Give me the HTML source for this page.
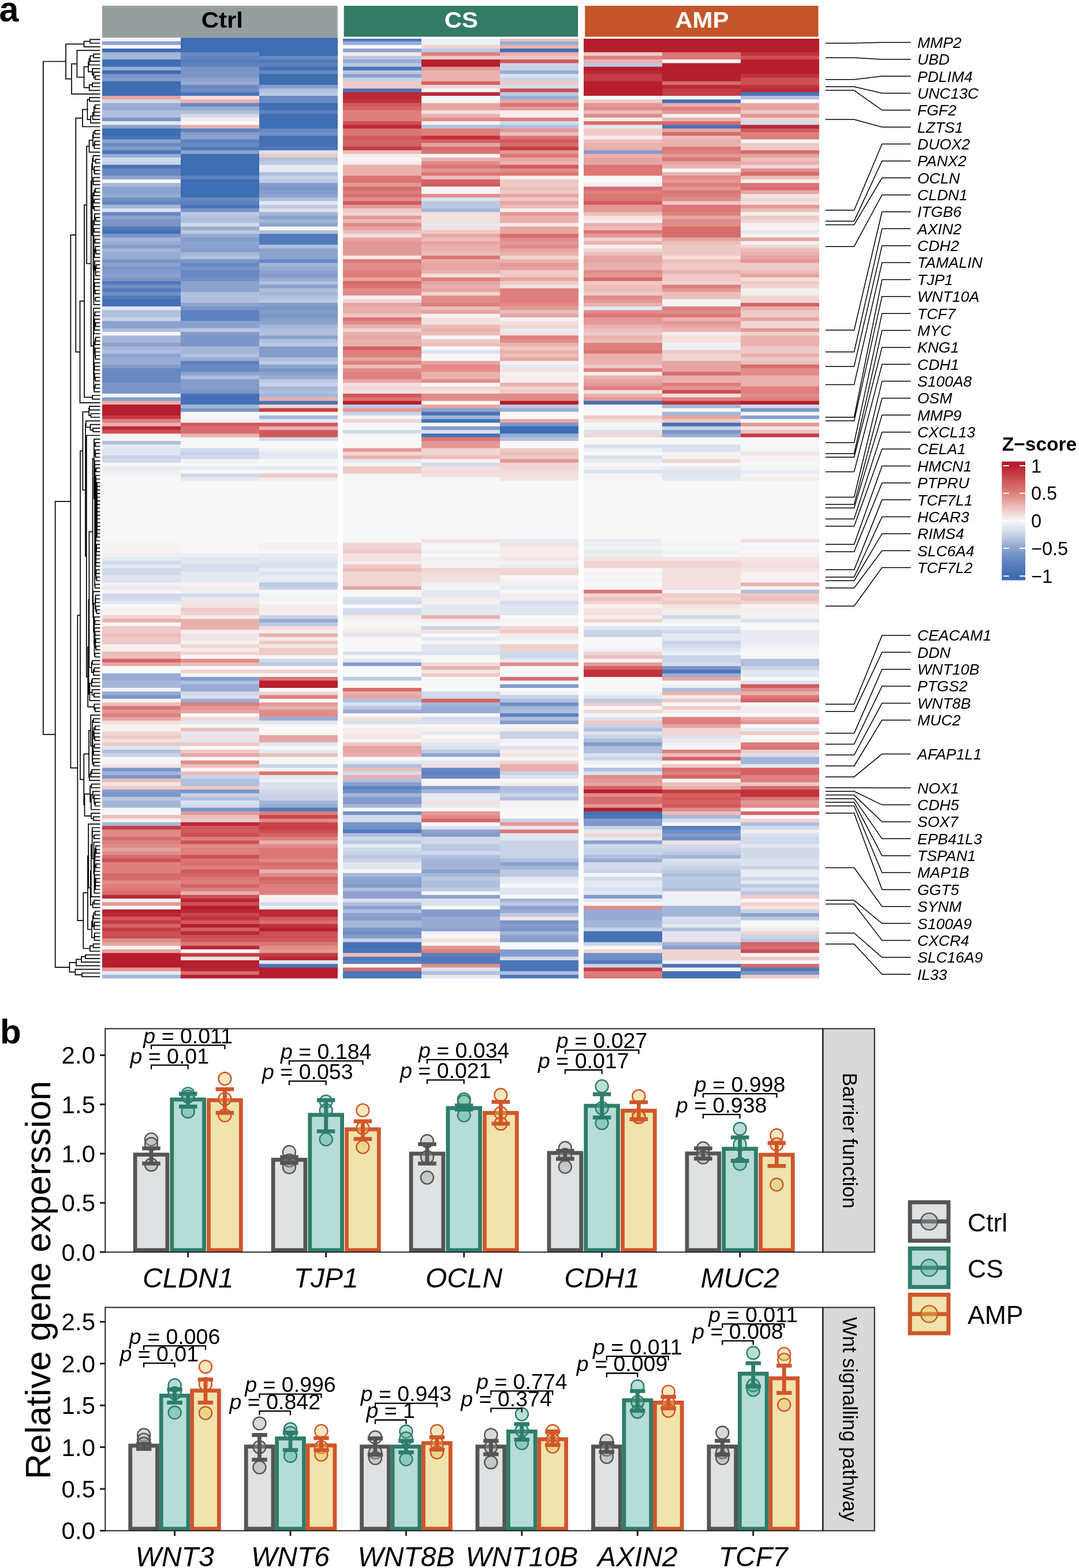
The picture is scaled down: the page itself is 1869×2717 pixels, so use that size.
<!DOCTYPE html>
<html><head><meta charset="utf-8"><title>Figure</title>
<style>html,body{margin:0;padding:0;background:#fff;}svg{display:block;}</style>
</head><body>
<svg width="1869" height="2717" viewBox="0 0 1869 2717">
<rect width="100%" height="100%" fill="#fff"/>
<text x="-1.5" y="37" font-size="61" font-weight="bold" font-family='"Liberation Sans", Arial, Helvetica, sans-serif'>a</text>
<rect x="177" y="10" width="407.8" height="55.5" fill="#969d9e"/>
<text x="0" y="0" font-size="38.5" font-weight="bold" fill="#000" text-anchor="middle" font-family='"Liberation Sans", Arial, Helvetica, sans-serif' transform="translate(384.9 47.5) scale(1.09 1)">Ctrl</text>
<rect x="595.7" y="10" width="405.5" height="53.8" fill="#337a67"/>
<text x="0" y="0" font-size="38.5" font-weight="bold" fill="#fff" text-anchor="middle" font-family='"Liberation Sans", Arial, Helvetica, sans-serif' transform="translate(798.95 47.5) scale(1.09 1)">CS</text>
<rect x="1013.2" y="10" width="404.3" height="53.8" fill="#c4552a"/>
<text x="0" y="0" font-size="38.5" font-weight="bold" fill="#fff" text-anchor="middle" font-family='"Liberation Sans", Arial, Helvetica, sans-serif' transform="translate(1215.85 47.5) scale(1.09 1)">AMP</text>
<rect x="177" y="65.30" width="136" height="6.89" fill="#f7f7f7"/>
<rect x="177" y="71.59" width="136" height="6.89" fill="#8ca2ce"/>
<rect x="177" y="77.89" width="136" height="6.89" fill="#f7f7f7"/>
<rect x="177" y="84.18" width="136" height="6.89" fill="#3d6db2"/>
<rect x="177" y="90.48" width="136" height="13.19" fill="#a4b6d8"/>
<rect x="177" y="103.06" width="136" height="13.19" fill="#3d6db2"/>
<rect x="177" y="115.65" width="136" height="6.89" fill="#98acd3"/>
<rect x="177" y="121.95" width="136" height="6.89" fill="#3d6db2"/>
<rect x="177" y="128.24" width="136" height="6.89" fill="#7a95c8"/>
<rect x="177" y="134.53" width="136" height="6.89" fill="#839ccb"/>
<rect x="177" y="140.83" width="136" height="25.78" fill="#3d6db2"/>
<rect x="177" y="166.00" width="136" height="6.89" fill="#e6a5a2"/>
<rect x="177" y="172.30" width="136" height="6.89" fill="#d1daeb"/>
<rect x="177" y="178.59" width="136" height="13.19" fill="#98acd3"/>
<rect x="177" y="191.18" width="136" height="13.19" fill="#b0bfde"/>
<rect x="177" y="203.77" width="136" height="6.89" fill="#7a95c8"/>
<rect x="177" y="210.06" width="136" height="6.89" fill="#e4e9f1"/>
<rect x="177" y="216.36" width="136" height="6.89" fill="#8ca2ce"/>
<rect x="177" y="222.65" width="136" height="13.19" fill="#3d6db2"/>
<rect x="177" y="235.24" width="136" height="6.89" fill="#4471b5"/>
<rect x="177" y="241.53" width="136" height="6.89" fill="#8ca2ce"/>
<rect x="177" y="247.83" width="136" height="6.89" fill="#6788c3"/>
<rect x="177" y="254.12" width="136" height="6.89" fill="#839ccb"/>
<rect x="177" y="260.41" width="136" height="6.89" fill="#4a75b8"/>
<rect x="177" y="266.71" width="136" height="6.89" fill="#98acd3"/>
<rect x="177" y="273.00" width="136" height="6.89" fill="#d1daeb"/>
<rect x="177" y="279.30" width="136" height="6.89" fill="#c8d3e8"/>
<rect x="177" y="285.59" width="136" height="6.89" fill="#4a75b8"/>
<rect x="177" y="291.88" width="136" height="13.19" fill="#6788c3"/>
<rect x="177" y="304.47" width="136" height="6.89" fill="#8ca2ce"/>
<rect x="177" y="310.77" width="136" height="6.89" fill="#f7f7f7"/>
<rect x="177" y="317.06" width="136" height="6.89" fill="#a4b6d8"/>
<rect x="177" y="323.35" width="136" height="13.19" fill="#8ca2ce"/>
<rect x="177" y="335.94" width="136" height="6.89" fill="#98acd3"/>
<rect x="177" y="342.24" width="136" height="6.89" fill="#708fc6"/>
<rect x="177" y="348.53" width="136" height="6.89" fill="#6788c3"/>
<rect x="177" y="354.82" width="136" height="6.89" fill="#a4b6d8"/>
<rect x="177" y="361.12" width="136" height="6.89" fill="#dbe1ee"/>
<rect x="177" y="367.41" width="136" height="6.89" fill="#6788c3"/>
<rect x="177" y="373.71" width="136" height="6.89" fill="#8ca2ce"/>
<rect x="177" y="380.00" width="136" height="13.19" fill="#7a95c8"/>
<rect x="177" y="392.59" width="136" height="6.89" fill="#517aba"/>
<rect x="177" y="398.88" width="136" height="6.89" fill="#4471b5"/>
<rect x="177" y="405.18" width="136" height="6.89" fill="#7a95c8"/>
<rect x="177" y="411.47" width="136" height="6.89" fill="#a4b6d8"/>
<rect x="177" y="417.76" width="136" height="6.89" fill="#98acd3"/>
<rect x="177" y="424.06" width="136" height="6.89" fill="#839ccb"/>
<rect x="177" y="430.35" width="136" height="6.89" fill="#a4b6d8"/>
<rect x="177" y="436.65" width="136" height="13.19" fill="#98acd3"/>
<rect x="177" y="449.23" width="136" height="6.89" fill="#7a95c8"/>
<rect x="177" y="455.53" width="136" height="6.89" fill="#8ca2ce"/>
<rect x="177" y="461.82" width="136" height="6.89" fill="#7a95c8"/>
<rect x="177" y="468.12" width="136" height="6.89" fill="#839ccb"/>
<rect x="177" y="474.41" width="136" height="6.89" fill="#8ca2ce"/>
<rect x="177" y="480.70" width="136" height="6.89" fill="#7a95c8"/>
<rect x="177" y="487.00" width="136" height="6.89" fill="#517aba"/>
<rect x="177" y="493.29" width="136" height="6.89" fill="#708fc6"/>
<rect x="177" y="499.59" width="136" height="6.89" fill="#517aba"/>
<rect x="177" y="505.88" width="136" height="6.89" fill="#708fc6"/>
<rect x="177" y="512.17" width="136" height="6.89" fill="#517aba"/>
<rect x="177" y="518.47" width="136" height="13.19" fill="#4471b5"/>
<rect x="177" y="531.06" width="136" height="6.89" fill="#e4e9f1"/>
<rect x="177" y="537.35" width="136" height="13.19" fill="#b0bfde"/>
<rect x="177" y="549.94" width="136" height="6.89" fill="#c8d3e8"/>
<rect x="177" y="556.23" width="136" height="13.19" fill="#8ca2ce"/>
<rect x="177" y="568.82" width="136" height="6.89" fill="#b0bfde"/>
<rect x="177" y="575.11" width="136" height="6.89" fill="#f7f7f7"/>
<rect x="177" y="581.41" width="136" height="13.19" fill="#a4b6d8"/>
<rect x="177" y="594.00" width="136" height="6.89" fill="#8ca2ce"/>
<rect x="177" y="600.29" width="136" height="6.89" fill="#a4b6d8"/>
<rect x="177" y="606.58" width="136" height="6.89" fill="#b0bfde"/>
<rect x="177" y="612.88" width="136" height="6.89" fill="#8ca2ce"/>
<rect x="177" y="619.17" width="136" height="13.19" fill="#98acd3"/>
<rect x="177" y="631.76" width="136" height="6.89" fill="#839ccb"/>
<rect x="177" y="638.05" width="136" height="25.78" fill="#6788c3"/>
<rect x="177" y="663.23" width="136" height="19.48" fill="#7a95c8"/>
<rect x="177" y="682.11" width="136" height="6.89" fill="#f7f7f7"/>
<rect x="177" y="688.41" width="136" height="6.89" fill="#839ccb"/>
<rect x="177" y="694.70" width="136" height="6.89" fill="#e9b1ae"/>
<rect x="177" y="700.99" width="136" height="19.48" fill="#b61e2d"/>
<rect x="177" y="719.88" width="136" height="6.89" fill="#c43c44"/>
<rect x="177" y="726.17" width="136" height="6.89" fill="#de7f7e"/>
<rect x="177" y="732.46" width="136" height="6.89" fill="#e9b1ae"/>
<rect x="177" y="738.76" width="136" height="6.89" fill="#bb2835"/>
<rect x="177" y="745.05" width="136" height="6.89" fill="#cd5053"/>
<rect x="177" y="751.35" width="136" height="6.89" fill="#f6f2f2"/>
<rect x="177" y="757.64" width="136" height="6.89" fill="#f7f7f7"/>
<rect x="177" y="763.93" width="136" height="6.89" fill="#b0bfde"/>
<rect x="177" y="770.23" width="136" height="6.89" fill="#e4e9f1"/>
<rect x="177" y="776.52" width="136" height="13.19" fill="#e0e6f0"/>
<rect x="177" y="789.11" width="136" height="6.89" fill="#c8d3e8"/>
<rect x="177" y="795.40" width="136" height="6.89" fill="#d1daeb"/>
<rect x="177" y="801.70" width="136" height="6.89" fill="#f7f7f7"/>
<rect x="177" y="807.99" width="136" height="6.89" fill="#e4e9f1"/>
<rect x="177" y="814.29" width="136" height="6.89" fill="#eef0f4"/>
<rect x="177" y="820.58" width="136" height="6.89" fill="#f6f2f2"/>
<rect x="177" y="826.87" width="136" height="113.89" fill="#f7f7f7"/>
<rect x="177" y="940.17" width="136" height="6.89" fill="#f1f3f5"/>
<rect x="177" y="946.46" width="136" height="13.19" fill="#f6f2f2"/>
<rect x="177" y="959.05" width="136" height="6.89" fill="#eef0f4"/>
<rect x="177" y="965.34" width="136" height="6.89" fill="#e4e9f1"/>
<rect x="177" y="971.64" width="136" height="6.89" fill="#d1daeb"/>
<rect x="177" y="977.93" width="136" height="6.89" fill="#e4e9f1"/>
<rect x="177" y="984.22" width="136" height="13.19" fill="#d1daeb"/>
<rect x="177" y="996.81" width="136" height="6.89" fill="#e0e6f0"/>
<rect x="177" y="1003.11" width="136" height="6.89" fill="#dbe1ee"/>
<rect x="177" y="1009.40" width="136" height="6.89" fill="#f6f0f0"/>
<rect x="177" y="1015.69" width="136" height="6.89" fill="#e4e9f1"/>
<rect x="177" y="1021.99" width="136" height="6.89" fill="#f7f7f7"/>
<rect x="177" y="1028.28" width="136" height="13.19" fill="#d1daeb"/>
<rect x="177" y="1040.87" width="136" height="6.89" fill="#e4e9f1"/>
<rect x="177" y="1047.16" width="136" height="6.89" fill="#f7f7f7"/>
<rect x="177" y="1053.46" width="136" height="13.19" fill="#f6f2f2"/>
<rect x="177" y="1066.05" width="136" height="6.89" fill="#f0d5d2"/>
<rect x="177" y="1072.34" width="136" height="6.89" fill="#e9b1ae"/>
<rect x="177" y="1078.63" width="136" height="6.89" fill="#f7f7f7"/>
<rect x="177" y="1084.93" width="136" height="13.19" fill="#eec9c6"/>
<rect x="177" y="1097.52" width="136" height="6.89" fill="#ecbeba"/>
<rect x="177" y="1103.81" width="136" height="13.19" fill="#eec9c6"/>
<rect x="177" y="1116.40" width="136" height="13.19" fill="#f6f0f0"/>
<rect x="177" y="1128.99" width="136" height="13.19" fill="#ecbeba"/>
<rect x="177" y="1141.57" width="136" height="6.89" fill="#d46364"/>
<rect x="177" y="1147.87" width="136" height="6.89" fill="#e6a5a2"/>
<rect x="177" y="1154.16" width="136" height="13.19" fill="#f7f7f7"/>
<rect x="177" y="1166.75" width="136" height="13.19" fill="#98acd3"/>
<rect x="177" y="1179.34" width="136" height="13.19" fill="#a4b6d8"/>
<rect x="177" y="1191.93" width="136" height="6.89" fill="#f7f7f7"/>
<rect x="177" y="1198.22" width="136" height="6.89" fill="#98acd3"/>
<rect x="177" y="1204.51" width="136" height="6.89" fill="#7a95c8"/>
<rect x="177" y="1210.81" width="136" height="6.89" fill="#f7f7f7"/>
<rect x="177" y="1217.10" width="136" height="6.89" fill="#ecbeba"/>
<rect x="177" y="1223.40" width="136" height="6.89" fill="#db7675"/>
<rect x="177" y="1229.69" width="136" height="6.89" fill="#e49896"/>
<rect x="177" y="1235.98" width="136" height="6.89" fill="#de7f7e"/>
<rect x="177" y="1242.28" width="136" height="6.89" fill="#e6a5a2"/>
<rect x="177" y="1248.57" width="136" height="6.89" fill="#f3e0df"/>
<rect x="177" y="1254.87" width="136" height="6.89" fill="#f6f2f2"/>
<rect x="177" y="1261.16" width="136" height="6.89" fill="#f6f0f0"/>
<rect x="177" y="1267.45" width="136" height="6.89" fill="#f0d5d2"/>
<rect x="177" y="1273.75" width="136" height="6.89" fill="#eec9c6"/>
<rect x="177" y="1280.04" width="136" height="6.89" fill="#f3e0df"/>
<rect x="177" y="1286.34" width="136" height="6.89" fill="#eec9c6"/>
<rect x="177" y="1292.63" width="136" height="6.89" fill="#e4e9f1"/>
<rect x="177" y="1298.92" width="136" height="6.89" fill="#b0bfde"/>
<rect x="177" y="1305.22" width="136" height="6.89" fill="#c8d3e8"/>
<rect x="177" y="1311.51" width="136" height="13.19" fill="#f7f7f7"/>
<rect x="177" y="1324.10" width="136" height="6.89" fill="#f3e5e3"/>
<rect x="177" y="1330.39" width="136" height="6.89" fill="#7a95c8"/>
<rect x="177" y="1336.69" width="136" height="6.89" fill="#a4b6d8"/>
<rect x="177" y="1342.98" width="136" height="6.89" fill="#7a95c8"/>
<rect x="177" y="1349.28" width="136" height="6.89" fill="#ecbeba"/>
<rect x="177" y="1355.57" width="136" height="6.89" fill="#f3e5e3"/>
<rect x="177" y="1361.86" width="136" height="6.89" fill="#eec9c6"/>
<rect x="177" y="1368.16" width="136" height="6.89" fill="#839ccb"/>
<rect x="177" y="1374.45" width="136" height="6.89" fill="#7a95c8"/>
<rect x="177" y="1380.75" width="136" height="6.89" fill="#bcc9e3"/>
<rect x="177" y="1387.04" width="136" height="13.19" fill="#a4b6d8"/>
<rect x="177" y="1399.63" width="136" height="13.19" fill="#f7f7f7"/>
<rect x="177" y="1412.22" width="136" height="6.89" fill="#ecbeba"/>
<rect x="177" y="1418.51" width="136" height="6.89" fill="#f6f0f0"/>
<rect x="177" y="1424.80" width="136" height="6.89" fill="#a4b6d8"/>
<rect x="177" y="1431.10" width="136" height="6.89" fill="#c43c44"/>
<rect x="177" y="1437.39" width="136" height="13.19" fill="#e18c8a"/>
<rect x="177" y="1449.98" width="136" height="6.89" fill="#d76c6d"/>
<rect x="177" y="1456.27" width="136" height="6.89" fill="#de7f7e"/>
<rect x="177" y="1462.57" width="136" height="6.89" fill="#e18c8a"/>
<rect x="177" y="1468.86" width="136" height="6.89" fill="#e6a5a2"/>
<rect x="177" y="1475.16" width="136" height="6.89" fill="#e18c8a"/>
<rect x="177" y="1481.45" width="136" height="6.89" fill="#d76c6d"/>
<rect x="177" y="1487.74" width="136" height="6.89" fill="#cd5053"/>
<rect x="177" y="1494.04" width="136" height="19.48" fill="#de7f7e"/>
<rect x="177" y="1512.92" width="136" height="13.19" fill="#d76c6d"/>
<rect x="177" y="1525.51" width="136" height="6.89" fill="#e18c8a"/>
<rect x="177" y="1531.80" width="136" height="6.89" fill="#de7f7e"/>
<rect x="177" y="1538.10" width="136" height="6.89" fill="#db7675"/>
<rect x="177" y="1544.39" width="136" height="6.89" fill="#d76c6d"/>
<rect x="177" y="1550.68" width="136" height="6.89" fill="#bb2835"/>
<rect x="177" y="1556.98" width="136" height="6.89" fill="#f6f2f2"/>
<rect x="177" y="1563.27" width="136" height="6.89" fill="#e49896"/>
<rect x="177" y="1569.57" width="136" height="6.89" fill="#f7f7f7"/>
<rect x="177" y="1575.86" width="136" height="6.89" fill="#b61e2d"/>
<rect x="177" y="1582.15" width="136" height="6.89" fill="#bb2835"/>
<rect x="177" y="1588.45" width="136" height="6.89" fill="#d0595c"/>
<rect x="177" y="1594.74" width="136" height="6.89" fill="#c43c44"/>
<rect x="177" y="1601.04" width="136" height="6.89" fill="#d46364"/>
<rect x="177" y="1607.33" width="136" height="6.89" fill="#c43c44"/>
<rect x="177" y="1613.62" width="136" height="13.19" fill="#cd5053"/>
<rect x="177" y="1626.21" width="136" height="6.89" fill="#e18c8a"/>
<rect x="177" y="1632.51" width="136" height="6.89" fill="#e6a5a2"/>
<rect x="177" y="1638.80" width="136" height="6.89" fill="#f6f2f2"/>
<rect x="177" y="1645.09" width="136" height="6.89" fill="#e6a5a2"/>
<rect x="177" y="1651.39" width="136" height="25.78" fill="#b61e2d"/>
<rect x="177" y="1676.56" width="136" height="6.89" fill="#e49896"/>
<rect x="177" y="1682.86" width="136" height="6.89" fill="#e4e9f1"/>
<rect x="177" y="1689.15" width="136" height="6.29" fill="#a4b6d8"/>
<rect x="313" y="65.30" width="136" height="25.78" fill="#3d6db2"/>
<rect x="313" y="90.48" width="136" height="6.89" fill="#6788c3"/>
<rect x="313" y="96.77" width="136" height="6.89" fill="#5e82c0"/>
<rect x="313" y="103.06" width="136" height="6.89" fill="#577ebd"/>
<rect x="313" y="109.36" width="136" height="6.89" fill="#5e82c0"/>
<rect x="313" y="115.65" width="136" height="19.48" fill="#7a95c8"/>
<rect x="313" y="134.53" width="136" height="6.89" fill="#8ca2ce"/>
<rect x="313" y="140.83" width="136" height="6.89" fill="#98acd3"/>
<rect x="313" y="147.12" width="136" height="6.89" fill="#6788c3"/>
<rect x="313" y="153.42" width="136" height="6.89" fill="#708fc6"/>
<rect x="313" y="159.71" width="136" height="6.89" fill="#4a75b8"/>
<rect x="313" y="166.00" width="136" height="6.89" fill="#f3e0df"/>
<rect x="313" y="172.30" width="136" height="6.89" fill="#e9b1ae"/>
<rect x="313" y="178.59" width="136" height="6.89" fill="#6788c3"/>
<rect x="313" y="184.89" width="136" height="6.89" fill="#98acd3"/>
<rect x="313" y="191.18" width="136" height="6.89" fill="#b0bfde"/>
<rect x="313" y="197.47" width="136" height="6.89" fill="#d1daeb"/>
<rect x="313" y="203.77" width="136" height="6.89" fill="#f5eceb"/>
<rect x="313" y="210.06" width="136" height="6.89" fill="#f7f7f7"/>
<rect x="313" y="216.36" width="136" height="6.89" fill="#e9b1ae"/>
<rect x="313" y="222.65" width="136" height="6.89" fill="#5e82c0"/>
<rect x="313" y="228.94" width="136" height="6.89" fill="#839ccb"/>
<rect x="313" y="235.24" width="136" height="6.89" fill="#8ca2ce"/>
<rect x="313" y="241.53" width="136" height="6.89" fill="#5e82c0"/>
<rect x="313" y="247.83" width="136" height="6.89" fill="#6788c3"/>
<rect x="313" y="254.12" width="136" height="6.89" fill="#517aba"/>
<rect x="313" y="260.41" width="136" height="6.89" fill="#8ca2ce"/>
<rect x="313" y="266.71" width="136" height="38.36" fill="#3d6db2"/>
<rect x="313" y="304.47" width="136" height="6.89" fill="#5e82c0"/>
<rect x="313" y="310.77" width="136" height="32.07" fill="#3d6db2"/>
<rect x="313" y="342.24" width="136" height="6.89" fill="#6788c3"/>
<rect x="313" y="348.53" width="136" height="6.89" fill="#5e82c0"/>
<rect x="313" y="354.82" width="136" height="6.89" fill="#4a75b8"/>
<rect x="313" y="361.12" width="136" height="6.89" fill="#7a95c8"/>
<rect x="313" y="367.41" width="136" height="6.89" fill="#bcc9e3"/>
<rect x="313" y="373.71" width="136" height="13.19" fill="#b0bfde"/>
<rect x="313" y="386.29" width="136" height="6.89" fill="#d1daeb"/>
<rect x="313" y="392.59" width="136" height="6.89" fill="#98acd3"/>
<rect x="313" y="398.88" width="136" height="6.89" fill="#bcc9e3"/>
<rect x="313" y="405.18" width="136" height="6.89" fill="#98acd3"/>
<rect x="313" y="411.47" width="136" height="6.89" fill="#839ccb"/>
<rect x="313" y="417.76" width="136" height="13.19" fill="#8ca2ce"/>
<rect x="313" y="430.35" width="136" height="6.89" fill="#839ccb"/>
<rect x="313" y="436.65" width="136" height="6.89" fill="#a4b6d8"/>
<rect x="313" y="442.94" width="136" height="6.89" fill="#b0bfde"/>
<rect x="313" y="449.23" width="136" height="6.89" fill="#7a95c8"/>
<rect x="313" y="455.53" width="136" height="6.89" fill="#6788c3"/>
<rect x="313" y="461.82" width="136" height="6.89" fill="#7a95c8"/>
<rect x="313" y="468.12" width="136" height="13.19" fill="#6788c3"/>
<rect x="313" y="480.70" width="136" height="6.89" fill="#708fc6"/>
<rect x="313" y="487.00" width="136" height="19.48" fill="#8ca2ce"/>
<rect x="313" y="505.88" width="136" height="19.48" fill="#b0bfde"/>
<rect x="313" y="524.76" width="136" height="6.89" fill="#8ca2ce"/>
<rect x="313" y="531.06" width="136" height="6.89" fill="#7a95c8"/>
<rect x="313" y="537.35" width="136" height="19.48" fill="#5e82c0"/>
<rect x="313" y="556.23" width="136" height="13.19" fill="#8ca2ce"/>
<rect x="313" y="568.82" width="136" height="6.89" fill="#bcc9e3"/>
<rect x="313" y="575.11" width="136" height="6.89" fill="#839ccb"/>
<rect x="313" y="581.41" width="136" height="19.48" fill="#7a95c8"/>
<rect x="313" y="600.29" width="136" height="13.19" fill="#a4b6d8"/>
<rect x="313" y="612.88" width="136" height="6.89" fill="#b0bfde"/>
<rect x="313" y="619.17" width="136" height="6.89" fill="#98acd3"/>
<rect x="313" y="625.47" width="136" height="6.89" fill="#5e82c0"/>
<rect x="313" y="631.76" width="136" height="13.19" fill="#6788c3"/>
<rect x="313" y="644.35" width="136" height="6.89" fill="#8ca2ce"/>
<rect x="313" y="650.64" width="136" height="6.89" fill="#b0bfde"/>
<rect x="313" y="656.94" width="136" height="19.48" fill="#839ccb"/>
<rect x="313" y="675.82" width="136" height="6.89" fill="#7a95c8"/>
<rect x="313" y="682.11" width="136" height="19.48" fill="#4471b5"/>
<rect x="313" y="700.99" width="136" height="6.89" fill="#a4b6d8"/>
<rect x="313" y="707.29" width="136" height="6.89" fill="#7a95c8"/>
<rect x="313" y="713.58" width="136" height="13.19" fill="#f7f7f7"/>
<rect x="313" y="726.17" width="136" height="6.89" fill="#eef0f4"/>
<rect x="313" y="732.46" width="136" height="6.89" fill="#d0595c"/>
<rect x="313" y="738.76" width="136" height="13.19" fill="#d76c6d"/>
<rect x="313" y="751.35" width="136" height="6.89" fill="#e9b1ae"/>
<rect x="313" y="757.64" width="136" height="19.48" fill="#f7f7f7"/>
<rect x="313" y="776.52" width="136" height="6.89" fill="#d1daeb"/>
<rect x="313" y="782.82" width="136" height="6.89" fill="#c8d3e8"/>
<rect x="313" y="789.11" width="136" height="6.89" fill="#d1daeb"/>
<rect x="313" y="795.40" width="136" height="6.89" fill="#f1f3f5"/>
<rect x="313" y="801.70" width="136" height="6.89" fill="#f7f7f7"/>
<rect x="313" y="807.99" width="136" height="6.89" fill="#e8ebf2"/>
<rect x="313" y="814.29" width="136" height="6.89" fill="#f7f7f7"/>
<rect x="313" y="820.58" width="136" height="6.89" fill="#d1daeb"/>
<rect x="313" y="826.87" width="136" height="6.89" fill="#e4e9f1"/>
<rect x="313" y="833.17" width="136" height="126.48" fill="#f7f7f7"/>
<rect x="313" y="959.05" width="136" height="6.89" fill="#eef0f4"/>
<rect x="313" y="965.34" width="136" height="13.19" fill="#e0e6f0"/>
<rect x="313" y="977.93" width="136" height="13.19" fill="#d5ddec"/>
<rect x="313" y="990.52" width="136" height="13.19" fill="#e4e9f1"/>
<rect x="313" y="1003.11" width="136" height="6.89" fill="#e8ebf2"/>
<rect x="313" y="1009.40" width="136" height="6.89" fill="#f6f2f2"/>
<rect x="313" y="1015.69" width="136" height="6.89" fill="#f5eceb"/>
<rect x="313" y="1021.99" width="136" height="6.89" fill="#eef0f4"/>
<rect x="313" y="1028.28" width="136" height="6.89" fill="#d1daeb"/>
<rect x="313" y="1034.58" width="136" height="6.89" fill="#e8ebf2"/>
<rect x="313" y="1040.87" width="136" height="6.89" fill="#f3e5e3"/>
<rect x="313" y="1047.16" width="136" height="6.89" fill="#f3e0df"/>
<rect x="313" y="1053.46" width="136" height="6.89" fill="#eec9c6"/>
<rect x="313" y="1059.75" width="136" height="6.89" fill="#f0d5d2"/>
<rect x="313" y="1066.05" width="136" height="6.89" fill="#f5eceb"/>
<rect x="313" y="1072.34" width="136" height="19.48" fill="#e9b1ae"/>
<rect x="313" y="1091.22" width="136" height="6.89" fill="#f6f0f0"/>
<rect x="313" y="1097.52" width="136" height="13.19" fill="#f3e5e3"/>
<rect x="313" y="1110.10" width="136" height="6.89" fill="#f6f0f0"/>
<rect x="313" y="1116.40" width="136" height="6.89" fill="#f0d5d2"/>
<rect x="313" y="1122.69" width="136" height="6.89" fill="#f5eceb"/>
<rect x="313" y="1128.99" width="136" height="6.89" fill="#f0d5d2"/>
<rect x="313" y="1135.28" width="136" height="6.89" fill="#f7f7f7"/>
<rect x="313" y="1141.57" width="136" height="6.89" fill="#e18c8a"/>
<rect x="313" y="1147.87" width="136" height="6.89" fill="#ecbeba"/>
<rect x="313" y="1154.16" width="136" height="6.89" fill="#f7f7f7"/>
<rect x="313" y="1160.46" width="136" height="6.89" fill="#f0d5d2"/>
<rect x="313" y="1166.75" width="136" height="6.89" fill="#f7f7f7"/>
<rect x="313" y="1173.04" width="136" height="6.89" fill="#839ccb"/>
<rect x="313" y="1179.34" width="136" height="6.89" fill="#b0bfde"/>
<rect x="313" y="1185.63" width="136" height="13.19" fill="#98acd3"/>
<rect x="313" y="1198.22" width="136" height="6.89" fill="#d1daeb"/>
<rect x="313" y="1204.51" width="136" height="6.89" fill="#dbe1ee"/>
<rect x="313" y="1210.81" width="136" height="6.89" fill="#98acd3"/>
<rect x="313" y="1217.10" width="136" height="6.89" fill="#de7f7e"/>
<rect x="313" y="1223.40" width="136" height="6.89" fill="#e49896"/>
<rect x="313" y="1229.69" width="136" height="6.89" fill="#e6a5a2"/>
<rect x="313" y="1235.98" width="136" height="6.89" fill="#f7f7f7"/>
<rect x="313" y="1242.28" width="136" height="6.89" fill="#f0d5d2"/>
<rect x="313" y="1248.57" width="136" height="6.89" fill="#e4e9f1"/>
<rect x="313" y="1254.87" width="136" height="6.89" fill="#f7f7f7"/>
<rect x="313" y="1261.16" width="136" height="6.89" fill="#ecbeba"/>
<rect x="313" y="1267.45" width="136" height="6.89" fill="#e4e9f1"/>
<rect x="313" y="1273.75" width="136" height="6.89" fill="#f3e0df"/>
<rect x="313" y="1280.04" width="136" height="6.89" fill="#e0e6f0"/>
<rect x="313" y="1286.34" width="136" height="6.89" fill="#eec9c6"/>
<rect x="313" y="1292.63" width="136" height="6.89" fill="#f7f7f7"/>
<rect x="313" y="1298.92" width="136" height="6.89" fill="#eec9c6"/>
<rect x="313" y="1305.22" width="136" height="6.89" fill="#e6a5a2"/>
<rect x="313" y="1311.51" width="136" height="6.89" fill="#f7f7f7"/>
<rect x="313" y="1317.81" width="136" height="6.89" fill="#e18c8a"/>
<rect x="313" y="1324.10" width="136" height="6.89" fill="#ecbeba"/>
<rect x="313" y="1330.39" width="136" height="6.89" fill="#f7f7f7"/>
<rect x="313" y="1336.69" width="136" height="6.89" fill="#ecbeba"/>
<rect x="313" y="1342.98" width="136" height="6.89" fill="#c8d3e8"/>
<rect x="313" y="1349.28" width="136" height="13.19" fill="#b0bfde"/>
<rect x="313" y="1361.86" width="136" height="6.89" fill="#eec9c6"/>
<rect x="313" y="1368.16" width="136" height="6.89" fill="#7a95c8"/>
<rect x="313" y="1374.45" width="136" height="6.89" fill="#c8d3e8"/>
<rect x="313" y="1380.75" width="136" height="6.89" fill="#b0bfde"/>
<rect x="313" y="1387.04" width="136" height="6.89" fill="#dbe1ee"/>
<rect x="313" y="1393.33" width="136" height="6.89" fill="#d1daeb"/>
<rect x="313" y="1399.63" width="136" height="6.89" fill="#7a95c8"/>
<rect x="313" y="1405.92" width="136" height="6.89" fill="#e49896"/>
<rect x="313" y="1412.22" width="136" height="6.89" fill="#ecbeba"/>
<rect x="313" y="1418.51" width="136" height="6.89" fill="#eec9c6"/>
<rect x="313" y="1424.80" width="136" height="6.89" fill="#bb2835"/>
<rect x="313" y="1431.10" width="136" height="13.19" fill="#d0595c"/>
<rect x="313" y="1443.69" width="136" height="6.89" fill="#cd5053"/>
<rect x="313" y="1449.98" width="136" height="6.89" fill="#de7f7e"/>
<rect x="313" y="1456.27" width="136" height="6.89" fill="#cd5053"/>
<rect x="313" y="1462.57" width="136" height="6.89" fill="#e18c8a"/>
<rect x="313" y="1468.86" width="136" height="13.19" fill="#de7f7e"/>
<rect x="313" y="1481.45" width="136" height="6.89" fill="#cd5053"/>
<rect x="313" y="1487.74" width="136" height="6.89" fill="#db7675"/>
<rect x="313" y="1494.04" width="136" height="6.89" fill="#d76c6d"/>
<rect x="313" y="1500.33" width="136" height="6.89" fill="#de7f7e"/>
<rect x="313" y="1506.63" width="136" height="6.89" fill="#d0595c"/>
<rect x="313" y="1512.92" width="136" height="6.89" fill="#d46364"/>
<rect x="313" y="1519.21" width="136" height="6.89" fill="#db7675"/>
<rect x="313" y="1525.51" width="136" height="6.89" fill="#de7f7e"/>
<rect x="313" y="1531.80" width="136" height="6.89" fill="#d46364"/>
<rect x="313" y="1538.10" width="136" height="6.89" fill="#de7f7e"/>
<rect x="313" y="1544.39" width="136" height="6.89" fill="#e9b1ae"/>
<rect x="313" y="1550.68" width="136" height="6.89" fill="#cd5053"/>
<rect x="313" y="1556.98" width="136" height="6.89" fill="#bb2835"/>
<rect x="313" y="1563.27" width="136" height="6.89" fill="#cd5053"/>
<rect x="313" y="1569.57" width="136" height="6.89" fill="#b61e2d"/>
<rect x="313" y="1575.86" width="136" height="6.89" fill="#bb2835"/>
<rect x="313" y="1582.15" width="136" height="6.89" fill="#c8464b"/>
<rect x="313" y="1588.45" width="136" height="6.89" fill="#bf323c"/>
<rect x="313" y="1594.74" width="136" height="6.89" fill="#d0595c"/>
<rect x="313" y="1601.04" width="136" height="6.89" fill="#b61e2d"/>
<rect x="313" y="1607.33" width="136" height="6.89" fill="#d46364"/>
<rect x="313" y="1613.62" width="136" height="6.89" fill="#bb2835"/>
<rect x="313" y="1619.92" width="136" height="6.89" fill="#cd5053"/>
<rect x="313" y="1626.21" width="136" height="6.89" fill="#d0595c"/>
<rect x="313" y="1632.51" width="136" height="6.89" fill="#db7675"/>
<rect x="313" y="1638.80" width="136" height="6.89" fill="#bb2835"/>
<rect x="313" y="1645.09" width="136" height="6.89" fill="#f7f7f7"/>
<rect x="313" y="1651.39" width="136" height="6.89" fill="#c43c44"/>
<rect x="313" y="1657.68" width="136" height="6.89" fill="#f3e0df"/>
<rect x="313" y="1663.98" width="136" height="13.19" fill="#b61e2d"/>
<rect x="313" y="1676.56" width="136" height="6.89" fill="#bb2835"/>
<rect x="313" y="1682.86" width="136" height="6.89" fill="#d76c6d"/>
<rect x="313" y="1689.15" width="136" height="6.29" fill="#b61e2d"/>
<rect x="449" y="65.30" width="136" height="32.07" fill="#3d6db2"/>
<rect x="449" y="96.77" width="136" height="6.89" fill="#6788c3"/>
<rect x="449" y="103.06" width="136" height="6.89" fill="#517aba"/>
<rect x="449" y="109.36" width="136" height="6.89" fill="#5e82c0"/>
<rect x="449" y="115.65" width="136" height="6.89" fill="#4471b5"/>
<rect x="449" y="121.95" width="136" height="6.89" fill="#6788c3"/>
<rect x="449" y="128.24" width="136" height="19.48" fill="#3d6db2"/>
<rect x="449" y="147.12" width="136" height="6.89" fill="#839ccb"/>
<rect x="449" y="153.42" width="136" height="6.89" fill="#b0bfde"/>
<rect x="449" y="159.71" width="136" height="6.89" fill="#bcc9e3"/>
<rect x="449" y="166.00" width="136" height="13.19" fill="#6788c3"/>
<rect x="449" y="178.59" width="136" height="6.89" fill="#3d6db2"/>
<rect x="449" y="184.89" width="136" height="6.89" fill="#4471b5"/>
<rect x="449" y="191.18" width="136" height="6.89" fill="#5e82c0"/>
<rect x="449" y="197.47" width="136" height="25.78" fill="#3d6db2"/>
<rect x="449" y="222.65" width="136" height="6.89" fill="#6788c3"/>
<rect x="449" y="228.94" width="136" height="6.89" fill="#708fc6"/>
<rect x="449" y="235.24" width="136" height="19.48" fill="#4471b5"/>
<rect x="449" y="254.12" width="136" height="6.89" fill="#4a75b8"/>
<rect x="449" y="260.41" width="136" height="6.89" fill="#dbe1ee"/>
<rect x="449" y="266.71" width="136" height="6.89" fill="#eec9c6"/>
<rect x="449" y="273.00" width="136" height="6.89" fill="#b0bfde"/>
<rect x="449" y="279.30" width="136" height="6.89" fill="#bcc9e3"/>
<rect x="449" y="285.59" width="136" height="13.19" fill="#e4e9f1"/>
<rect x="449" y="298.18" width="136" height="6.89" fill="#b0bfde"/>
<rect x="449" y="304.47" width="136" height="6.89" fill="#c8d3e8"/>
<rect x="449" y="310.77" width="136" height="6.89" fill="#bcc9e3"/>
<rect x="449" y="317.06" width="136" height="6.89" fill="#839ccb"/>
<rect x="449" y="323.35" width="136" height="6.89" fill="#7a95c8"/>
<rect x="449" y="329.65" width="136" height="6.89" fill="#839ccb"/>
<rect x="449" y="335.94" width="136" height="6.89" fill="#8ca2ce"/>
<rect x="449" y="342.24" width="136" height="6.89" fill="#b0bfde"/>
<rect x="449" y="348.53" width="136" height="6.89" fill="#e4e9f1"/>
<rect x="449" y="354.82" width="136" height="6.89" fill="#bcc9e3"/>
<rect x="449" y="361.12" width="136" height="6.89" fill="#dbe1ee"/>
<rect x="449" y="367.41" width="136" height="6.89" fill="#a4b6d8"/>
<rect x="449" y="373.71" width="136" height="6.89" fill="#8ca2ce"/>
<rect x="449" y="380.00" width="136" height="6.89" fill="#a4b6d8"/>
<rect x="449" y="386.29" width="136" height="6.89" fill="#8ca2ce"/>
<rect x="449" y="392.59" width="136" height="6.89" fill="#f7f7f7"/>
<rect x="449" y="398.88" width="136" height="6.89" fill="#b0bfde"/>
<rect x="449" y="405.18" width="136" height="19.48" fill="#517aba"/>
<rect x="449" y="424.06" width="136" height="6.89" fill="#b0bfde"/>
<rect x="449" y="430.35" width="136" height="19.48" fill="#8ca2ce"/>
<rect x="449" y="449.23" width="136" height="6.89" fill="#6788c3"/>
<rect x="449" y="455.53" width="136" height="6.89" fill="#a4b6d8"/>
<rect x="449" y="461.82" width="136" height="6.89" fill="#98acd3"/>
<rect x="449" y="468.12" width="136" height="6.89" fill="#8ca2ce"/>
<rect x="449" y="474.41" width="136" height="6.89" fill="#839ccb"/>
<rect x="449" y="480.70" width="136" height="6.89" fill="#98acd3"/>
<rect x="449" y="487.00" width="136" height="6.89" fill="#b0bfde"/>
<rect x="449" y="493.29" width="136" height="6.89" fill="#8ca2ce"/>
<rect x="449" y="499.59" width="136" height="6.89" fill="#b0bfde"/>
<rect x="449" y="505.88" width="136" height="6.89" fill="#a4b6d8"/>
<rect x="449" y="512.17" width="136" height="6.89" fill="#b0bfde"/>
<rect x="449" y="518.47" width="136" height="6.89" fill="#bcc9e3"/>
<rect x="449" y="524.76" width="136" height="6.89" fill="#839ccb"/>
<rect x="449" y="531.06" width="136" height="6.89" fill="#7a95c8"/>
<rect x="449" y="537.35" width="136" height="6.89" fill="#839ccb"/>
<rect x="449" y="543.64" width="136" height="6.89" fill="#7a95c8"/>
<rect x="449" y="549.94" width="136" height="6.89" fill="#839ccb"/>
<rect x="449" y="556.23" width="136" height="6.89" fill="#8ca2ce"/>
<rect x="449" y="562.53" width="136" height="6.89" fill="#a4b6d8"/>
<rect x="449" y="568.82" width="136" height="13.19" fill="#b0bfde"/>
<rect x="449" y="581.41" width="136" height="6.89" fill="#8ca2ce"/>
<rect x="449" y="587.70" width="136" height="6.89" fill="#b0bfde"/>
<rect x="449" y="594.00" width="136" height="6.89" fill="#bcc9e3"/>
<rect x="449" y="600.29" width="136" height="19.48" fill="#839ccb"/>
<rect x="449" y="619.17" width="136" height="6.89" fill="#b0bfde"/>
<rect x="449" y="625.47" width="136" height="6.89" fill="#bcc9e3"/>
<rect x="449" y="631.76" width="136" height="6.89" fill="#8ca2ce"/>
<rect x="449" y="638.05" width="136" height="6.89" fill="#7a95c8"/>
<rect x="449" y="644.35" width="136" height="6.89" fill="#8ca2ce"/>
<rect x="449" y="650.64" width="136" height="6.89" fill="#98acd3"/>
<rect x="449" y="656.94" width="136" height="6.89" fill="#bcc9e3"/>
<rect x="449" y="663.23" width="136" height="6.89" fill="#c8d3e8"/>
<rect x="449" y="669.52" width="136" height="6.89" fill="#a4b6d8"/>
<rect x="449" y="675.82" width="136" height="6.89" fill="#b0bfde"/>
<rect x="449" y="682.11" width="136" height="6.89" fill="#a4b6d8"/>
<rect x="449" y="688.41" width="136" height="6.89" fill="#e9b1ae"/>
<rect x="449" y="694.70" width="136" height="6.89" fill="#4a75b8"/>
<rect x="449" y="700.99" width="136" height="6.89" fill="#f0d5d2"/>
<rect x="449" y="707.29" width="136" height="6.89" fill="#c43c44"/>
<rect x="449" y="713.58" width="136" height="6.89" fill="#f7f7f7"/>
<rect x="449" y="719.88" width="136" height="6.89" fill="#a4b6d8"/>
<rect x="449" y="726.17" width="136" height="6.89" fill="#e4e9f1"/>
<rect x="449" y="732.46" width="136" height="6.89" fill="#d0595c"/>
<rect x="449" y="738.76" width="136" height="6.89" fill="#e9b1ae"/>
<rect x="449" y="745.05" width="136" height="13.19" fill="#d0595c"/>
<rect x="449" y="757.64" width="136" height="6.89" fill="#d1daeb"/>
<rect x="449" y="763.93" width="136" height="13.19" fill="#f7f7f7"/>
<rect x="449" y="776.52" width="136" height="6.89" fill="#eef0f4"/>
<rect x="449" y="782.82" width="136" height="13.19" fill="#e4e9f1"/>
<rect x="449" y="795.40" width="136" height="13.19" fill="#f7f7f7"/>
<rect x="449" y="807.99" width="136" height="6.89" fill="#e4e9f1"/>
<rect x="449" y="814.29" width="136" height="6.89" fill="#f7f7f7"/>
<rect x="449" y="820.58" width="136" height="6.89" fill="#eec9c6"/>
<rect x="449" y="826.87" width="136" height="6.89" fill="#f5eceb"/>
<rect x="449" y="833.17" width="136" height="107.60" fill="#f7f7f7"/>
<rect x="449" y="940.17" width="136" height="13.19" fill="#f6f0f0"/>
<rect x="449" y="952.75" width="136" height="6.89" fill="#f7f7f7"/>
<rect x="449" y="959.05" width="136" height="6.89" fill="#e8ebf2"/>
<rect x="449" y="965.34" width="136" height="6.89" fill="#e4e9f1"/>
<rect x="449" y="971.64" width="136" height="13.19" fill="#dbe1ee"/>
<rect x="449" y="984.22" width="136" height="6.89" fill="#e8ebf2"/>
<rect x="449" y="990.52" width="136" height="6.89" fill="#dbe1ee"/>
<rect x="449" y="996.81" width="136" height="6.89" fill="#e8ebf2"/>
<rect x="449" y="1003.11" width="136" height="6.89" fill="#e4e9f1"/>
<rect x="449" y="1009.40" width="136" height="6.89" fill="#bcc9e3"/>
<rect x="449" y="1015.69" width="136" height="6.89" fill="#c8d3e8"/>
<rect x="449" y="1021.99" width="136" height="6.89" fill="#f7f7f7"/>
<rect x="449" y="1028.28" width="136" height="13.19" fill="#f1f3f5"/>
<rect x="449" y="1040.87" width="136" height="6.89" fill="#f7f7f7"/>
<rect x="449" y="1047.16" width="136" height="19.48" fill="#f5eceb"/>
<rect x="449" y="1066.05" width="136" height="6.89" fill="#c8d3e8"/>
<rect x="449" y="1072.34" width="136" height="6.89" fill="#98acd3"/>
<rect x="449" y="1078.63" width="136" height="6.89" fill="#bcc9e3"/>
<rect x="449" y="1084.93" width="136" height="6.89" fill="#f3e0df"/>
<rect x="449" y="1091.22" width="136" height="6.89" fill="#f5eceb"/>
<rect x="449" y="1097.52" width="136" height="6.89" fill="#e9b1ae"/>
<rect x="449" y="1103.81" width="136" height="6.89" fill="#f5eceb"/>
<rect x="449" y="1110.10" width="136" height="6.89" fill="#eec9c6"/>
<rect x="449" y="1116.40" width="136" height="6.89" fill="#f3e5e3"/>
<rect x="449" y="1122.69" width="136" height="13.19" fill="#eec9c6"/>
<rect x="449" y="1135.28" width="136" height="6.89" fill="#f7f7f7"/>
<rect x="449" y="1141.57" width="136" height="6.89" fill="#d1daeb"/>
<rect x="449" y="1147.87" width="136" height="6.89" fill="#bcc9e3"/>
<rect x="449" y="1154.16" width="136" height="6.89" fill="#f7f7f7"/>
<rect x="449" y="1160.46" width="136" height="6.89" fill="#f0d5d2"/>
<rect x="449" y="1166.75" width="136" height="6.89" fill="#f7f7f7"/>
<rect x="449" y="1173.04" width="136" height="6.89" fill="#db7675"/>
<rect x="449" y="1179.34" width="136" height="13.19" fill="#b61e2d"/>
<rect x="449" y="1191.93" width="136" height="6.89" fill="#f7f7f7"/>
<rect x="449" y="1198.22" width="136" height="6.89" fill="#f0d5d2"/>
<rect x="449" y="1204.51" width="136" height="6.89" fill="#de7f7e"/>
<rect x="449" y="1210.81" width="136" height="6.89" fill="#f7f7f7"/>
<rect x="449" y="1217.10" width="136" height="6.89" fill="#e49896"/>
<rect x="449" y="1223.40" width="136" height="6.89" fill="#e9b1ae"/>
<rect x="449" y="1229.69" width="136" height="13.19" fill="#e18c8a"/>
<rect x="449" y="1242.28" width="136" height="6.89" fill="#98acd3"/>
<rect x="449" y="1248.57" width="136" height="6.89" fill="#e4e9f1"/>
<rect x="449" y="1254.87" width="136" height="19.48" fill="#f7f7f7"/>
<rect x="449" y="1273.75" width="136" height="13.19" fill="#e6a5a2"/>
<rect x="449" y="1286.34" width="136" height="6.89" fill="#e4e9f1"/>
<rect x="449" y="1292.63" width="136" height="6.89" fill="#f7f7f7"/>
<rect x="449" y="1298.92" width="136" height="6.89" fill="#e4e9f1"/>
<rect x="449" y="1305.22" width="136" height="6.89" fill="#ecbeba"/>
<rect x="449" y="1311.51" width="136" height="6.89" fill="#f6f2f2"/>
<rect x="449" y="1317.81" width="136" height="6.89" fill="#f7f7f7"/>
<rect x="449" y="1324.10" width="136" height="6.89" fill="#c8d3e8"/>
<rect x="449" y="1330.39" width="136" height="6.89" fill="#f7f7f7"/>
<rect x="449" y="1336.69" width="136" height="6.89" fill="#db7675"/>
<rect x="449" y="1342.98" width="136" height="6.89" fill="#e4e9f1"/>
<rect x="449" y="1349.28" width="136" height="6.89" fill="#eef0f4"/>
<rect x="449" y="1355.57" width="136" height="13.19" fill="#dbe1ee"/>
<rect x="449" y="1368.16" width="136" height="6.89" fill="#d1daeb"/>
<rect x="449" y="1374.45" width="136" height="13.19" fill="#c8d3e8"/>
<rect x="449" y="1387.04" width="136" height="6.89" fill="#a4b6d8"/>
<rect x="449" y="1393.33" width="136" height="6.89" fill="#98acd3"/>
<rect x="449" y="1399.63" width="136" height="6.89" fill="#517aba"/>
<rect x="449" y="1405.92" width="136" height="6.89" fill="#de7f7e"/>
<rect x="449" y="1412.22" width="136" height="6.89" fill="#c8464b"/>
<rect x="449" y="1418.51" width="136" height="6.89" fill="#e18c8a"/>
<rect x="449" y="1424.80" width="136" height="6.89" fill="#c8464b"/>
<rect x="449" y="1431.10" width="136" height="6.89" fill="#c43c44"/>
<rect x="449" y="1437.39" width="136" height="6.89" fill="#cd5053"/>
<rect x="449" y="1443.69" width="136" height="6.89" fill="#d46364"/>
<rect x="449" y="1449.98" width="136" height="6.89" fill="#de7f7e"/>
<rect x="449" y="1456.27" width="136" height="6.89" fill="#e9b1ae"/>
<rect x="449" y="1462.57" width="136" height="6.89" fill="#e18c8a"/>
<rect x="449" y="1468.86" width="136" height="19.48" fill="#db7675"/>
<rect x="449" y="1487.74" width="136" height="6.89" fill="#e18c8a"/>
<rect x="449" y="1494.04" width="136" height="6.89" fill="#d76c6d"/>
<rect x="449" y="1500.33" width="136" height="6.89" fill="#db7675"/>
<rect x="449" y="1506.63" width="136" height="6.89" fill="#e9b1ae"/>
<rect x="449" y="1512.92" width="136" height="6.89" fill="#e18c8a"/>
<rect x="449" y="1519.21" width="136" height="6.89" fill="#d46364"/>
<rect x="449" y="1525.51" width="136" height="6.89" fill="#d76c6d"/>
<rect x="449" y="1531.80" width="136" height="19.48" fill="#de7f7e"/>
<rect x="449" y="1550.68" width="136" height="13.19" fill="#f6f2f2"/>
<rect x="449" y="1563.27" width="136" height="6.89" fill="#d1daeb"/>
<rect x="449" y="1569.57" width="136" height="6.89" fill="#f7f7f7"/>
<rect x="449" y="1575.86" width="136" height="13.19" fill="#bb2835"/>
<rect x="449" y="1588.45" width="136" height="6.89" fill="#d0595c"/>
<rect x="449" y="1594.74" width="136" height="6.89" fill="#d76c6d"/>
<rect x="449" y="1601.04" width="136" height="6.89" fill="#bf323c"/>
<rect x="449" y="1607.33" width="136" height="6.89" fill="#b61e2d"/>
<rect x="449" y="1613.62" width="136" height="13.19" fill="#cd5053"/>
<rect x="449" y="1626.21" width="136" height="6.89" fill="#d0595c"/>
<rect x="449" y="1632.51" width="136" height="6.89" fill="#db7675"/>
<rect x="449" y="1638.80" width="136" height="6.89" fill="#e18c8a"/>
<rect x="449" y="1645.09" width="136" height="6.89" fill="#e49896"/>
<rect x="449" y="1651.39" width="136" height="6.89" fill="#c43c44"/>
<rect x="449" y="1657.68" width="136" height="6.89" fill="#bb2835"/>
<rect x="449" y="1663.98" width="136" height="6.89" fill="#e4e9f1"/>
<rect x="449" y="1670.27" width="136" height="6.89" fill="#4a75b8"/>
<rect x="449" y="1676.56" width="136" height="18.88" fill="#b61e2d"/>
<rect x="594" y="65.30" width="136" height="6.89" fill="#4a75b8"/>
<rect x="594" y="71.59" width="136" height="6.89" fill="#98acd3"/>
<rect x="594" y="77.89" width="136" height="6.89" fill="#f7f7f7"/>
<rect x="594" y="84.18" width="136" height="6.89" fill="#8ca2ce"/>
<rect x="594" y="90.48" width="136" height="6.89" fill="#f5eceb"/>
<rect x="594" y="96.77" width="136" height="6.89" fill="#bcc9e3"/>
<rect x="594" y="103.06" width="136" height="6.89" fill="#98acd3"/>
<rect x="594" y="109.36" width="136" height="6.89" fill="#bcc9e3"/>
<rect x="594" y="115.65" width="136" height="6.89" fill="#4a75b8"/>
<rect x="594" y="121.95" width="136" height="6.89" fill="#bcc9e3"/>
<rect x="594" y="128.24" width="136" height="6.89" fill="#8ca2ce"/>
<rect x="594" y="134.53" width="136" height="6.89" fill="#c8d3e8"/>
<rect x="594" y="140.83" width="136" height="13.19" fill="#eec9c6"/>
<rect x="594" y="153.42" width="136" height="6.89" fill="#4a75b8"/>
<rect x="594" y="159.71" width="136" height="13.19" fill="#bb2835"/>
<rect x="594" y="172.30" width="136" height="6.89" fill="#bf323c"/>
<rect x="594" y="178.59" width="136" height="6.89" fill="#d0595c"/>
<rect x="594" y="184.89" width="136" height="6.89" fill="#d46364"/>
<rect x="594" y="191.18" width="136" height="19.48" fill="#de7f7e"/>
<rect x="594" y="210.06" width="136" height="6.89" fill="#cd5053"/>
<rect x="594" y="216.36" width="136" height="6.89" fill="#bb2835"/>
<rect x="594" y="222.65" width="136" height="13.19" fill="#db7675"/>
<rect x="594" y="235.24" width="136" height="6.89" fill="#d0595c"/>
<rect x="594" y="241.53" width="136" height="13.19" fill="#d46364"/>
<rect x="594" y="254.12" width="136" height="6.89" fill="#c43c44"/>
<rect x="594" y="260.41" width="136" height="6.89" fill="#ecbeba"/>
<rect x="594" y="266.71" width="136" height="6.89" fill="#f5eceb"/>
<rect x="594" y="273.00" width="136" height="6.89" fill="#f7f7f7"/>
<rect x="594" y="279.30" width="136" height="6.89" fill="#f5eceb"/>
<rect x="594" y="285.59" width="136" height="19.48" fill="#e9b1ae"/>
<rect x="594" y="304.47" width="136" height="13.19" fill="#db7675"/>
<rect x="594" y="317.06" width="136" height="6.89" fill="#e49896"/>
<rect x="594" y="323.35" width="136" height="6.89" fill="#d76c6d"/>
<rect x="594" y="329.65" width="136" height="6.89" fill="#de7f7e"/>
<rect x="594" y="335.94" width="136" height="6.89" fill="#d76c6d"/>
<rect x="594" y="342.24" width="136" height="6.89" fill="#e18c8a"/>
<rect x="594" y="348.53" width="136" height="6.89" fill="#d0595c"/>
<rect x="594" y="354.82" width="136" height="6.89" fill="#e49896"/>
<rect x="594" y="361.12" width="136" height="6.89" fill="#eec9c6"/>
<rect x="594" y="367.41" width="136" height="6.89" fill="#f0d5d2"/>
<rect x="594" y="373.71" width="136" height="6.89" fill="#e49896"/>
<rect x="594" y="380.00" width="136" height="6.89" fill="#ecbeba"/>
<rect x="594" y="386.29" width="136" height="6.89" fill="#e18c8a"/>
<rect x="594" y="392.59" width="136" height="6.89" fill="#e6a5a2"/>
<rect x="594" y="398.88" width="136" height="6.89" fill="#ecbeba"/>
<rect x="594" y="405.18" width="136" height="6.89" fill="#f3e0df"/>
<rect x="594" y="411.47" width="136" height="6.89" fill="#e6a5a2"/>
<rect x="594" y="417.76" width="136" height="25.78" fill="#e49896"/>
<rect x="594" y="442.94" width="136" height="6.89" fill="#f3e5e3"/>
<rect x="594" y="449.23" width="136" height="6.89" fill="#db7675"/>
<rect x="594" y="455.53" width="136" height="13.19" fill="#e18c8a"/>
<rect x="594" y="468.12" width="136" height="13.19" fill="#de7f7e"/>
<rect x="594" y="480.70" width="136" height="6.89" fill="#e6a5a2"/>
<rect x="594" y="487.00" width="136" height="6.89" fill="#d76c6d"/>
<rect x="594" y="493.29" width="136" height="6.89" fill="#db7675"/>
<rect x="594" y="499.59" width="136" height="13.19" fill="#e18c8a"/>
<rect x="594" y="512.17" width="136" height="6.89" fill="#f6f0f0"/>
<rect x="594" y="518.47" width="136" height="6.89" fill="#f0d5d2"/>
<rect x="594" y="524.76" width="136" height="6.89" fill="#e6a5a2"/>
<rect x="594" y="531.06" width="136" height="13.19" fill="#e9b1ae"/>
<rect x="594" y="543.64" width="136" height="6.89" fill="#eec9c6"/>
<rect x="594" y="549.94" width="136" height="6.89" fill="#db7675"/>
<rect x="594" y="556.23" width="136" height="6.89" fill="#e18c8a"/>
<rect x="594" y="562.53" width="136" height="6.89" fill="#e9b1ae"/>
<rect x="594" y="568.82" width="136" height="6.89" fill="#f0d5d2"/>
<rect x="594" y="575.11" width="136" height="6.89" fill="#e9b1ae"/>
<rect x="594" y="581.41" width="136" height="6.89" fill="#e6a5a2"/>
<rect x="594" y="587.70" width="136" height="13.19" fill="#e9b1ae"/>
<rect x="594" y="600.29" width="136" height="6.89" fill="#d46364"/>
<rect x="594" y="606.58" width="136" height="13.19" fill="#de7f7e"/>
<rect x="594" y="619.17" width="136" height="6.89" fill="#e6a5a2"/>
<rect x="594" y="625.47" width="136" height="6.89" fill="#de7f7e"/>
<rect x="594" y="631.76" width="136" height="6.89" fill="#ecbeba"/>
<rect x="594" y="638.05" width="136" height="6.89" fill="#e18c8a"/>
<rect x="594" y="644.35" width="136" height="13.19" fill="#de7f7e"/>
<rect x="594" y="656.94" width="136" height="6.89" fill="#e6a5a2"/>
<rect x="594" y="663.23" width="136" height="6.89" fill="#f3e0df"/>
<rect x="594" y="669.52" width="136" height="6.89" fill="#f0d5d2"/>
<rect x="594" y="675.82" width="136" height="6.89" fill="#f3e0df"/>
<rect x="594" y="682.11" width="136" height="6.89" fill="#d0595c"/>
<rect x="594" y="688.41" width="136" height="6.89" fill="#db7675"/>
<rect x="594" y="694.70" width="136" height="6.89" fill="#b61e2d"/>
<rect x="594" y="700.99" width="136" height="6.89" fill="#bcc9e3"/>
<rect x="594" y="707.29" width="136" height="6.89" fill="#e49896"/>
<rect x="594" y="713.58" width="136" height="6.89" fill="#c8d3e8"/>
<rect x="594" y="719.88" width="136" height="6.89" fill="#f7f7f7"/>
<rect x="594" y="726.17" width="136" height="6.89" fill="#f0d5d2"/>
<rect x="594" y="732.46" width="136" height="13.19" fill="#f7f7f7"/>
<rect x="594" y="745.05" width="136" height="6.89" fill="#d1daeb"/>
<rect x="594" y="751.35" width="136" height="25.78" fill="#f7f7f7"/>
<rect x="594" y="776.52" width="136" height="6.89" fill="#e49896"/>
<rect x="594" y="782.82" width="136" height="6.89" fill="#f0d5d2"/>
<rect x="594" y="789.11" width="136" height="6.89" fill="#e9b1ae"/>
<rect x="594" y="795.40" width="136" height="6.89" fill="#e4e9f1"/>
<rect x="594" y="801.70" width="136" height="6.89" fill="#f7f7f7"/>
<rect x="594" y="807.99" width="136" height="13.19" fill="#eec9c6"/>
<rect x="594" y="820.58" width="136" height="6.89" fill="#f6f2f2"/>
<rect x="594" y="826.87" width="136" height="6.89" fill="#f7f5f5"/>
<rect x="594" y="833.17" width="136" height="107.60" fill="#f7f7f7"/>
<rect x="594" y="940.17" width="136" height="13.19" fill="#f0d5d2"/>
<rect x="594" y="952.75" width="136" height="6.89" fill="#eec9c6"/>
<rect x="594" y="959.05" width="136" height="13.19" fill="#f3e0df"/>
<rect x="594" y="971.64" width="136" height="6.89" fill="#f5eceb"/>
<rect x="594" y="977.93" width="136" height="6.89" fill="#eec9c6"/>
<rect x="594" y="984.22" width="136" height="6.89" fill="#ecbeba"/>
<rect x="594" y="990.52" width="136" height="25.78" fill="#f0d5d2"/>
<rect x="594" y="1015.69" width="136" height="6.89" fill="#e6a5a2"/>
<rect x="594" y="1021.99" width="136" height="13.19" fill="#f7f7f7"/>
<rect x="594" y="1034.58" width="136" height="6.89" fill="#dbe1ee"/>
<rect x="594" y="1040.87" width="136" height="6.89" fill="#d1daeb"/>
<rect x="594" y="1047.16" width="136" height="6.89" fill="#f7f7f7"/>
<rect x="594" y="1053.46" width="136" height="13.19" fill="#d5ddec"/>
<rect x="594" y="1066.05" width="136" height="6.89" fill="#f5eceb"/>
<rect x="594" y="1072.34" width="136" height="6.89" fill="#f1f3f5"/>
<rect x="594" y="1078.63" width="136" height="6.89" fill="#f7f7f7"/>
<rect x="594" y="1084.93" width="136" height="6.89" fill="#f6f2f2"/>
<rect x="594" y="1091.22" width="136" height="6.89" fill="#f5eceb"/>
<rect x="594" y="1097.52" width="136" height="6.89" fill="#e0e6f0"/>
<rect x="594" y="1103.81" width="136" height="25.78" fill="#f7f7f7"/>
<rect x="594" y="1128.99" width="136" height="6.89" fill="#dbe1ee"/>
<rect x="594" y="1135.28" width="136" height="6.89" fill="#f7f7f7"/>
<rect x="594" y="1141.57" width="136" height="6.89" fill="#e0e6f0"/>
<rect x="594" y="1147.87" width="136" height="6.89" fill="#839ccb"/>
<rect x="594" y="1154.16" width="136" height="19.48" fill="#f7f7f7"/>
<rect x="594" y="1173.04" width="136" height="6.89" fill="#bcc9e3"/>
<rect x="594" y="1179.34" width="136" height="13.19" fill="#f7f7f7"/>
<rect x="594" y="1191.93" width="136" height="6.89" fill="#d76c6d"/>
<rect x="594" y="1198.22" width="136" height="6.89" fill="#e9b1ae"/>
<rect x="594" y="1204.51" width="136" height="6.89" fill="#e6a5a2"/>
<rect x="594" y="1210.81" width="136" height="6.89" fill="#b0bfde"/>
<rect x="594" y="1217.10" width="136" height="6.89" fill="#dbe1ee"/>
<rect x="594" y="1223.40" width="136" height="6.89" fill="#bcc9e3"/>
<rect x="594" y="1229.69" width="136" height="6.89" fill="#98acd3"/>
<rect x="594" y="1235.98" width="136" height="6.89" fill="#f7f7f7"/>
<rect x="594" y="1242.28" width="136" height="6.89" fill="#f3e0df"/>
<rect x="594" y="1248.57" width="136" height="6.89" fill="#dbe1ee"/>
<rect x="594" y="1254.87" width="136" height="6.89" fill="#f7f7f7"/>
<rect x="594" y="1261.16" width="136" height="13.19" fill="#f5eceb"/>
<rect x="594" y="1273.75" width="136" height="6.89" fill="#f3e5e3"/>
<rect x="594" y="1280.04" width="136" height="6.89" fill="#f7f7f7"/>
<rect x="594" y="1286.34" width="136" height="6.89" fill="#eec9c6"/>
<rect x="594" y="1292.63" width="136" height="13.19" fill="#e6a5a2"/>
<rect x="594" y="1305.22" width="136" height="6.89" fill="#e9b1ae"/>
<rect x="594" y="1311.51" width="136" height="6.89" fill="#f7f7f7"/>
<rect x="594" y="1317.81" width="136" height="6.89" fill="#e4e9f1"/>
<rect x="594" y="1324.10" width="136" height="6.89" fill="#b0bfde"/>
<rect x="594" y="1330.39" width="136" height="6.89" fill="#ecbeba"/>
<rect x="594" y="1336.69" width="136" height="6.89" fill="#d1daeb"/>
<rect x="594" y="1342.98" width="136" height="6.89" fill="#e9b1ae"/>
<rect x="594" y="1349.28" width="136" height="6.89" fill="#b0bfde"/>
<rect x="594" y="1355.57" width="136" height="6.89" fill="#8ca2ce"/>
<rect x="594" y="1361.86" width="136" height="6.89" fill="#5e82c0"/>
<rect x="594" y="1368.16" width="136" height="6.89" fill="#708fc6"/>
<rect x="594" y="1374.45" width="136" height="6.89" fill="#a4b6d8"/>
<rect x="594" y="1380.75" width="136" height="13.19" fill="#839ccb"/>
<rect x="594" y="1393.33" width="136" height="6.89" fill="#a4b6d8"/>
<rect x="594" y="1399.63" width="136" height="6.89" fill="#f7f7f7"/>
<rect x="594" y="1405.92" width="136" height="6.89" fill="#708fc6"/>
<rect x="594" y="1412.22" width="136" height="13.19" fill="#d1daeb"/>
<rect x="594" y="1424.80" width="136" height="6.89" fill="#7a95c8"/>
<rect x="594" y="1431.10" width="136" height="6.89" fill="#708fc6"/>
<rect x="594" y="1437.39" width="136" height="6.89" fill="#517aba"/>
<rect x="594" y="1443.69" width="136" height="6.89" fill="#b0bfde"/>
<rect x="594" y="1449.98" width="136" height="6.89" fill="#d1daeb"/>
<rect x="594" y="1456.27" width="136" height="6.89" fill="#bcc9e3"/>
<rect x="594" y="1462.57" width="136" height="6.89" fill="#e8ebf2"/>
<rect x="594" y="1468.86" width="136" height="6.89" fill="#d1daeb"/>
<rect x="594" y="1475.16" width="136" height="6.89" fill="#c8d3e8"/>
<rect x="594" y="1481.45" width="136" height="6.89" fill="#bcc9e3"/>
<rect x="594" y="1487.74" width="136" height="6.89" fill="#c8d3e8"/>
<rect x="594" y="1494.04" width="136" height="13.19" fill="#e0e6f0"/>
<rect x="594" y="1506.63" width="136" height="6.89" fill="#f7f7f7"/>
<rect x="594" y="1512.92" width="136" height="6.89" fill="#a4b6d8"/>
<rect x="594" y="1519.21" width="136" height="13.19" fill="#8ca2ce"/>
<rect x="594" y="1531.80" width="136" height="6.89" fill="#839ccb"/>
<rect x="594" y="1538.10" width="136" height="6.89" fill="#b0bfde"/>
<rect x="594" y="1544.39" width="136" height="13.19" fill="#8ca2ce"/>
<rect x="594" y="1556.98" width="136" height="6.89" fill="#dbe1ee"/>
<rect x="594" y="1563.27" width="136" height="6.89" fill="#b0bfde"/>
<rect x="594" y="1569.57" width="136" height="6.89" fill="#8ca2ce"/>
<rect x="594" y="1575.86" width="136" height="6.89" fill="#b0bfde"/>
<rect x="594" y="1582.15" width="136" height="6.89" fill="#8ca2ce"/>
<rect x="594" y="1588.45" width="136" height="6.89" fill="#839ccb"/>
<rect x="594" y="1594.74" width="136" height="13.19" fill="#a4b6d8"/>
<rect x="594" y="1607.33" width="136" height="6.89" fill="#7a95c8"/>
<rect x="594" y="1613.62" width="136" height="6.89" fill="#708fc6"/>
<rect x="594" y="1619.92" width="136" height="6.89" fill="#839ccb"/>
<rect x="594" y="1626.21" width="136" height="6.89" fill="#c8d3e8"/>
<rect x="594" y="1632.51" width="136" height="13.19" fill="#4471b5"/>
<rect x="594" y="1645.09" width="136" height="6.89" fill="#4a75b8"/>
<rect x="594" y="1651.39" width="136" height="6.89" fill="#ecbeba"/>
<rect x="594" y="1657.68" width="136" height="6.89" fill="#517aba"/>
<rect x="594" y="1663.98" width="136" height="6.89" fill="#577ebd"/>
<rect x="594" y="1670.27" width="136" height="6.89" fill="#f7f7f7"/>
<rect x="594" y="1676.56" width="136" height="6.89" fill="#d76c6d"/>
<rect x="594" y="1682.86" width="136" height="12.59" fill="#4a75b8"/>
<rect x="730" y="65.30" width="136" height="13.19" fill="#eef0f4"/>
<rect x="730" y="77.89" width="136" height="6.89" fill="#f0d5d2"/>
<rect x="730" y="84.18" width="136" height="6.89" fill="#bcc9e3"/>
<rect x="730" y="90.48" width="136" height="6.89" fill="#de7f7e"/>
<rect x="730" y="96.77" width="136" height="6.89" fill="#eec9c6"/>
<rect x="730" y="103.06" width="136" height="13.19" fill="#b61e2d"/>
<rect x="730" y="115.65" width="136" height="6.89" fill="#e49896"/>
<rect x="730" y="121.95" width="136" height="19.48" fill="#e9b1ae"/>
<rect x="730" y="140.83" width="136" height="6.89" fill="#d46364"/>
<rect x="730" y="147.12" width="136" height="6.89" fill="#f0d5d2"/>
<rect x="730" y="153.42" width="136" height="6.89" fill="#f7f7f7"/>
<rect x="730" y="159.71" width="136" height="6.89" fill="#bb2835"/>
<rect x="730" y="166.00" width="136" height="6.89" fill="#f7f7f7"/>
<rect x="730" y="172.30" width="136" height="6.89" fill="#f6f2f2"/>
<rect x="730" y="178.59" width="136" height="13.19" fill="#e6a5a2"/>
<rect x="730" y="191.18" width="136" height="6.89" fill="#f3e0df"/>
<rect x="730" y="197.47" width="136" height="6.89" fill="#e9b1ae"/>
<rect x="730" y="203.77" width="136" height="6.89" fill="#e18c8a"/>
<rect x="730" y="210.06" width="136" height="6.89" fill="#f6f2f2"/>
<rect x="730" y="216.36" width="136" height="6.89" fill="#b0bfde"/>
<rect x="730" y="222.65" width="136" height="13.19" fill="#de7f7e"/>
<rect x="730" y="235.24" width="136" height="6.89" fill="#bf323c"/>
<rect x="730" y="241.53" width="136" height="6.89" fill="#d46364"/>
<rect x="730" y="247.83" width="136" height="6.89" fill="#e6a5a2"/>
<rect x="730" y="254.12" width="136" height="6.89" fill="#d76c6d"/>
<rect x="730" y="260.41" width="136" height="6.89" fill="#db7675"/>
<rect x="730" y="266.71" width="136" height="6.89" fill="#f7f7f7"/>
<rect x="730" y="273.00" width="136" height="6.89" fill="#e9b1ae"/>
<rect x="730" y="279.30" width="136" height="6.89" fill="#e18c8a"/>
<rect x="730" y="285.59" width="136" height="6.89" fill="#db7675"/>
<rect x="730" y="291.88" width="136" height="6.89" fill="#e49896"/>
<rect x="730" y="298.18" width="136" height="6.89" fill="#db7675"/>
<rect x="730" y="304.47" width="136" height="6.89" fill="#ecbeba"/>
<rect x="730" y="310.77" width="136" height="6.89" fill="#d46364"/>
<rect x="730" y="317.06" width="136" height="6.89" fill="#d0595c"/>
<rect x="730" y="323.35" width="136" height="6.89" fill="#f7f7f7"/>
<rect x="730" y="329.65" width="136" height="6.89" fill="#f6f2f2"/>
<rect x="730" y="335.94" width="136" height="6.89" fill="#e18c8a"/>
<rect x="730" y="342.24" width="136" height="6.89" fill="#dbe1ee"/>
<rect x="730" y="348.53" width="136" height="13.19" fill="#bcc9e3"/>
<rect x="730" y="361.12" width="136" height="6.89" fill="#a4b6d8"/>
<rect x="730" y="367.41" width="136" height="19.48" fill="#f3e0df"/>
<rect x="730" y="386.29" width="136" height="6.89" fill="#e4e9f1"/>
<rect x="730" y="392.59" width="136" height="6.89" fill="#f3e0df"/>
<rect x="730" y="398.88" width="136" height="6.89" fill="#eec9c6"/>
<rect x="730" y="405.18" width="136" height="6.89" fill="#e6a5a2"/>
<rect x="730" y="411.47" width="136" height="6.89" fill="#ecbeba"/>
<rect x="730" y="417.76" width="136" height="6.89" fill="#e6a5a2"/>
<rect x="730" y="424.06" width="136" height="13.19" fill="#e9b1ae"/>
<rect x="730" y="436.65" width="136" height="6.89" fill="#ecbeba"/>
<rect x="730" y="442.94" width="136" height="6.89" fill="#db7675"/>
<rect x="730" y="449.23" width="136" height="6.89" fill="#e9b1ae"/>
<rect x="730" y="455.53" width="136" height="13.19" fill="#e6a5a2"/>
<rect x="730" y="468.12" width="136" height="6.89" fill="#e9b1ae"/>
<rect x="730" y="474.41" width="136" height="6.89" fill="#f3e0df"/>
<rect x="730" y="480.70" width="136" height="6.89" fill="#de7f7e"/>
<rect x="730" y="487.00" width="136" height="6.89" fill="#e6a5a2"/>
<rect x="730" y="493.29" width="136" height="6.89" fill="#e9b1ae"/>
<rect x="730" y="499.59" width="136" height="6.89" fill="#e6a5a2"/>
<rect x="730" y="505.88" width="136" height="6.89" fill="#f0d5d2"/>
<rect x="730" y="512.17" width="136" height="13.19" fill="#e18c8a"/>
<rect x="730" y="524.76" width="136" height="6.89" fill="#de7f7e"/>
<rect x="730" y="531.06" width="136" height="6.89" fill="#ecbeba"/>
<rect x="730" y="537.35" width="136" height="6.89" fill="#e6a5a2"/>
<rect x="730" y="543.64" width="136" height="6.89" fill="#f6f2f2"/>
<rect x="730" y="549.94" width="136" height="13.19" fill="#f3e0df"/>
<rect x="730" y="562.53" width="136" height="6.89" fill="#ecbeba"/>
<rect x="730" y="568.82" width="136" height="6.89" fill="#e9b1ae"/>
<rect x="730" y="575.11" width="136" height="6.89" fill="#ecbeba"/>
<rect x="730" y="581.41" width="136" height="6.89" fill="#f7f7f7"/>
<rect x="730" y="587.70" width="136" height="6.89" fill="#eec9c6"/>
<rect x="730" y="594.00" width="136" height="6.89" fill="#ecbeba"/>
<rect x="730" y="600.29" width="136" height="6.89" fill="#f7f7f7"/>
<rect x="730" y="606.58" width="136" height="6.89" fill="#dbe1ee"/>
<rect x="730" y="612.88" width="136" height="13.19" fill="#f7f7f7"/>
<rect x="730" y="625.47" width="136" height="6.89" fill="#e6a5a2"/>
<rect x="730" y="631.76" width="136" height="13.19" fill="#e18c8a"/>
<rect x="730" y="644.35" width="136" height="13.19" fill="#e9b1ae"/>
<rect x="730" y="656.94" width="136" height="6.89" fill="#e18c8a"/>
<rect x="730" y="663.23" width="136" height="6.89" fill="#f7f7f7"/>
<rect x="730" y="669.52" width="136" height="6.89" fill="#f0d5d2"/>
<rect x="730" y="675.82" width="136" height="6.89" fill="#f3e0df"/>
<rect x="730" y="682.11" width="136" height="13.19" fill="#e18c8a"/>
<rect x="730" y="694.70" width="136" height="6.89" fill="#f7f7f7"/>
<rect x="730" y="700.99" width="136" height="6.89" fill="#e6a5a2"/>
<rect x="730" y="707.29" width="136" height="6.89" fill="#8ca2ce"/>
<rect x="730" y="713.58" width="136" height="6.89" fill="#4471b5"/>
<rect x="730" y="719.88" width="136" height="6.89" fill="#a4b6d8"/>
<rect x="730" y="726.17" width="136" height="6.89" fill="#4471b5"/>
<rect x="730" y="732.46" width="136" height="6.89" fill="#f7f7f7"/>
<rect x="730" y="738.76" width="136" height="6.89" fill="#839ccb"/>
<rect x="730" y="745.05" width="136" height="6.89" fill="#dbe1ee"/>
<rect x="730" y="751.35" width="136" height="6.89" fill="#4471b5"/>
<rect x="730" y="757.64" width="136" height="6.89" fill="#db7675"/>
<rect x="730" y="763.93" width="136" height="13.19" fill="#e49896"/>
<rect x="730" y="776.52" width="136" height="13.19" fill="#f0d5d2"/>
<rect x="730" y="789.11" width="136" height="6.89" fill="#ecbeba"/>
<rect x="730" y="795.40" width="136" height="6.89" fill="#f6f2f2"/>
<rect x="730" y="801.70" width="136" height="6.89" fill="#d1daeb"/>
<rect x="730" y="807.99" width="136" height="6.89" fill="#f3e0df"/>
<rect x="730" y="814.29" width="136" height="6.89" fill="#f2dcda"/>
<rect x="730" y="820.58" width="136" height="6.89" fill="#f3e0df"/>
<rect x="730" y="826.87" width="136" height="107.60" fill="#f7f7f7"/>
<rect x="730" y="933.87" width="136" height="6.89" fill="#f3e0df"/>
<rect x="730" y="940.17" width="136" height="6.89" fill="#f6f2f2"/>
<rect x="730" y="946.46" width="136" height="6.89" fill="#f7f7f7"/>
<rect x="730" y="952.75" width="136" height="6.89" fill="#eef0f4"/>
<rect x="730" y="959.05" width="136" height="6.89" fill="#f7f7f7"/>
<rect x="730" y="965.34" width="136" height="6.89" fill="#eef0f4"/>
<rect x="730" y="971.64" width="136" height="13.19" fill="#f6f0f0"/>
<rect x="730" y="984.22" width="136" height="6.89" fill="#f0d5d2"/>
<rect x="730" y="990.52" width="136" height="6.89" fill="#f2dcda"/>
<rect x="730" y="996.81" width="136" height="13.19" fill="#f3e0df"/>
<rect x="730" y="1009.40" width="136" height="6.89" fill="#eef0f4"/>
<rect x="730" y="1015.69" width="136" height="6.89" fill="#f7f7f7"/>
<rect x="730" y="1021.99" width="136" height="13.19" fill="#e4e9f1"/>
<rect x="730" y="1034.58" width="136" height="6.89" fill="#f5eceb"/>
<rect x="730" y="1040.87" width="136" height="6.89" fill="#f6f0f0"/>
<rect x="730" y="1047.16" width="136" height="13.19" fill="#e4e9f1"/>
<rect x="730" y="1059.75" width="136" height="6.89" fill="#e0e6f0"/>
<rect x="730" y="1066.05" width="136" height="6.89" fill="#e9b1ae"/>
<rect x="730" y="1072.34" width="136" height="6.89" fill="#f5eceb"/>
<rect x="730" y="1078.63" width="136" height="6.89" fill="#f7f7f7"/>
<rect x="730" y="1084.93" width="136" height="6.89" fill="#c8d3e8"/>
<rect x="730" y="1091.22" width="136" height="6.89" fill="#f3e0df"/>
<rect x="730" y="1097.52" width="136" height="6.89" fill="#f7f7f7"/>
<rect x="730" y="1103.81" width="136" height="6.89" fill="#e4e9f1"/>
<rect x="730" y="1110.10" width="136" height="6.89" fill="#f7f7f7"/>
<rect x="730" y="1116.40" width="136" height="13.19" fill="#e0e6f0"/>
<rect x="730" y="1128.99" width="136" height="6.89" fill="#dbe1ee"/>
<rect x="730" y="1135.28" width="136" height="13.19" fill="#f7f7f7"/>
<rect x="730" y="1147.87" width="136" height="6.89" fill="#f2dcda"/>
<rect x="730" y="1154.16" width="136" height="6.89" fill="#e9b1ae"/>
<rect x="730" y="1160.46" width="136" height="6.89" fill="#f3e5e3"/>
<rect x="730" y="1166.75" width="136" height="6.89" fill="#eec9c6"/>
<rect x="730" y="1173.04" width="136" height="25.78" fill="#f7f7f7"/>
<rect x="730" y="1198.22" width="136" height="13.19" fill="#d1daeb"/>
<rect x="730" y="1210.81" width="136" height="6.89" fill="#d46364"/>
<rect x="730" y="1217.10" width="136" height="6.89" fill="#a4b6d8"/>
<rect x="730" y="1223.40" width="136" height="13.19" fill="#98acd3"/>
<rect x="730" y="1235.98" width="136" height="6.89" fill="#f7f7f7"/>
<rect x="730" y="1242.28" width="136" height="6.89" fill="#d1daeb"/>
<rect x="730" y="1248.57" width="136" height="6.89" fill="#dbe1ee"/>
<rect x="730" y="1254.87" width="136" height="6.89" fill="#f7f7f7"/>
<rect x="730" y="1261.16" width="136" height="6.89" fill="#f6f0f0"/>
<rect x="730" y="1267.45" width="136" height="6.89" fill="#e4e9f1"/>
<rect x="730" y="1273.75" width="136" height="6.89" fill="#f7f7f7"/>
<rect x="730" y="1280.04" width="136" height="6.89" fill="#f5eceb"/>
<rect x="730" y="1286.34" width="136" height="6.89" fill="#e4e9f1"/>
<rect x="730" y="1292.63" width="136" height="6.89" fill="#dbe1ee"/>
<rect x="730" y="1298.92" width="136" height="6.89" fill="#bcc9e3"/>
<rect x="730" y="1305.22" width="136" height="6.89" fill="#8ca2ce"/>
<rect x="730" y="1311.51" width="136" height="6.89" fill="#f7f7f7"/>
<rect x="730" y="1317.81" width="136" height="6.89" fill="#e0e6f0"/>
<rect x="730" y="1324.10" width="136" height="6.89" fill="#f3e0df"/>
<rect x="730" y="1330.39" width="136" height="6.89" fill="#6788c3"/>
<rect x="730" y="1336.69" width="136" height="6.89" fill="#5e82c0"/>
<rect x="730" y="1342.98" width="136" height="6.89" fill="#6788c3"/>
<rect x="730" y="1349.28" width="136" height="6.89" fill="#f7f7f7"/>
<rect x="730" y="1355.57" width="136" height="6.89" fill="#f6f2f2"/>
<rect x="730" y="1361.86" width="136" height="6.89" fill="#839ccb"/>
<rect x="730" y="1368.16" width="136" height="6.89" fill="#a4b6d8"/>
<rect x="730" y="1374.45" width="136" height="6.89" fill="#e4e9f1"/>
<rect x="730" y="1380.75" width="136" height="6.89" fill="#e8ebf2"/>
<rect x="730" y="1387.04" width="136" height="6.89" fill="#f3e0df"/>
<rect x="730" y="1393.33" width="136" height="6.89" fill="#e4e9f1"/>
<rect x="730" y="1399.63" width="136" height="6.89" fill="#f7f7f7"/>
<rect x="730" y="1405.92" width="136" height="6.89" fill="#e49896"/>
<rect x="730" y="1412.22" width="136" height="6.89" fill="#e18c8a"/>
<rect x="730" y="1418.51" width="136" height="6.89" fill="#d46364"/>
<rect x="730" y="1424.80" width="136" height="6.89" fill="#f7f7f7"/>
<rect x="730" y="1431.10" width="136" height="6.89" fill="#dbe1ee"/>
<rect x="730" y="1437.39" width="136" height="6.89" fill="#8ca2ce"/>
<rect x="730" y="1443.69" width="136" height="6.89" fill="#839ccb"/>
<rect x="730" y="1449.98" width="136" height="13.19" fill="#d1daeb"/>
<rect x="730" y="1462.57" width="136" height="13.19" fill="#bcc9e3"/>
<rect x="730" y="1475.16" width="136" height="6.89" fill="#d1daeb"/>
<rect x="730" y="1481.45" width="136" height="6.89" fill="#b0bfde"/>
<rect x="730" y="1487.74" width="136" height="19.48" fill="#a4b6d8"/>
<rect x="730" y="1506.63" width="136" height="6.89" fill="#8ca2ce"/>
<rect x="730" y="1512.92" width="136" height="6.89" fill="#a4b6d8"/>
<rect x="730" y="1519.21" width="136" height="6.89" fill="#bcc9e3"/>
<rect x="730" y="1525.51" width="136" height="13.19" fill="#b0bfde"/>
<rect x="730" y="1538.10" width="136" height="6.89" fill="#bcc9e3"/>
<rect x="730" y="1544.39" width="136" height="6.89" fill="#f7f7f7"/>
<rect x="730" y="1550.68" width="136" height="6.89" fill="#8ca2ce"/>
<rect x="730" y="1556.98" width="136" height="13.19" fill="#dbe1ee"/>
<rect x="730" y="1569.57" width="136" height="6.89" fill="#f7f7f7"/>
<rect x="730" y="1575.86" width="136" height="13.19" fill="#839ccb"/>
<rect x="730" y="1588.45" width="136" height="19.48" fill="#98acd3"/>
<rect x="730" y="1607.33" width="136" height="6.89" fill="#8ca2ce"/>
<rect x="730" y="1613.62" width="136" height="6.89" fill="#eef0f4"/>
<rect x="730" y="1619.92" width="136" height="6.89" fill="#f7f7f7"/>
<rect x="730" y="1626.21" width="136" height="6.89" fill="#f3e0df"/>
<rect x="730" y="1632.51" width="136" height="6.89" fill="#f7f7f7"/>
<rect x="730" y="1638.80" width="136" height="6.89" fill="#e49896"/>
<rect x="730" y="1645.09" width="136" height="6.89" fill="#de7f7e"/>
<rect x="730" y="1651.39" width="136" height="6.89" fill="#577ebd"/>
<rect x="730" y="1657.68" width="136" height="13.19" fill="#517aba"/>
<rect x="730" y="1670.27" width="136" height="6.89" fill="#e18c8a"/>
<rect x="730" y="1676.56" width="136" height="6.89" fill="#dbe1ee"/>
<rect x="730" y="1682.86" width="136" height="6.89" fill="#b0bfde"/>
<rect x="730" y="1689.15" width="136" height="6.29" fill="#e4e9f1"/>
<rect x="866" y="65.30" width="136" height="6.89" fill="#ecbeba"/>
<rect x="866" y="71.59" width="136" height="6.89" fill="#98acd3"/>
<rect x="866" y="77.89" width="136" height="6.89" fill="#e9b1ae"/>
<rect x="866" y="84.18" width="136" height="6.89" fill="#3d6db2"/>
<rect x="866" y="90.48" width="136" height="6.89" fill="#e9b1ae"/>
<rect x="866" y="96.77" width="136" height="6.89" fill="#eec9c6"/>
<rect x="866" y="103.06" width="136" height="6.89" fill="#d0595c"/>
<rect x="866" y="109.36" width="136" height="13.19" fill="#c8d3e8"/>
<rect x="866" y="121.95" width="136" height="6.89" fill="#98acd3"/>
<rect x="866" y="128.24" width="136" height="6.89" fill="#dbe1ee"/>
<rect x="866" y="134.53" width="136" height="6.89" fill="#c8d3e8"/>
<rect x="866" y="140.83" width="136" height="6.89" fill="#eec9c6"/>
<rect x="866" y="147.12" width="136" height="6.89" fill="#d1daeb"/>
<rect x="866" y="153.42" width="136" height="6.89" fill="#cd5053"/>
<rect x="866" y="159.71" width="136" height="6.89" fill="#bcc9e3"/>
<rect x="866" y="166.00" width="136" height="6.89" fill="#98acd3"/>
<rect x="866" y="172.30" width="136" height="6.89" fill="#e6a5a2"/>
<rect x="866" y="178.59" width="136" height="6.89" fill="#db7675"/>
<rect x="866" y="184.89" width="136" height="6.89" fill="#e49896"/>
<rect x="866" y="191.18" width="136" height="13.19" fill="#f5eceb"/>
<rect x="866" y="203.77" width="136" height="6.89" fill="#de7f7e"/>
<rect x="866" y="210.06" width="136" height="6.89" fill="#d1daeb"/>
<rect x="866" y="216.36" width="136" height="6.89" fill="#b0bfde"/>
<rect x="866" y="222.65" width="136" height="6.89" fill="#e49896"/>
<rect x="866" y="228.94" width="136" height="6.89" fill="#ecbeba"/>
<rect x="866" y="235.24" width="136" height="6.89" fill="#db7675"/>
<rect x="866" y="241.53" width="136" height="6.89" fill="#d0595c"/>
<rect x="866" y="247.83" width="136" height="6.89" fill="#d76c6d"/>
<rect x="866" y="254.12" width="136" height="6.89" fill="#c43c44"/>
<rect x="866" y="260.41" width="136" height="6.89" fill="#e49896"/>
<rect x="866" y="266.71" width="136" height="6.89" fill="#db7675"/>
<rect x="866" y="273.00" width="136" height="6.89" fill="#e6a5a2"/>
<rect x="866" y="279.30" width="136" height="6.89" fill="#e9b1ae"/>
<rect x="866" y="285.59" width="136" height="6.89" fill="#d0595c"/>
<rect x="866" y="291.88" width="136" height="6.89" fill="#e18c8a"/>
<rect x="866" y="298.18" width="136" height="6.89" fill="#db7675"/>
<rect x="866" y="304.47" width="136" height="6.89" fill="#f6f0f0"/>
<rect x="866" y="310.77" width="136" height="13.19" fill="#eec9c6"/>
<rect x="866" y="323.35" width="136" height="6.89" fill="#ecbeba"/>
<rect x="866" y="329.65" width="136" height="6.89" fill="#eec9c6"/>
<rect x="866" y="335.94" width="136" height="6.89" fill="#e6a5a2"/>
<rect x="866" y="342.24" width="136" height="6.89" fill="#eec9c6"/>
<rect x="866" y="348.53" width="136" height="6.89" fill="#e6a5a2"/>
<rect x="866" y="354.82" width="136" height="6.89" fill="#ecbeba"/>
<rect x="866" y="361.12" width="136" height="6.89" fill="#f6f0f0"/>
<rect x="866" y="367.41" width="136" height="6.89" fill="#e49896"/>
<rect x="866" y="373.71" width="136" height="13.19" fill="#e9b1ae"/>
<rect x="866" y="386.29" width="136" height="6.89" fill="#f5eceb"/>
<rect x="866" y="392.59" width="136" height="13.19" fill="#e6a5a2"/>
<rect x="866" y="405.18" width="136" height="6.89" fill="#d76c6d"/>
<rect x="866" y="411.47" width="136" height="6.89" fill="#e18c8a"/>
<rect x="866" y="417.76" width="136" height="6.89" fill="#e49896"/>
<rect x="866" y="424.06" width="136" height="6.89" fill="#e18c8a"/>
<rect x="866" y="430.35" width="136" height="6.89" fill="#e6a5a2"/>
<rect x="866" y="436.65" width="136" height="6.89" fill="#e9b1ae"/>
<rect x="866" y="442.94" width="136" height="6.89" fill="#f0d5d2"/>
<rect x="866" y="449.23" width="136" height="6.89" fill="#e9b1ae"/>
<rect x="866" y="455.53" width="136" height="6.89" fill="#e49896"/>
<rect x="866" y="461.82" width="136" height="6.89" fill="#e6a5a2"/>
<rect x="866" y="468.12" width="136" height="13.19" fill="#eec9c6"/>
<rect x="866" y="480.70" width="136" height="6.89" fill="#e6a5a2"/>
<rect x="866" y="487.00" width="136" height="6.89" fill="#eec9c6"/>
<rect x="866" y="493.29" width="136" height="6.89" fill="#f3e0df"/>
<rect x="866" y="499.59" width="136" height="25.78" fill="#de7f7e"/>
<rect x="866" y="524.76" width="136" height="6.89" fill="#e18c8a"/>
<rect x="866" y="531.06" width="136" height="6.89" fill="#e49896"/>
<rect x="866" y="537.35" width="136" height="6.89" fill="#ecbeba"/>
<rect x="866" y="543.64" width="136" height="6.89" fill="#e6a5a2"/>
<rect x="866" y="549.94" width="136" height="6.89" fill="#f6f2f2"/>
<rect x="866" y="556.23" width="136" height="6.89" fill="#f3e0df"/>
<rect x="866" y="562.53" width="136" height="6.89" fill="#f0d5d2"/>
<rect x="866" y="568.82" width="136" height="6.89" fill="#e4e9f1"/>
<rect x="866" y="575.11" width="136" height="6.89" fill="#f3e0df"/>
<rect x="866" y="581.41" width="136" height="6.89" fill="#de7f7e"/>
<rect x="866" y="587.70" width="136" height="6.89" fill="#e18c8a"/>
<rect x="866" y="594.00" width="136" height="6.89" fill="#e9b1ae"/>
<rect x="866" y="600.29" width="136" height="6.89" fill="#eec9c6"/>
<rect x="866" y="606.58" width="136" height="6.89" fill="#e9b1ae"/>
<rect x="866" y="612.88" width="136" height="6.89" fill="#ecbeba"/>
<rect x="866" y="619.17" width="136" height="6.89" fill="#e6a5a2"/>
<rect x="866" y="625.47" width="136" height="6.89" fill="#f6f2f2"/>
<rect x="866" y="631.76" width="136" height="6.89" fill="#e4e9f1"/>
<rect x="866" y="638.05" width="136" height="6.89" fill="#f3e0df"/>
<rect x="866" y="644.35" width="136" height="6.89" fill="#f6f0f0"/>
<rect x="866" y="650.64" width="136" height="6.89" fill="#f5eceb"/>
<rect x="866" y="656.94" width="136" height="6.89" fill="#f6f0f0"/>
<rect x="866" y="663.23" width="136" height="6.89" fill="#e9b1ae"/>
<rect x="866" y="669.52" width="136" height="6.89" fill="#f0d5d2"/>
<rect x="866" y="675.82" width="136" height="6.89" fill="#eec9c6"/>
<rect x="866" y="682.11" width="136" height="13.19" fill="#e18c8a"/>
<rect x="866" y="694.70" width="136" height="6.89" fill="#b61e2d"/>
<rect x="866" y="700.99" width="136" height="6.89" fill="#bcc9e3"/>
<rect x="866" y="707.29" width="136" height="6.89" fill="#98acd3"/>
<rect x="866" y="713.58" width="136" height="13.19" fill="#f7f7f7"/>
<rect x="866" y="726.17" width="136" height="6.89" fill="#e6a5a2"/>
<rect x="866" y="732.46" width="136" height="6.89" fill="#7a95c8"/>
<rect x="866" y="738.76" width="136" height="13.19" fill="#3d6db2"/>
<rect x="866" y="751.35" width="136" height="6.89" fill="#98acd3"/>
<rect x="866" y="757.64" width="136" height="6.89" fill="#b0bfde"/>
<rect x="866" y="763.93" width="136" height="13.19" fill="#f7f7f7"/>
<rect x="866" y="776.52" width="136" height="6.89" fill="#eec9c6"/>
<rect x="866" y="782.82" width="136" height="6.89" fill="#ecbeba"/>
<rect x="866" y="789.11" width="136" height="6.89" fill="#eec9c6"/>
<rect x="866" y="795.40" width="136" height="6.89" fill="#e49896"/>
<rect x="866" y="801.70" width="136" height="13.19" fill="#f0d5d2"/>
<rect x="866" y="814.29" width="136" height="6.89" fill="#f2dcda"/>
<rect x="866" y="820.58" width="136" height="6.89" fill="#f3e0df"/>
<rect x="866" y="826.87" width="136" height="6.89" fill="#f3e5e3"/>
<rect x="866" y="833.17" width="136" height="101.30" fill="#f7f7f7"/>
<rect x="866" y="933.87" width="136" height="6.89" fill="#e8ebf2"/>
<rect x="866" y="940.17" width="136" height="6.89" fill="#f3e0df"/>
<rect x="866" y="946.46" width="136" height="19.48" fill="#f5eceb"/>
<rect x="866" y="965.34" width="136" height="6.89" fill="#f3e5e3"/>
<rect x="866" y="971.64" width="136" height="6.89" fill="#f6f0f0"/>
<rect x="866" y="977.93" width="136" height="6.89" fill="#e8ebf2"/>
<rect x="866" y="984.22" width="136" height="13.19" fill="#f0d5d2"/>
<rect x="866" y="996.81" width="136" height="6.89" fill="#f7f7f7"/>
<rect x="866" y="1003.11" width="136" height="6.89" fill="#f6f0f0"/>
<rect x="866" y="1009.40" width="136" height="6.89" fill="#eef0f4"/>
<rect x="866" y="1015.69" width="136" height="6.89" fill="#e8ebf2"/>
<rect x="866" y="1021.99" width="136" height="6.89" fill="#f7f7f7"/>
<rect x="866" y="1028.28" width="136" height="6.89" fill="#f5eceb"/>
<rect x="866" y="1034.58" width="136" height="6.89" fill="#eef0f4"/>
<rect x="866" y="1040.87" width="136" height="6.89" fill="#d5ddec"/>
<rect x="866" y="1047.16" width="136" height="19.48" fill="#e0e6f0"/>
<rect x="866" y="1066.05" width="136" height="6.89" fill="#f7f7f7"/>
<rect x="866" y="1072.34" width="136" height="6.89" fill="#f6f2f2"/>
<rect x="866" y="1078.63" width="136" height="6.89" fill="#f7f7f7"/>
<rect x="866" y="1084.93" width="136" height="6.89" fill="#f0d5d2"/>
<rect x="866" y="1091.22" width="136" height="6.89" fill="#eec9c6"/>
<rect x="866" y="1097.52" width="136" height="6.89" fill="#f5eceb"/>
<rect x="866" y="1103.81" width="136" height="6.89" fill="#eef0f4"/>
<rect x="866" y="1110.10" width="136" height="6.89" fill="#f7f7f7"/>
<rect x="866" y="1116.40" width="136" height="6.89" fill="#efcecb"/>
<rect x="866" y="1122.69" width="136" height="6.89" fill="#f0d5d2"/>
<rect x="866" y="1128.99" width="136" height="13.19" fill="#d1daeb"/>
<rect x="866" y="1141.57" width="136" height="6.89" fill="#e4e9f1"/>
<rect x="866" y="1147.87" width="136" height="6.89" fill="#e18c8a"/>
<rect x="866" y="1154.16" width="136" height="19.48" fill="#f7f7f7"/>
<rect x="866" y="1173.04" width="136" height="6.89" fill="#d76c6d"/>
<rect x="866" y="1179.34" width="136" height="6.89" fill="#f7f7f7"/>
<rect x="866" y="1185.63" width="136" height="6.89" fill="#839ccb"/>
<rect x="866" y="1191.93" width="136" height="6.89" fill="#f7f7f7"/>
<rect x="866" y="1198.22" width="136" height="6.89" fill="#eef0f4"/>
<rect x="866" y="1204.51" width="136" height="6.89" fill="#c8d3e8"/>
<rect x="866" y="1210.81" width="136" height="6.89" fill="#b0bfde"/>
<rect x="866" y="1217.10" width="136" height="6.89" fill="#708fc6"/>
<rect x="866" y="1223.40" width="136" height="6.89" fill="#a4b6d8"/>
<rect x="866" y="1229.69" width="136" height="6.89" fill="#b0bfde"/>
<rect x="866" y="1235.98" width="136" height="6.89" fill="#5e82c0"/>
<rect x="866" y="1242.28" width="136" height="6.89" fill="#b0bfde"/>
<rect x="866" y="1248.57" width="136" height="6.89" fill="#839ccb"/>
<rect x="866" y="1254.87" width="136" height="6.89" fill="#f7f7f7"/>
<rect x="866" y="1261.16" width="136" height="6.89" fill="#f5eceb"/>
<rect x="866" y="1267.45" width="136" height="13.19" fill="#c8d3e8"/>
<rect x="866" y="1280.04" width="136" height="6.89" fill="#eef0f4"/>
<rect x="866" y="1286.34" width="136" height="6.89" fill="#f7f7f7"/>
<rect x="866" y="1292.63" width="136" height="6.89" fill="#dbe1ee"/>
<rect x="866" y="1298.92" width="136" height="6.89" fill="#f5eceb"/>
<rect x="866" y="1305.22" width="136" height="6.89" fill="#f3e5e3"/>
<rect x="866" y="1311.51" width="136" height="6.89" fill="#f7f7f7"/>
<rect x="866" y="1317.81" width="136" height="6.89" fill="#f0d5d2"/>
<rect x="866" y="1324.10" width="136" height="13.19" fill="#e9b1ae"/>
<rect x="866" y="1336.69" width="136" height="6.89" fill="#c8d3e8"/>
<rect x="866" y="1342.98" width="136" height="6.89" fill="#dbe1ee"/>
<rect x="866" y="1349.28" width="136" height="6.89" fill="#f7f7f7"/>
<rect x="866" y="1355.57" width="136" height="6.89" fill="#f5eceb"/>
<rect x="866" y="1361.86" width="136" height="13.19" fill="#b0bfde"/>
<rect x="866" y="1374.45" width="136" height="6.89" fill="#c8d3e8"/>
<rect x="866" y="1380.75" width="136" height="6.89" fill="#b0bfde"/>
<rect x="866" y="1387.04" width="136" height="13.19" fill="#f6f2f2"/>
<rect x="866" y="1399.63" width="136" height="19.48" fill="#f7f7f7"/>
<rect x="866" y="1418.51" width="136" height="6.89" fill="#c8d3e8"/>
<rect x="866" y="1424.80" width="136" height="6.89" fill="#e49896"/>
<rect x="866" y="1431.10" width="136" height="6.89" fill="#e4e9f1"/>
<rect x="866" y="1437.39" width="136" height="6.89" fill="#db7675"/>
<rect x="866" y="1443.69" width="136" height="13.19" fill="#e0e6f0"/>
<rect x="866" y="1456.27" width="136" height="32.07" fill="#c8d3e8"/>
<rect x="866" y="1487.74" width="136" height="6.89" fill="#b0bfde"/>
<rect x="866" y="1494.04" width="136" height="6.89" fill="#8ca2ce"/>
<rect x="866" y="1500.33" width="136" height="6.89" fill="#a4b6d8"/>
<rect x="866" y="1506.63" width="136" height="13.19" fill="#bcc9e3"/>
<rect x="866" y="1519.21" width="136" height="6.89" fill="#e4e9f1"/>
<rect x="866" y="1525.51" width="136" height="6.89" fill="#e8ebf2"/>
<rect x="866" y="1531.80" width="136" height="6.89" fill="#f7f7f7"/>
<rect x="866" y="1538.10" width="136" height="13.19" fill="#e0e6f0"/>
<rect x="866" y="1550.68" width="136" height="6.89" fill="#f7f7f7"/>
<rect x="866" y="1556.98" width="136" height="6.89" fill="#a4b6d8"/>
<rect x="866" y="1563.27" width="136" height="6.89" fill="#bcc9e3"/>
<rect x="866" y="1569.57" width="136" height="6.89" fill="#8ca2ce"/>
<rect x="866" y="1575.86" width="136" height="6.89" fill="#98acd3"/>
<rect x="866" y="1582.15" width="136" height="6.89" fill="#bcc9e3"/>
<rect x="866" y="1588.45" width="136" height="6.89" fill="#f3e5e3"/>
<rect x="866" y="1594.74" width="136" height="6.89" fill="#7a95c8"/>
<rect x="866" y="1601.04" width="136" height="6.89" fill="#839ccb"/>
<rect x="866" y="1607.33" width="136" height="6.89" fill="#7a95c8"/>
<rect x="866" y="1613.62" width="136" height="6.89" fill="#a4b6d8"/>
<rect x="866" y="1619.92" width="136" height="6.89" fill="#8ca2ce"/>
<rect x="866" y="1626.21" width="136" height="6.89" fill="#839ccb"/>
<rect x="866" y="1632.51" width="136" height="13.19" fill="#f7f7f7"/>
<rect x="866" y="1645.09" width="136" height="13.19" fill="#839ccb"/>
<rect x="866" y="1657.68" width="136" height="6.89" fill="#d1daeb"/>
<rect x="866" y="1663.98" width="136" height="19.48" fill="#4a75b8"/>
<rect x="866" y="1682.86" width="136" height="6.89" fill="#b0bfde"/>
<rect x="866" y="1689.15" width="136" height="6.29" fill="#4a75b8"/>
<rect x="1011" y="65.30" width="136" height="25.78" fill="#b61e2d"/>
<rect x="1011" y="90.48" width="136" height="6.89" fill="#eec9c6"/>
<rect x="1011" y="96.77" width="136" height="6.89" fill="#de7f7e"/>
<rect x="1011" y="103.06" width="136" height="6.89" fill="#e9b1ae"/>
<rect x="1011" y="109.36" width="136" height="6.89" fill="#bcc9e3"/>
<rect x="1011" y="115.65" width="136" height="6.89" fill="#b61e2d"/>
<rect x="1011" y="121.95" width="136" height="6.89" fill="#bb2835"/>
<rect x="1011" y="128.24" width="136" height="13.19" fill="#c43c44"/>
<rect x="1011" y="140.83" width="136" height="25.78" fill="#b61e2d"/>
<rect x="1011" y="166.00" width="136" height="6.89" fill="#f7f7f7"/>
<rect x="1011" y="172.30" width="136" height="6.89" fill="#eec9c6"/>
<rect x="1011" y="178.59" width="136" height="6.89" fill="#e49896"/>
<rect x="1011" y="184.89" width="136" height="6.89" fill="#e18c8a"/>
<rect x="1011" y="191.18" width="136" height="6.89" fill="#ecbeba"/>
<rect x="1011" y="197.47" width="136" height="6.89" fill="#e18c8a"/>
<rect x="1011" y="203.77" width="136" height="6.89" fill="#f5eceb"/>
<rect x="1011" y="210.06" width="136" height="6.89" fill="#d76c6d"/>
<rect x="1011" y="216.36" width="136" height="6.89" fill="#e4e9f1"/>
<rect x="1011" y="222.65" width="136" height="13.19" fill="#eec9c6"/>
<rect x="1011" y="235.24" width="136" height="6.89" fill="#f5eceb"/>
<rect x="1011" y="241.53" width="136" height="6.89" fill="#ecbeba"/>
<rect x="1011" y="247.83" width="136" height="13.19" fill="#e9b1ae"/>
<rect x="1011" y="260.41" width="136" height="6.89" fill="#839ccb"/>
<rect x="1011" y="266.71" width="136" height="6.89" fill="#e9b1ae"/>
<rect x="1011" y="273.00" width="136" height="13.19" fill="#e6a5a2"/>
<rect x="1011" y="285.59" width="136" height="19.48" fill="#db7675"/>
<rect x="1011" y="304.47" width="136" height="13.19" fill="#f7f7f7"/>
<rect x="1011" y="317.06" width="136" height="6.89" fill="#eef0f4"/>
<rect x="1011" y="323.35" width="136" height="6.89" fill="#d76c6d"/>
<rect x="1011" y="329.65" width="136" height="6.89" fill="#de7f7e"/>
<rect x="1011" y="335.94" width="136" height="13.19" fill="#db7675"/>
<rect x="1011" y="348.53" width="136" height="6.89" fill="#d0595c"/>
<rect x="1011" y="354.82" width="136" height="13.19" fill="#e49896"/>
<rect x="1011" y="367.41" width="136" height="6.89" fill="#ecbeba"/>
<rect x="1011" y="373.71" width="136" height="6.89" fill="#f3e0df"/>
<rect x="1011" y="380.00" width="136" height="6.89" fill="#f5eceb"/>
<rect x="1011" y="386.29" width="136" height="6.89" fill="#e9b1ae"/>
<rect x="1011" y="392.59" width="136" height="6.89" fill="#ecbeba"/>
<rect x="1011" y="398.88" width="136" height="6.89" fill="#db7675"/>
<rect x="1011" y="405.18" width="136" height="6.89" fill="#e49896"/>
<rect x="1011" y="411.47" width="136" height="6.89" fill="#f0d5d2"/>
<rect x="1011" y="417.76" width="136" height="6.89" fill="#e9b1ae"/>
<rect x="1011" y="424.06" width="136" height="6.89" fill="#f6f0f0"/>
<rect x="1011" y="430.35" width="136" height="6.89" fill="#f0d5d2"/>
<rect x="1011" y="436.65" width="136" height="6.89" fill="#ecbeba"/>
<rect x="1011" y="442.94" width="136" height="13.19" fill="#e6a5a2"/>
<rect x="1011" y="455.53" width="136" height="13.19" fill="#e9b1ae"/>
<rect x="1011" y="468.12" width="136" height="6.89" fill="#e18c8a"/>
<rect x="1011" y="474.41" width="136" height="6.89" fill="#e49896"/>
<rect x="1011" y="480.70" width="136" height="6.89" fill="#d76c6d"/>
<rect x="1011" y="487.00" width="136" height="6.89" fill="#eec9c6"/>
<rect x="1011" y="493.29" width="136" height="13.19" fill="#ecbeba"/>
<rect x="1011" y="505.88" width="136" height="6.89" fill="#eec9c6"/>
<rect x="1011" y="512.17" width="136" height="6.89" fill="#e18c8a"/>
<rect x="1011" y="518.47" width="136" height="6.89" fill="#e49896"/>
<rect x="1011" y="524.76" width="136" height="6.89" fill="#e9b1ae"/>
<rect x="1011" y="531.06" width="136" height="6.89" fill="#e4e9f1"/>
<rect x="1011" y="537.35" width="136" height="6.89" fill="#e18c8a"/>
<rect x="1011" y="543.64" width="136" height="6.89" fill="#db7675"/>
<rect x="1011" y="549.94" width="136" height="13.19" fill="#e49896"/>
<rect x="1011" y="562.53" width="136" height="6.89" fill="#e9b1ae"/>
<rect x="1011" y="568.82" width="136" height="6.89" fill="#ecbeba"/>
<rect x="1011" y="575.11" width="136" height="6.89" fill="#eec9c6"/>
<rect x="1011" y="581.41" width="136" height="6.89" fill="#e9b1ae"/>
<rect x="1011" y="587.70" width="136" height="6.89" fill="#ecbeba"/>
<rect x="1011" y="594.00" width="136" height="13.19" fill="#de7f7e"/>
<rect x="1011" y="606.58" width="136" height="6.89" fill="#db7675"/>
<rect x="1011" y="612.88" width="136" height="19.48" fill="#e9b1ae"/>
<rect x="1011" y="631.76" width="136" height="6.89" fill="#eec9c6"/>
<rect x="1011" y="638.05" width="136" height="6.89" fill="#de7f7e"/>
<rect x="1011" y="644.35" width="136" height="6.89" fill="#f5eceb"/>
<rect x="1011" y="650.64" width="136" height="6.89" fill="#e9b1ae"/>
<rect x="1011" y="656.94" width="136" height="6.89" fill="#e6a5a2"/>
<rect x="1011" y="663.23" width="136" height="6.89" fill="#e49896"/>
<rect x="1011" y="669.52" width="136" height="6.89" fill="#de7f7e"/>
<rect x="1011" y="675.82" width="136" height="6.89" fill="#f3e0df"/>
<rect x="1011" y="682.11" width="136" height="6.89" fill="#e9b1ae"/>
<rect x="1011" y="688.41" width="136" height="6.89" fill="#e49896"/>
<rect x="1011" y="694.70" width="136" height="6.89" fill="#4471b5"/>
<rect x="1011" y="700.99" width="136" height="19.48" fill="#f7f7f7"/>
<rect x="1011" y="719.88" width="136" height="6.89" fill="#eec9c6"/>
<rect x="1011" y="726.17" width="136" height="6.89" fill="#f3e0df"/>
<rect x="1011" y="732.46" width="136" height="6.89" fill="#f7f7f7"/>
<rect x="1011" y="738.76" width="136" height="6.89" fill="#f1f3f5"/>
<rect x="1011" y="745.05" width="136" height="6.89" fill="#dbe1ee"/>
<rect x="1011" y="751.35" width="136" height="6.89" fill="#f0d5d2"/>
<rect x="1011" y="757.64" width="136" height="13.19" fill="#f7f7f7"/>
<rect x="1011" y="770.23" width="136" height="6.89" fill="#dbe1ee"/>
<rect x="1011" y="776.52" width="136" height="6.89" fill="#eef0f4"/>
<rect x="1011" y="782.82" width="136" height="6.89" fill="#f7f7f7"/>
<rect x="1011" y="789.11" width="136" height="6.89" fill="#dbe1ee"/>
<rect x="1011" y="795.40" width="136" height="6.89" fill="#e8ebf2"/>
<rect x="1011" y="801.70" width="136" height="6.89" fill="#f7f7f7"/>
<rect x="1011" y="807.99" width="136" height="6.89" fill="#eef0f4"/>
<rect x="1011" y="814.29" width="136" height="6.89" fill="#dbe1ee"/>
<rect x="1011" y="820.58" width="136" height="6.89" fill="#f6f2f2"/>
<rect x="1011" y="826.87" width="136" height="6.89" fill="#f7f5f5"/>
<rect x="1011" y="833.17" width="136" height="101.30" fill="#f7f7f7"/>
<rect x="1011" y="933.87" width="136" height="6.89" fill="#e8ebf2"/>
<rect x="1011" y="940.17" width="136" height="6.89" fill="#eceef3"/>
<rect x="1011" y="946.46" width="136" height="6.89" fill="#f1f3f5"/>
<rect x="1011" y="952.75" width="136" height="6.89" fill="#e8ebf2"/>
<rect x="1011" y="959.05" width="136" height="6.89" fill="#eceef3"/>
<rect x="1011" y="965.34" width="136" height="6.89" fill="#f3e5e3"/>
<rect x="1011" y="971.64" width="136" height="13.19" fill="#f0d5d2"/>
<rect x="1011" y="984.22" width="136" height="6.89" fill="#f7f7f7"/>
<rect x="1011" y="990.52" width="136" height="6.89" fill="#f6f2f2"/>
<rect x="1011" y="996.81" width="136" height="6.89" fill="#f7f7f7"/>
<rect x="1011" y="1003.11" width="136" height="6.89" fill="#f6f2f2"/>
<rect x="1011" y="1009.40" width="136" height="6.89" fill="#f7f7f7"/>
<rect x="1011" y="1015.69" width="136" height="6.89" fill="#f3f4f6"/>
<rect x="1011" y="1021.99" width="136" height="6.89" fill="#db7675"/>
<rect x="1011" y="1028.28" width="136" height="6.89" fill="#f0d5d2"/>
<rect x="1011" y="1034.58" width="136" height="6.89" fill="#ecbeba"/>
<rect x="1011" y="1040.87" width="136" height="6.89" fill="#f0d5d2"/>
<rect x="1011" y="1047.16" width="136" height="6.89" fill="#f6f2f2"/>
<rect x="1011" y="1053.46" width="136" height="6.89" fill="#f3e5e3"/>
<rect x="1011" y="1059.75" width="136" height="6.89" fill="#f3e0df"/>
<rect x="1011" y="1066.05" width="136" height="6.89" fill="#f6f0f0"/>
<rect x="1011" y="1072.34" width="136" height="6.89" fill="#f0d5d2"/>
<rect x="1011" y="1078.63" width="136" height="6.89" fill="#f7f7f7"/>
<rect x="1011" y="1084.93" width="136" height="6.89" fill="#e0e6f0"/>
<rect x="1011" y="1091.22" width="136" height="13.19" fill="#c8d3e8"/>
<rect x="1011" y="1103.81" width="136" height="19.48" fill="#f7f7f7"/>
<rect x="1011" y="1122.69" width="136" height="6.89" fill="#eef0f4"/>
<rect x="1011" y="1128.99" width="136" height="6.89" fill="#f0d5d2"/>
<rect x="1011" y="1135.28" width="136" height="6.89" fill="#ecbeba"/>
<rect x="1011" y="1141.57" width="136" height="6.89" fill="#f7f7f7"/>
<rect x="1011" y="1147.87" width="136" height="6.89" fill="#e49896"/>
<rect x="1011" y="1154.16" width="136" height="6.89" fill="#d46364"/>
<rect x="1011" y="1160.46" width="136" height="13.19" fill="#bf323c"/>
<rect x="1011" y="1173.04" width="136" height="25.78" fill="#f7f7f7"/>
<rect x="1011" y="1198.22" width="136" height="6.89" fill="#eef0f4"/>
<rect x="1011" y="1204.51" width="136" height="6.89" fill="#e0e6f0"/>
<rect x="1011" y="1210.81" width="136" height="6.89" fill="#bcc9e3"/>
<rect x="1011" y="1217.10" width="136" height="6.89" fill="#eec9c6"/>
<rect x="1011" y="1223.40" width="136" height="6.89" fill="#f7f7f7"/>
<rect x="1011" y="1229.69" width="136" height="6.89" fill="#f0d5d2"/>
<rect x="1011" y="1235.98" width="136" height="6.89" fill="#f7f7f7"/>
<rect x="1011" y="1242.28" width="136" height="6.89" fill="#dbe1ee"/>
<rect x="1011" y="1248.57" width="136" height="6.89" fill="#eec9c6"/>
<rect x="1011" y="1254.87" width="136" height="6.89" fill="#c8d3e8"/>
<rect x="1011" y="1261.16" width="136" height="6.89" fill="#b0bfde"/>
<rect x="1011" y="1267.45" width="136" height="6.89" fill="#dbe1ee"/>
<rect x="1011" y="1273.75" width="136" height="6.89" fill="#c8d3e8"/>
<rect x="1011" y="1280.04" width="136" height="6.89" fill="#b0bfde"/>
<rect x="1011" y="1286.34" width="136" height="6.89" fill="#839ccb"/>
<rect x="1011" y="1292.63" width="136" height="13.19" fill="#b0bfde"/>
<rect x="1011" y="1305.22" width="136" height="6.89" fill="#dbe1ee"/>
<rect x="1011" y="1311.51" width="136" height="6.89" fill="#c8d3e8"/>
<rect x="1011" y="1317.81" width="136" height="6.89" fill="#eef0f4"/>
<rect x="1011" y="1324.10" width="136" height="6.89" fill="#f7f7f7"/>
<rect x="1011" y="1330.39" width="136" height="6.89" fill="#b0bfde"/>
<rect x="1011" y="1336.69" width="136" height="6.89" fill="#dbe1ee"/>
<rect x="1011" y="1342.98" width="136" height="6.89" fill="#e18c8a"/>
<rect x="1011" y="1349.28" width="136" height="6.89" fill="#e49896"/>
<rect x="1011" y="1355.57" width="136" height="6.89" fill="#e6a5a2"/>
<rect x="1011" y="1361.86" width="136" height="6.89" fill="#d46364"/>
<rect x="1011" y="1368.16" width="136" height="6.89" fill="#b61e2d"/>
<rect x="1011" y="1374.45" width="136" height="6.89" fill="#e18c8a"/>
<rect x="1011" y="1380.75" width="136" height="13.19" fill="#d76c6d"/>
<rect x="1011" y="1393.33" width="136" height="6.89" fill="#e49896"/>
<rect x="1011" y="1399.63" width="136" height="6.89" fill="#b61e2d"/>
<rect x="1011" y="1405.92" width="136" height="6.89" fill="#4471b5"/>
<rect x="1011" y="1412.22" width="136" height="6.89" fill="#4a75b8"/>
<rect x="1011" y="1418.51" width="136" height="6.89" fill="#839ccb"/>
<rect x="1011" y="1424.80" width="136" height="6.89" fill="#7a95c8"/>
<rect x="1011" y="1431.10" width="136" height="6.89" fill="#c8d3e8"/>
<rect x="1011" y="1437.39" width="136" height="6.89" fill="#e4e9f1"/>
<rect x="1011" y="1443.69" width="136" height="6.89" fill="#f0d5d2"/>
<rect x="1011" y="1449.98" width="136" height="6.89" fill="#e4e9f1"/>
<rect x="1011" y="1456.27" width="136" height="6.89" fill="#8ca2ce"/>
<rect x="1011" y="1462.57" width="136" height="6.89" fill="#d1daeb"/>
<rect x="1011" y="1468.86" width="136" height="13.19" fill="#c8d3e8"/>
<rect x="1011" y="1481.45" width="136" height="6.89" fill="#b0bfde"/>
<rect x="1011" y="1487.74" width="136" height="6.89" fill="#98acd3"/>
<rect x="1011" y="1494.04" width="136" height="13.19" fill="#d1daeb"/>
<rect x="1011" y="1506.63" width="136" height="6.89" fill="#c8d3e8"/>
<rect x="1011" y="1512.92" width="136" height="6.89" fill="#f7f7f7"/>
<rect x="1011" y="1519.21" width="136" height="6.89" fill="#d1daeb"/>
<rect x="1011" y="1525.51" width="136" height="13.19" fill="#e4e9f1"/>
<rect x="1011" y="1538.10" width="136" height="6.89" fill="#dbe1ee"/>
<rect x="1011" y="1544.39" width="136" height="6.89" fill="#e4e9f1"/>
<rect x="1011" y="1550.68" width="136" height="6.89" fill="#839ccb"/>
<rect x="1011" y="1556.98" width="136" height="6.89" fill="#e4e9f1"/>
<rect x="1011" y="1563.27" width="136" height="6.89" fill="#f7f7f7"/>
<rect x="1011" y="1569.57" width="136" height="6.89" fill="#e18c8a"/>
<rect x="1011" y="1575.86" width="136" height="19.48" fill="#98acd3"/>
<rect x="1011" y="1594.74" width="136" height="13.19" fill="#a4b6d8"/>
<rect x="1011" y="1607.33" width="136" height="6.89" fill="#c8d3e8"/>
<rect x="1011" y="1613.62" width="136" height="19.48" fill="#4471b5"/>
<rect x="1011" y="1632.51" width="136" height="6.89" fill="#c8d3e8"/>
<rect x="1011" y="1638.80" width="136" height="6.89" fill="#f7f7f7"/>
<rect x="1011" y="1645.09" width="136" height="6.89" fill="#f0d5d2"/>
<rect x="1011" y="1651.39" width="136" height="13.19" fill="#708fc6"/>
<rect x="1011" y="1663.98" width="136" height="6.89" fill="#517aba"/>
<rect x="1011" y="1670.27" width="136" height="6.89" fill="#c8d3e8"/>
<rect x="1011" y="1676.56" width="136" height="6.89" fill="#c43c44"/>
<rect x="1011" y="1682.86" width="136" height="6.89" fill="#de7f7e"/>
<rect x="1011" y="1689.15" width="136" height="6.29" fill="#db7675"/>
<rect x="1147" y="65.30" width="136" height="25.78" fill="#b61e2d"/>
<rect x="1147" y="90.48" width="136" height="13.19" fill="#db7675"/>
<rect x="1147" y="103.06" width="136" height="6.89" fill="#f7f7f7"/>
<rect x="1147" y="109.36" width="136" height="32.07" fill="#b61e2d"/>
<rect x="1147" y="140.83" width="136" height="6.89" fill="#d76c6d"/>
<rect x="1147" y="147.12" width="136" height="6.89" fill="#bb2835"/>
<rect x="1147" y="153.42" width="136" height="13.19" fill="#c43c44"/>
<rect x="1147" y="166.00" width="136" height="6.89" fill="#f7f7f7"/>
<rect x="1147" y="172.30" width="136" height="6.89" fill="#4471b5"/>
<rect x="1147" y="178.59" width="136" height="6.89" fill="#e9b1ae"/>
<rect x="1147" y="184.89" width="136" height="6.89" fill="#de7f7e"/>
<rect x="1147" y="191.18" width="136" height="6.89" fill="#e49896"/>
<rect x="1147" y="197.47" width="136" height="6.89" fill="#f6f2f2"/>
<rect x="1147" y="203.77" width="136" height="6.89" fill="#e9b1ae"/>
<rect x="1147" y="210.06" width="136" height="6.89" fill="#d76c6d"/>
<rect x="1147" y="216.36" width="136" height="6.89" fill="#4471b5"/>
<rect x="1147" y="222.65" width="136" height="6.89" fill="#e6a5a2"/>
<rect x="1147" y="228.94" width="136" height="6.89" fill="#d76c6d"/>
<rect x="1147" y="235.24" width="136" height="6.89" fill="#ecbeba"/>
<rect x="1147" y="241.53" width="136" height="13.19" fill="#e9b1ae"/>
<rect x="1147" y="254.12" width="136" height="6.89" fill="#db7675"/>
<rect x="1147" y="260.41" width="136" height="6.89" fill="#de7f7e"/>
<rect x="1147" y="266.71" width="136" height="6.89" fill="#e49896"/>
<rect x="1147" y="273.00" width="136" height="6.89" fill="#db7675"/>
<rect x="1147" y="279.30" width="136" height="6.89" fill="#e6a5a2"/>
<rect x="1147" y="285.59" width="136" height="6.89" fill="#e9b1ae"/>
<rect x="1147" y="291.88" width="136" height="6.89" fill="#f7f7f7"/>
<rect x="1147" y="298.18" width="136" height="6.89" fill="#e9b1ae"/>
<rect x="1147" y="304.47" width="136" height="6.89" fill="#e18c8a"/>
<rect x="1147" y="310.77" width="136" height="6.89" fill="#e49896"/>
<rect x="1147" y="317.06" width="136" height="6.89" fill="#de7f7e"/>
<rect x="1147" y="323.35" width="136" height="6.89" fill="#e49896"/>
<rect x="1147" y="329.65" width="136" height="6.89" fill="#db7675"/>
<rect x="1147" y="335.94" width="136" height="6.89" fill="#de7f7e"/>
<rect x="1147" y="342.24" width="136" height="6.89" fill="#e18c8a"/>
<rect x="1147" y="348.53" width="136" height="6.89" fill="#eec9c6"/>
<rect x="1147" y="354.82" width="136" height="13.19" fill="#db7675"/>
<rect x="1147" y="367.41" width="136" height="6.89" fill="#de7f7e"/>
<rect x="1147" y="373.71" width="136" height="6.89" fill="#e6a5a2"/>
<rect x="1147" y="380.00" width="136" height="13.19" fill="#e18c8a"/>
<rect x="1147" y="392.59" width="136" height="19.48" fill="#d76c6d"/>
<rect x="1147" y="411.47" width="136" height="6.89" fill="#e6a5a2"/>
<rect x="1147" y="417.76" width="136" height="6.89" fill="#ecbeba"/>
<rect x="1147" y="424.06" width="136" height="19.48" fill="#eec9c6"/>
<rect x="1147" y="442.94" width="136" height="6.89" fill="#f3e0df"/>
<rect x="1147" y="449.23" width="136" height="6.89" fill="#ecbeba"/>
<rect x="1147" y="455.53" width="136" height="13.19" fill="#eec9c6"/>
<rect x="1147" y="468.12" width="136" height="6.89" fill="#e9b1ae"/>
<rect x="1147" y="474.41" width="136" height="13.19" fill="#eec9c6"/>
<rect x="1147" y="487.00" width="136" height="6.89" fill="#f0d5d2"/>
<rect x="1147" y="493.29" width="136" height="6.89" fill="#de7f7e"/>
<rect x="1147" y="499.59" width="136" height="6.89" fill="#e49896"/>
<rect x="1147" y="505.88" width="136" height="13.19" fill="#ecbeba"/>
<rect x="1147" y="518.47" width="136" height="13.19" fill="#f6f2f2"/>
<rect x="1147" y="531.06" width="136" height="6.89" fill="#de7f7e"/>
<rect x="1147" y="537.35" width="136" height="6.89" fill="#e18c8a"/>
<rect x="1147" y="543.64" width="136" height="6.89" fill="#db7675"/>
<rect x="1147" y="549.94" width="136" height="6.89" fill="#e9b1ae"/>
<rect x="1147" y="556.23" width="136" height="6.89" fill="#e49896"/>
<rect x="1147" y="562.53" width="136" height="6.89" fill="#e6a5a2"/>
<rect x="1147" y="568.82" width="136" height="6.89" fill="#e9b1ae"/>
<rect x="1147" y="575.11" width="136" height="6.89" fill="#f5eceb"/>
<rect x="1147" y="581.41" width="136" height="13.19" fill="#f3e0df"/>
<rect x="1147" y="594.00" width="136" height="13.19" fill="#eef0f4"/>
<rect x="1147" y="606.58" width="136" height="6.89" fill="#eec9c6"/>
<rect x="1147" y="612.88" width="136" height="13.19" fill="#f0d5d2"/>
<rect x="1147" y="625.47" width="136" height="19.48" fill="#e6a5a2"/>
<rect x="1147" y="644.35" width="136" height="6.89" fill="#d76c6d"/>
<rect x="1147" y="650.64" width="136" height="13.19" fill="#e9b1ae"/>
<rect x="1147" y="663.23" width="136" height="6.89" fill="#de7f7e"/>
<rect x="1147" y="669.52" width="136" height="6.89" fill="#e49896"/>
<rect x="1147" y="675.82" width="136" height="6.89" fill="#cd5053"/>
<rect x="1147" y="682.11" width="136" height="6.89" fill="#f3e0df"/>
<rect x="1147" y="688.41" width="136" height="6.89" fill="#de7f7e"/>
<rect x="1147" y="694.70" width="136" height="6.89" fill="#bf323c"/>
<rect x="1147" y="700.99" width="136" height="6.89" fill="#a4b6d8"/>
<rect x="1147" y="707.29" width="136" height="6.89" fill="#f7f7f7"/>
<rect x="1147" y="713.58" width="136" height="6.89" fill="#a4b6d8"/>
<rect x="1147" y="719.88" width="136" height="6.89" fill="#e6a5a2"/>
<rect x="1147" y="726.17" width="136" height="6.89" fill="#eec9c6"/>
<rect x="1147" y="732.46" width="136" height="6.89" fill="#4471b5"/>
<rect x="1147" y="738.76" width="136" height="6.89" fill="#c8d3e8"/>
<rect x="1147" y="745.05" width="136" height="6.89" fill="#7a95c8"/>
<rect x="1147" y="751.35" width="136" height="6.89" fill="#98acd3"/>
<rect x="1147" y="757.64" width="136" height="13.19" fill="#f7f7f7"/>
<rect x="1147" y="770.23" width="136" height="13.19" fill="#dbe1ee"/>
<rect x="1147" y="782.82" width="136" height="13.19" fill="#f6f2f2"/>
<rect x="1147" y="795.40" width="136" height="6.89" fill="#f0d5d2"/>
<rect x="1147" y="801.70" width="136" height="6.89" fill="#f7f7f7"/>
<rect x="1147" y="807.99" width="136" height="6.89" fill="#e8ebf2"/>
<rect x="1147" y="814.29" width="136" height="13.19" fill="#e0e6f0"/>
<rect x="1147" y="826.87" width="136" height="6.89" fill="#e4e9f1"/>
<rect x="1147" y="833.17" width="136" height="107.60" fill="#f7f7f7"/>
<rect x="1147" y="940.17" width="136" height="6.89" fill="#f1f3f5"/>
<rect x="1147" y="946.46" width="136" height="6.89" fill="#f7f7f7"/>
<rect x="1147" y="952.75" width="136" height="6.89" fill="#f1f3f5"/>
<rect x="1147" y="959.05" width="136" height="6.89" fill="#f7f7f7"/>
<rect x="1147" y="965.34" width="136" height="6.89" fill="#f3e5e3"/>
<rect x="1147" y="971.64" width="136" height="13.19" fill="#f0d5d2"/>
<rect x="1147" y="984.22" width="136" height="38.36" fill="#f3e0df"/>
<rect x="1147" y="1021.99" width="136" height="6.89" fill="#f7f7f7"/>
<rect x="1147" y="1028.28" width="136" height="6.89" fill="#eec9c6"/>
<rect x="1147" y="1034.58" width="136" height="6.89" fill="#f0d5d2"/>
<rect x="1147" y="1040.87" width="136" height="6.89" fill="#eec9c6"/>
<rect x="1147" y="1047.16" width="136" height="6.89" fill="#f3e5e3"/>
<rect x="1147" y="1053.46" width="136" height="13.19" fill="#f5eceb"/>
<rect x="1147" y="1066.05" width="136" height="6.89" fill="#d1daeb"/>
<rect x="1147" y="1072.34" width="136" height="6.89" fill="#eef0f4"/>
<rect x="1147" y="1078.63" width="136" height="6.89" fill="#f7f7f7"/>
<rect x="1147" y="1084.93" width="136" height="6.89" fill="#e0e6f0"/>
<rect x="1147" y="1091.22" width="136" height="6.89" fill="#d1daeb"/>
<rect x="1147" y="1097.52" width="136" height="13.19" fill="#e4e9f1"/>
<rect x="1147" y="1110.10" width="136" height="6.89" fill="#c8d3e8"/>
<rect x="1147" y="1116.40" width="136" height="6.89" fill="#d1daeb"/>
<rect x="1147" y="1122.69" width="136" height="6.89" fill="#e0e6f0"/>
<rect x="1147" y="1128.99" width="136" height="6.89" fill="#eef0f4"/>
<rect x="1147" y="1135.28" width="136" height="13.19" fill="#c8d3e8"/>
<rect x="1147" y="1147.87" width="136" height="6.89" fill="#d5ddec"/>
<rect x="1147" y="1154.16" width="136" height="6.89" fill="#7a95c8"/>
<rect x="1147" y="1160.46" width="136" height="6.89" fill="#4a75b8"/>
<rect x="1147" y="1166.75" width="136" height="6.89" fill="#98acd3"/>
<rect x="1147" y="1173.04" width="136" height="6.89" fill="#e6a5a2"/>
<rect x="1147" y="1179.34" width="136" height="6.89" fill="#f7f7f7"/>
<rect x="1147" y="1185.63" width="136" height="6.89" fill="#eef0f4"/>
<rect x="1147" y="1191.93" width="136" height="6.89" fill="#b0bfde"/>
<rect x="1147" y="1198.22" width="136" height="6.89" fill="#e9b1ae"/>
<rect x="1147" y="1204.51" width="136" height="6.89" fill="#f5eceb"/>
<rect x="1147" y="1210.81" width="136" height="6.89" fill="#eec9c6"/>
<rect x="1147" y="1217.10" width="136" height="6.89" fill="#f7f7f7"/>
<rect x="1147" y="1223.40" width="136" height="6.89" fill="#eec9c6"/>
<rect x="1147" y="1229.69" width="136" height="6.89" fill="#f5eceb"/>
<rect x="1147" y="1235.98" width="136" height="6.89" fill="#f7f7f7"/>
<rect x="1147" y="1242.28" width="136" height="13.19" fill="#de7f7e"/>
<rect x="1147" y="1254.87" width="136" height="6.89" fill="#e6a5a2"/>
<rect x="1147" y="1261.16" width="136" height="13.19" fill="#f0d5d2"/>
<rect x="1147" y="1273.75" width="136" height="6.89" fill="#dbe1ee"/>
<rect x="1147" y="1280.04" width="136" height="6.89" fill="#f3e5e3"/>
<rect x="1147" y="1286.34" width="136" height="6.89" fill="#eef0f4"/>
<rect x="1147" y="1292.63" width="136" height="6.89" fill="#f7f7f7"/>
<rect x="1147" y="1298.92" width="136" height="6.89" fill="#de7f7e"/>
<rect x="1147" y="1305.22" width="136" height="6.89" fill="#ecbeba"/>
<rect x="1147" y="1311.51" width="136" height="6.89" fill="#d46364"/>
<rect x="1147" y="1317.81" width="136" height="6.89" fill="#f7f7f7"/>
<rect x="1147" y="1324.10" width="136" height="6.89" fill="#eec9c6"/>
<rect x="1147" y="1330.39" width="136" height="6.89" fill="#d76c6d"/>
<rect x="1147" y="1336.69" width="136" height="6.89" fill="#de7f7e"/>
<rect x="1147" y="1342.98" width="136" height="6.89" fill="#d46364"/>
<rect x="1147" y="1349.28" width="136" height="6.89" fill="#f7f7f7"/>
<rect x="1147" y="1355.57" width="136" height="6.89" fill="#ecbeba"/>
<rect x="1147" y="1361.86" width="136" height="6.89" fill="#e9b1ae"/>
<rect x="1147" y="1368.16" width="136" height="6.89" fill="#c43c44"/>
<rect x="1147" y="1374.45" width="136" height="6.89" fill="#d46364"/>
<rect x="1147" y="1380.75" width="136" height="6.89" fill="#d0595c"/>
<rect x="1147" y="1387.04" width="136" height="6.89" fill="#d46364"/>
<rect x="1147" y="1393.33" width="136" height="6.89" fill="#d0595c"/>
<rect x="1147" y="1399.63" width="136" height="6.89" fill="#e18c8a"/>
<rect x="1147" y="1405.92" width="136" height="6.89" fill="#ecbeba"/>
<rect x="1147" y="1412.22" width="136" height="6.89" fill="#a4b6d8"/>
<rect x="1147" y="1418.51" width="136" height="6.89" fill="#d1daeb"/>
<rect x="1147" y="1424.80" width="136" height="6.89" fill="#f7f7f7"/>
<rect x="1147" y="1431.10" width="136" height="6.89" fill="#577ebd"/>
<rect x="1147" y="1437.39" width="136" height="6.89" fill="#708fc6"/>
<rect x="1147" y="1443.69" width="136" height="6.89" fill="#839ccb"/>
<rect x="1147" y="1449.98" width="136" height="6.89" fill="#708fc6"/>
<rect x="1147" y="1456.27" width="136" height="6.89" fill="#f3e0df"/>
<rect x="1147" y="1462.57" width="136" height="6.89" fill="#d1daeb"/>
<rect x="1147" y="1468.86" width="136" height="6.89" fill="#c8d3e8"/>
<rect x="1147" y="1475.16" width="136" height="6.89" fill="#bcc9e3"/>
<rect x="1147" y="1481.45" width="136" height="6.89" fill="#a4b6d8"/>
<rect x="1147" y="1487.74" width="136" height="6.89" fill="#dbe1ee"/>
<rect x="1147" y="1494.04" width="136" height="6.89" fill="#d1daeb"/>
<rect x="1147" y="1500.33" width="136" height="6.89" fill="#c8d3e8"/>
<rect x="1147" y="1506.63" width="136" height="6.89" fill="#bcc9e3"/>
<rect x="1147" y="1512.92" width="136" height="6.89" fill="#b0bfde"/>
<rect x="1147" y="1519.21" width="136" height="19.48" fill="#bcc9e3"/>
<rect x="1147" y="1538.10" width="136" height="6.89" fill="#b0bfde"/>
<rect x="1147" y="1544.39" width="136" height="25.78" fill="#eef0f4"/>
<rect x="1147" y="1569.57" width="136" height="19.48" fill="#a4b6d8"/>
<rect x="1147" y="1588.45" width="136" height="6.89" fill="#dbe1ee"/>
<rect x="1147" y="1594.74" width="136" height="6.89" fill="#d1daeb"/>
<rect x="1147" y="1601.04" width="136" height="6.89" fill="#e4e9f1"/>
<rect x="1147" y="1607.33" width="136" height="6.89" fill="#b0bfde"/>
<rect x="1147" y="1613.62" width="136" height="13.19" fill="#e0e6f0"/>
<rect x="1147" y="1626.21" width="136" height="6.89" fill="#f3e0df"/>
<rect x="1147" y="1632.51" width="136" height="6.89" fill="#a4b6d8"/>
<rect x="1147" y="1638.80" width="136" height="6.89" fill="#8ca2ce"/>
<rect x="1147" y="1645.09" width="136" height="19.48" fill="#f0d5d2"/>
<rect x="1147" y="1663.98" width="136" height="6.89" fill="#eef0f4"/>
<rect x="1147" y="1670.27" width="136" height="6.89" fill="#4a75b8"/>
<rect x="1147" y="1676.56" width="136" height="6.89" fill="#f7f7f7"/>
<rect x="1147" y="1682.86" width="136" height="12.59" fill="#4471b5"/>
<rect x="1283" y="65.30" width="136" height="25.78" fill="#b61e2d"/>
<rect x="1283" y="90.48" width="136" height="6.89" fill="#bf323c"/>
<rect x="1283" y="96.77" width="136" height="6.89" fill="#cd5053"/>
<rect x="1283" y="103.06" width="136" height="25.78" fill="#b61e2d"/>
<rect x="1283" y="128.24" width="136" height="6.89" fill="#bf323c"/>
<rect x="1283" y="134.53" width="136" height="13.19" fill="#cd5053"/>
<rect x="1283" y="147.12" width="136" height="6.89" fill="#bf323c"/>
<rect x="1283" y="153.42" width="136" height="6.89" fill="#bb2835"/>
<rect x="1283" y="159.71" width="136" height="6.89" fill="#4a75b8"/>
<rect x="1283" y="166.00" width="136" height="6.89" fill="#b0bfde"/>
<rect x="1283" y="172.30" width="136" height="6.89" fill="#f7f7f7"/>
<rect x="1283" y="178.59" width="136" height="13.19" fill="#e6a5a2"/>
<rect x="1283" y="191.18" width="136" height="6.89" fill="#eec9c6"/>
<rect x="1283" y="197.47" width="136" height="6.89" fill="#e49896"/>
<rect x="1283" y="203.77" width="136" height="6.89" fill="#f0d5d2"/>
<rect x="1283" y="210.06" width="136" height="6.89" fill="#d1daeb"/>
<rect x="1283" y="216.36" width="136" height="6.89" fill="#bb2835"/>
<rect x="1283" y="222.65" width="136" height="6.89" fill="#d0595c"/>
<rect x="1283" y="228.94" width="136" height="13.19" fill="#de7f7e"/>
<rect x="1283" y="241.53" width="136" height="6.89" fill="#f7f7f7"/>
<rect x="1283" y="247.83" width="136" height="13.19" fill="#eec9c6"/>
<rect x="1283" y="260.41" width="136" height="6.89" fill="#d76c6d"/>
<rect x="1283" y="266.71" width="136" height="6.89" fill="#e6a5a2"/>
<rect x="1283" y="273.00" width="136" height="6.89" fill="#ecbeba"/>
<rect x="1283" y="279.30" width="136" height="6.89" fill="#e9b1ae"/>
<rect x="1283" y="285.59" width="136" height="6.89" fill="#f0d5d2"/>
<rect x="1283" y="291.88" width="136" height="6.89" fill="#e18c8a"/>
<rect x="1283" y="298.18" width="136" height="6.89" fill="#d76c6d"/>
<rect x="1283" y="304.47" width="136" height="6.89" fill="#ecbeba"/>
<rect x="1283" y="310.77" width="136" height="6.89" fill="#f5eceb"/>
<rect x="1283" y="317.06" width="136" height="6.89" fill="#db7675"/>
<rect x="1283" y="323.35" width="136" height="6.89" fill="#d76c6d"/>
<rect x="1283" y="329.65" width="136" height="6.89" fill="#e6a5a2"/>
<rect x="1283" y="335.94" width="136" height="6.89" fill="#f3e0df"/>
<rect x="1283" y="342.24" width="136" height="6.89" fill="#f0d5d2"/>
<rect x="1283" y="348.53" width="136" height="6.89" fill="#f3e0df"/>
<rect x="1283" y="354.82" width="136" height="6.89" fill="#e49896"/>
<rect x="1283" y="361.12" width="136" height="6.89" fill="#ecbeba"/>
<rect x="1283" y="367.41" width="136" height="6.89" fill="#f6f0f0"/>
<rect x="1283" y="373.71" width="136" height="6.89" fill="#eec9c6"/>
<rect x="1283" y="380.00" width="136" height="6.89" fill="#f0d5d2"/>
<rect x="1283" y="386.29" width="136" height="6.89" fill="#f6f0f0"/>
<rect x="1283" y="392.59" width="136" height="6.89" fill="#f6f2f2"/>
<rect x="1283" y="398.88" width="136" height="6.89" fill="#e4e9f1"/>
<rect x="1283" y="405.18" width="136" height="6.89" fill="#f6f2f2"/>
<rect x="1283" y="411.47" width="136" height="6.89" fill="#e6a5a2"/>
<rect x="1283" y="417.76" width="136" height="6.89" fill="#f6f0f0"/>
<rect x="1283" y="424.06" width="136" height="6.89" fill="#f0d5d2"/>
<rect x="1283" y="430.35" width="136" height="6.89" fill="#ecbeba"/>
<rect x="1283" y="436.65" width="136" height="6.89" fill="#e9b1ae"/>
<rect x="1283" y="442.94" width="136" height="6.89" fill="#e6a5a2"/>
<rect x="1283" y="449.23" width="136" height="6.89" fill="#e49896"/>
<rect x="1283" y="455.53" width="136" height="13.19" fill="#eec9c6"/>
<rect x="1283" y="468.12" width="136" height="6.89" fill="#ecbeba"/>
<rect x="1283" y="474.41" width="136" height="6.89" fill="#e6a5a2"/>
<rect x="1283" y="480.70" width="136" height="6.89" fill="#f3e0df"/>
<rect x="1283" y="487.00" width="136" height="6.89" fill="#eec9c6"/>
<rect x="1283" y="493.29" width="136" height="6.89" fill="#f0d5d2"/>
<rect x="1283" y="499.59" width="136" height="6.89" fill="#f6f0f0"/>
<rect x="1283" y="505.88" width="136" height="6.89" fill="#f5eceb"/>
<rect x="1283" y="512.17" width="136" height="13.19" fill="#f0d5d2"/>
<rect x="1283" y="524.76" width="136" height="6.89" fill="#d46364"/>
<rect x="1283" y="531.06" width="136" height="6.89" fill="#e9b1ae"/>
<rect x="1283" y="537.35" width="136" height="13.19" fill="#eec9c6"/>
<rect x="1283" y="549.94" width="136" height="6.89" fill="#e6a5a2"/>
<rect x="1283" y="556.23" width="136" height="13.19" fill="#f0d5d2"/>
<rect x="1283" y="568.82" width="136" height="6.89" fill="#e49896"/>
<rect x="1283" y="575.11" width="136" height="6.89" fill="#f0d5d2"/>
<rect x="1283" y="581.41" width="136" height="19.48" fill="#e9b1ae"/>
<rect x="1283" y="600.29" width="136" height="13.19" fill="#eec9c6"/>
<rect x="1283" y="612.88" width="136" height="6.89" fill="#e9b1ae"/>
<rect x="1283" y="619.17" width="136" height="6.89" fill="#eec9c6"/>
<rect x="1283" y="625.47" width="136" height="6.89" fill="#ecbeba"/>
<rect x="1283" y="631.76" width="136" height="6.89" fill="#d76c6d"/>
<rect x="1283" y="638.05" width="136" height="13.19" fill="#e18c8a"/>
<rect x="1283" y="650.64" width="136" height="19.48" fill="#e9b1ae"/>
<rect x="1283" y="669.52" width="136" height="13.19" fill="#de7f7e"/>
<rect x="1283" y="682.11" width="136" height="6.89" fill="#e18c8a"/>
<rect x="1283" y="688.41" width="136" height="6.89" fill="#de7f7e"/>
<rect x="1283" y="694.70" width="136" height="6.89" fill="#b61e2d"/>
<rect x="1283" y="700.99" width="136" height="6.89" fill="#d1daeb"/>
<rect x="1283" y="707.29" width="136" height="6.89" fill="#7a95c8"/>
<rect x="1283" y="713.58" width="136" height="6.89" fill="#f7f7f7"/>
<rect x="1283" y="719.88" width="136" height="6.89" fill="#8ca2ce"/>
<rect x="1283" y="726.17" width="136" height="6.89" fill="#f7f7f7"/>
<rect x="1283" y="732.46" width="136" height="6.89" fill="#e49896"/>
<rect x="1283" y="738.76" width="136" height="6.89" fill="#f3e5e3"/>
<rect x="1283" y="745.05" width="136" height="6.89" fill="#ecbeba"/>
<rect x="1283" y="751.35" width="136" height="6.89" fill="#c43c44"/>
<rect x="1283" y="757.64" width="136" height="19.48" fill="#f7f7f7"/>
<rect x="1283" y="776.52" width="136" height="6.89" fill="#f1f3f5"/>
<rect x="1283" y="782.82" width="136" height="6.89" fill="#f3e5e3"/>
<rect x="1283" y="789.11" width="136" height="13.19" fill="#f6f2f2"/>
<rect x="1283" y="801.70" width="136" height="6.89" fill="#f7f7f7"/>
<rect x="1283" y="807.99" width="136" height="6.89" fill="#f1f3f5"/>
<rect x="1283" y="814.29" width="136" height="6.89" fill="#e8ebf2"/>
<rect x="1283" y="820.58" width="136" height="6.89" fill="#f1f3f5"/>
<rect x="1283" y="826.87" width="136" height="6.89" fill="#f5eceb"/>
<rect x="1283" y="833.17" width="136" height="101.30" fill="#f7f7f7"/>
<rect x="1283" y="933.87" width="136" height="6.89" fill="#f3e0df"/>
<rect x="1283" y="940.17" width="136" height="6.89" fill="#f7f7f7"/>
<rect x="1283" y="946.46" width="136" height="6.89" fill="#f3f4f6"/>
<rect x="1283" y="952.75" width="136" height="6.89" fill="#f7f7f7"/>
<rect x="1283" y="959.05" width="136" height="6.89" fill="#f6f2f2"/>
<rect x="1283" y="965.34" width="136" height="6.89" fill="#f3e5e3"/>
<rect x="1283" y="971.64" width="136" height="6.89" fill="#f3e0df"/>
<rect x="1283" y="977.93" width="136" height="6.89" fill="#f2dcda"/>
<rect x="1283" y="984.22" width="136" height="6.89" fill="#f3e5e3"/>
<rect x="1283" y="990.52" width="136" height="19.48" fill="#f6f0f0"/>
<rect x="1283" y="1009.40" width="136" height="6.89" fill="#e9b1ae"/>
<rect x="1283" y="1015.69" width="136" height="6.89" fill="#f6f2f2"/>
<rect x="1283" y="1021.99" width="136" height="6.89" fill="#b0bfde"/>
<rect x="1283" y="1028.28" width="136" height="6.89" fill="#eec9c6"/>
<rect x="1283" y="1034.58" width="136" height="6.89" fill="#ecbeba"/>
<rect x="1283" y="1040.87" width="136" height="6.89" fill="#f0d5d2"/>
<rect x="1283" y="1047.16" width="136" height="6.89" fill="#f6f2f2"/>
<rect x="1283" y="1053.46" width="136" height="6.89" fill="#f5eceb"/>
<rect x="1283" y="1059.75" width="136" height="6.89" fill="#f6f2f2"/>
<rect x="1283" y="1066.05" width="136" height="6.89" fill="#f1f3f5"/>
<rect x="1283" y="1072.34" width="136" height="6.89" fill="#dbe1ee"/>
<rect x="1283" y="1078.63" width="136" height="13.19" fill="#f7f7f7"/>
<rect x="1283" y="1091.22" width="136" height="25.78" fill="#e8ebf2"/>
<rect x="1283" y="1116.40" width="136" height="6.89" fill="#eef0f4"/>
<rect x="1283" y="1122.69" width="136" height="6.89" fill="#f3f4f6"/>
<rect x="1283" y="1128.99" width="136" height="13.19" fill="#f7f7f7"/>
<rect x="1283" y="1141.57" width="136" height="13.19" fill="#b0bfde"/>
<rect x="1283" y="1154.16" width="136" height="6.89" fill="#c8d3e8"/>
<rect x="1283" y="1160.46" width="136" height="13.19" fill="#e0e6f0"/>
<rect x="1283" y="1173.04" width="136" height="6.89" fill="#f7f7f7"/>
<rect x="1283" y="1179.34" width="136" height="6.89" fill="#dbe1ee"/>
<rect x="1283" y="1185.63" width="136" height="6.89" fill="#d0595c"/>
<rect x="1283" y="1191.93" width="136" height="6.89" fill="#e18c8a"/>
<rect x="1283" y="1198.22" width="136" height="6.89" fill="#e9b1ae"/>
<rect x="1283" y="1204.51" width="136" height="6.89" fill="#db7675"/>
<rect x="1283" y="1210.81" width="136" height="6.89" fill="#d46364"/>
<rect x="1283" y="1217.10" width="136" height="6.89" fill="#f7f7f7"/>
<rect x="1283" y="1223.40" width="136" height="6.89" fill="#eef0f4"/>
<rect x="1283" y="1229.69" width="136" height="6.89" fill="#f5eceb"/>
<rect x="1283" y="1235.98" width="136" height="6.89" fill="#f7f7f7"/>
<rect x="1283" y="1242.28" width="136" height="6.89" fill="#e9b1ae"/>
<rect x="1283" y="1248.57" width="136" height="6.89" fill="#e49896"/>
<rect x="1283" y="1254.87" width="136" height="6.89" fill="#f7f7f7"/>
<rect x="1283" y="1261.16" width="136" height="6.89" fill="#e8ebf2"/>
<rect x="1283" y="1267.45" width="136" height="6.89" fill="#eec9c6"/>
<rect x="1283" y="1273.75" width="136" height="6.89" fill="#f7f7f7"/>
<rect x="1283" y="1280.04" width="136" height="6.89" fill="#f6f2f2"/>
<rect x="1283" y="1286.34" width="136" height="6.89" fill="#de7f7e"/>
<rect x="1283" y="1292.63" width="136" height="6.89" fill="#db7675"/>
<rect x="1283" y="1298.92" width="136" height="6.89" fill="#eec9c6"/>
<rect x="1283" y="1305.22" width="136" height="6.89" fill="#dbe1ee"/>
<rect x="1283" y="1311.51" width="136" height="13.19" fill="#a4b6d8"/>
<rect x="1283" y="1324.10" width="136" height="6.89" fill="#e4e9f1"/>
<rect x="1283" y="1330.39" width="136" height="13.19" fill="#d46364"/>
<rect x="1283" y="1342.98" width="136" height="13.19" fill="#de7f7e"/>
<rect x="1283" y="1355.57" width="136" height="6.89" fill="#eec9c6"/>
<rect x="1283" y="1361.86" width="136" height="6.89" fill="#d76c6d"/>
<rect x="1283" y="1368.16" width="136" height="13.19" fill="#bf323c"/>
<rect x="1283" y="1380.75" width="136" height="6.89" fill="#db7675"/>
<rect x="1283" y="1387.04" width="136" height="6.89" fill="#e49896"/>
<rect x="1283" y="1393.33" width="136" height="6.89" fill="#e18c8a"/>
<rect x="1283" y="1399.63" width="136" height="6.89" fill="#f7f7f7"/>
<rect x="1283" y="1405.92" width="136" height="6.89" fill="#d46364"/>
<rect x="1283" y="1412.22" width="136" height="6.89" fill="#f7f7f7"/>
<rect x="1283" y="1418.51" width="136" height="6.89" fill="#f0d5d2"/>
<rect x="1283" y="1424.80" width="136" height="6.89" fill="#b0bfde"/>
<rect x="1283" y="1431.10" width="136" height="6.89" fill="#d1daeb"/>
<rect x="1283" y="1437.39" width="136" height="6.89" fill="#eef0f4"/>
<rect x="1283" y="1443.69" width="136" height="6.89" fill="#dbe1ee"/>
<rect x="1283" y="1449.98" width="136" height="13.19" fill="#d1daeb"/>
<rect x="1283" y="1462.57" width="136" height="6.89" fill="#e4e9f1"/>
<rect x="1283" y="1468.86" width="136" height="19.48" fill="#d1daeb"/>
<rect x="1283" y="1487.74" width="136" height="13.19" fill="#dbe1ee"/>
<rect x="1283" y="1500.33" width="136" height="6.89" fill="#c8d3e8"/>
<rect x="1283" y="1506.63" width="136" height="13.19" fill="#e8ebf2"/>
<rect x="1283" y="1519.21" width="136" height="6.89" fill="#d1daeb"/>
<rect x="1283" y="1525.51" width="136" height="6.89" fill="#e4e9f1"/>
<rect x="1283" y="1531.80" width="136" height="6.89" fill="#bcc9e3"/>
<rect x="1283" y="1538.10" width="136" height="6.89" fill="#d1daeb"/>
<rect x="1283" y="1544.39" width="136" height="6.89" fill="#bcc9e3"/>
<rect x="1283" y="1550.68" width="136" height="6.89" fill="#eec9c6"/>
<rect x="1283" y="1556.98" width="136" height="6.89" fill="#f7f7f7"/>
<rect x="1283" y="1563.27" width="136" height="6.89" fill="#f0d5d2"/>
<rect x="1283" y="1569.57" width="136" height="6.89" fill="#f3e0df"/>
<rect x="1283" y="1575.86" width="136" height="6.89" fill="#c8d3e8"/>
<rect x="1283" y="1582.15" width="136" height="6.89" fill="#8ca2ce"/>
<rect x="1283" y="1588.45" width="136" height="6.89" fill="#bcc9e3"/>
<rect x="1283" y="1594.74" width="136" height="13.19" fill="#f7f7f7"/>
<rect x="1283" y="1607.33" width="136" height="6.89" fill="#e8ebf2"/>
<rect x="1283" y="1613.62" width="136" height="6.89" fill="#f0d5d2"/>
<rect x="1283" y="1619.92" width="136" height="6.89" fill="#c8d3e8"/>
<rect x="1283" y="1626.21" width="136" height="6.89" fill="#bcc9e3"/>
<rect x="1283" y="1632.51" width="136" height="6.89" fill="#d46364"/>
<rect x="1283" y="1638.80" width="136" height="6.89" fill="#d76c6d"/>
<rect x="1283" y="1645.09" width="136" height="6.89" fill="#cd5053"/>
<rect x="1283" y="1651.39" width="136" height="6.89" fill="#f7f7f7"/>
<rect x="1283" y="1657.68" width="136" height="6.89" fill="#eec9c6"/>
<rect x="1283" y="1663.98" width="136" height="6.89" fill="#f7f7f7"/>
<rect x="1283" y="1670.27" width="136" height="6.89" fill="#d76c6d"/>
<rect x="1283" y="1676.56" width="136" height="6.89" fill="#517aba"/>
<rect x="1283" y="1682.86" width="136" height="6.89" fill="#7a95c8"/>
<rect x="1283" y="1689.15" width="136" height="6.29" fill="#eec9c6"/>
<rect x="590" y="63.8" width="835" height="3.2" fill="#fff"/>
<rect x="585" y="60" width="9" height="1640" fill="#fff"/><rect x="1002" y="60" width="9" height="1640" fill="#fff"/>
<path d="M156.0 68.45L156.0 74.74M156.0 68.45L172.5 68.45M156.0 74.74L172.5 74.74M145.5 71.59L145.5 81.03M145.5 71.59L156.0 71.59M145.5 81.03L172.5 81.03M162.1 93.62L162.1 99.92M162.1 93.62L172.5 93.62M162.1 99.92L172.5 99.92M156.3 96.77L156.3 106.21M156.3 96.77L162.1 96.77M156.3 106.21L172.5 106.21M154.4 101.49L154.4 112.50M154.4 101.49L156.3 101.49M154.4 112.50L172.5 112.50M165.0 131.39L165.0 137.68M165.0 131.39L172.5 131.39M165.0 137.68L172.5 137.68M162.3 125.09L162.3 134.53M162.3 125.09L172.5 125.09M162.3 134.53L165.0 134.53M160.1 118.80L160.1 129.81M160.1 118.80L172.5 118.80M160.1 129.81L162.3 129.81M153.0 107.00L153.0 124.31M153.0 107.00L154.4 107.00M153.0 124.31L160.1 124.31M159.9 143.97L159.9 150.27M159.9 143.97L172.5 143.97M159.9 150.27L172.5 150.27M154.7 147.12L154.7 156.56M154.7 147.12L159.9 147.12M154.7 156.56L172.5 156.56M145.5 115.65L145.5 151.84M145.5 115.65L153.0 115.65M145.5 151.84L154.7 151.84M133.4 87.33L133.4 133.75M133.4 87.33L172.5 87.33M133.4 133.75L145.5 133.75M124.0 110.54L124.0 162.86M124.0 110.54L133.4 110.54M124.0 162.86L172.5 162.86M114.0 76.31L114.0 136.70M114.0 76.31L145.5 76.31M114.0 136.70L124.0 136.70M155.1 169.15L155.1 175.44M155.1 169.15L172.5 169.15M155.1 175.44L172.5 175.44M164.7 181.74L164.7 188.03M164.7 181.74L172.5 181.74M164.7 188.03L172.5 188.03M162.8 184.89L162.8 194.33M162.8 184.89L164.7 184.89M162.8 194.33L172.5 194.33M162.7 189.61L162.7 200.62M162.7 189.61L162.8 189.61M162.7 200.62L172.5 200.62M160.7 195.11L160.7 206.91M160.7 195.11L162.7 195.11M160.7 206.91L172.5 206.91M157.0 201.01L157.0 213.21M157.0 201.01L160.7 201.01M157.0 213.21L172.5 213.21M151.4 172.30L151.4 207.11M151.4 172.30L155.1 172.30M151.4 207.11L157.0 207.11M143.0 189.70L143.0 219.50M143.0 189.70L151.4 189.70M143.0 219.50L172.5 219.50M164.3 225.80L164.3 232.09M164.3 225.80L172.5 225.80M164.3 232.09L172.5 232.09M161.6 228.94L161.6 238.38M161.6 228.94L164.3 228.94M161.6 238.38L172.5 238.38M164.1 244.68L164.1 250.97M164.1 244.68L172.5 244.68M164.1 250.97L172.5 250.97M163.3 247.83L163.3 257.27M163.3 247.83L164.1 247.83M163.3 257.27L172.5 257.27M160.8 233.66L160.8 252.55M160.8 233.66L161.6 233.66M160.8 252.55L163.3 252.55M154.5 243.11L154.5 263.56M154.5 243.11L160.8 243.11M154.5 263.56L172.5 263.56M165.5 276.15L165.5 282.44M165.5 276.15L172.5 276.15M165.5 282.44L172.5 282.44M161.4 269.85L161.4 279.30M161.4 269.85L172.5 269.85M161.4 279.30L165.5 279.30M163.9 295.03L163.9 301.32M163.9 295.03L172.5 295.03M163.9 301.32L172.5 301.32M163.0 288.74L163.0 298.18M163.0 288.74L172.5 288.74M163.0 298.18L163.9 298.18M160.2 274.58L160.2 293.46M160.2 274.58L161.4 274.58M160.2 293.46L163.0 293.46M161.6 313.91L161.6 320.21M161.6 313.91L172.5 313.91M161.6 320.21L172.5 320.21M161.3 307.62L161.3 317.06M161.3 307.62L172.5 307.62M161.3 317.06L161.6 317.06M165.0 326.50L165.0 332.80M165.0 326.50L172.5 326.50M165.0 332.80L172.5 332.80M163.2 329.65L163.2 339.09M163.2 329.65L165.0 329.65M163.2 339.09L172.5 339.09M163.4 345.38L163.4 351.68M163.4 345.38L172.5 345.38M163.4 351.68L172.5 351.68M163.1 357.97L163.1 364.26M163.1 357.97L172.5 357.97M163.1 364.26L172.5 364.26M161.3 348.53L161.3 361.12M161.3 348.53L163.4 348.53M161.3 361.12L163.1 361.12M161.2 334.37L161.2 354.82M161.2 334.37L163.2 334.37M161.2 354.82L161.3 354.82M165.8 376.85L165.8 383.15M165.8 376.85L172.5 376.85M165.8 383.15L172.5 383.15M164.0 370.56L164.0 380.00M164.0 370.56L172.5 370.56M164.0 380.00L165.8 380.00M163.5 375.28L163.5 389.44M163.5 375.28L164.0 375.28M163.5 389.44L172.5 389.44M163.2 395.74L163.2 402.03M163.2 395.74L172.5 395.74M163.2 402.03L172.5 402.03M164.5 414.62L164.5 420.91M164.5 414.62L172.5 414.62M164.5 420.91L172.5 420.91M166.1 433.50L166.1 439.79M166.1 433.50L172.5 433.50M166.1 439.79L172.5 439.79M165.4 427.20L165.4 436.65M165.4 427.20L172.5 427.20M165.4 436.65L166.1 436.65M163.6 431.93L163.6 446.09M163.6 431.93L165.4 431.93M163.6 446.09L172.5 446.09M162.6 417.76L162.6 439.01M162.6 417.76L164.5 417.76M162.6 439.01L163.6 439.01M162.5 408.32L162.5 428.39M162.5 408.32L172.5 408.32M162.5 428.39L162.6 428.39M166.6 458.68L166.6 464.97M166.6 458.68L172.5 458.68M166.6 464.97L172.5 464.97M165.7 471.26L165.7 477.56M165.7 471.26L172.5 471.26M165.7 477.56L172.5 477.56M165.5 461.82L165.5 474.41M165.5 461.82L166.6 461.82M165.5 474.41L165.7 474.41M164.2 452.38L164.2 468.12M164.2 452.38L172.5 452.38M164.2 468.12L165.5 468.12M162.8 460.25L162.8 483.85M162.8 460.25L164.2 460.25M162.8 483.85L172.5 483.85M163.9 490.14L163.9 496.44M163.9 490.14L172.5 490.14M163.9 496.44L172.5 496.44M164.8 502.73L164.8 509.03M164.8 502.73L172.5 502.73M164.8 509.03L172.5 509.03M163.4 493.29L163.4 505.88M163.4 493.29L163.9 493.29M163.4 505.88L164.8 505.88M162.5 472.05L162.5 499.59M162.5 472.05L162.8 472.05M162.5 499.59L163.4 499.59M165.4 515.32L165.4 521.62M165.4 515.32L172.5 515.32M165.4 521.62L172.5 521.62M162.4 485.82L162.4 518.47M162.4 485.82L162.5 485.82M162.4 518.47L165.4 518.47M162.4 502.14L162.4 527.91M162.4 502.14L162.4 502.14M162.4 527.91L172.5 527.91M161.9 418.35L161.9 515.03M161.9 418.35L162.5 418.35M161.9 515.03L162.4 515.03M161.4 398.88L161.4 466.69M161.4 398.88L163.2 398.88M161.4 466.69L161.9 466.69M161.4 382.36L161.4 432.79M161.4 382.36L163.5 382.36M161.4 432.79L161.4 432.79M159.4 344.60L159.4 407.57M159.4 344.60L161.2 344.60M159.4 407.57L161.4 407.57M159.1 312.34L159.1 376.08M159.1 312.34L161.3 312.34M159.1 376.08L159.4 376.08M159.1 284.02L159.1 344.21M159.1 284.02L160.2 284.02M159.1 344.21L159.1 344.21M164.5 540.50L164.5 546.79M164.5 540.50L172.5 540.50M164.5 546.79L172.5 546.79M165.6 559.38L165.6 565.67M165.6 559.38L172.5 559.38M165.6 565.67L172.5 565.67M164.0 553.08L164.0 562.53M164.0 553.08L172.5 553.08M164.0 562.53L165.6 562.53M163.8 557.81L163.8 571.97M163.8 557.81L164.0 557.81M163.8 571.97L172.5 571.97M162.6 543.64L162.6 564.89M162.6 543.64L164.5 543.64M162.6 564.89L163.8 564.89M162.5 554.27L162.5 578.26M162.5 554.27L162.6 554.27M162.5 578.26L172.5 578.26M162.1 534.20L162.1 566.26M162.1 534.20L172.5 534.20M162.1 566.26L162.5 566.26M165.6 584.55L165.6 590.85M165.6 584.55L172.5 584.55M165.6 590.85L172.5 590.85M164.8 587.70L164.8 597.14M164.8 587.70L165.6 587.70M164.8 597.14L172.5 597.14M164.8 603.44L164.8 609.73M164.8 603.44L172.5 603.44M164.8 609.73L172.5 609.73M165.2 616.02L165.2 622.32M165.2 616.02L172.5 616.02M165.2 622.32L172.5 622.32M164.8 606.58L164.8 619.17M164.8 606.58L164.8 606.58M164.8 619.17L165.2 619.17M162.9 592.42L162.9 612.88M162.9 592.42L164.8 592.42M162.9 612.88L164.8 612.88M163.7 634.91L163.7 641.20M163.7 634.91L172.5 634.91M163.7 641.20L172.5 641.20M163.3 628.61L163.3 638.05M163.3 628.61L172.5 628.61M163.3 638.05L163.7 638.05M165.0 653.79L165.0 660.08M165.0 653.79L172.5 653.79M165.0 660.08L172.5 660.08M164.0 647.49L164.0 656.94M164.0 647.49L172.5 647.49M164.0 656.94L165.0 656.94M162.7 633.33L162.7 652.22M162.7 633.33L163.3 633.33M162.7 652.22L164.0 652.22M162.4 602.65L162.4 642.77M162.4 602.65L162.9 602.65M162.4 642.77L162.7 642.77M164.8 666.38L164.8 672.67M164.8 666.38L172.5 666.38M164.8 672.67L172.5 672.67M163.1 669.52L163.1 678.96M163.1 669.52L164.8 669.52M163.1 678.96L172.5 678.96M162.4 622.71L162.4 674.24M162.4 622.71L162.4 622.71M162.4 674.24L163.1 674.24M162.0 550.23L162.0 648.48M162.0 550.23L162.1 550.23M162.0 648.48L162.4 648.48M157.7 314.11L157.7 599.36M157.7 314.11L159.1 314.11M157.7 599.36L162.0 599.36M150.2 253.33L150.2 456.74M150.2 253.33L154.5 253.33M150.2 456.74L157.7 456.74M160.0 685.26L160.0 691.55M160.0 685.26L172.5 685.26M160.0 691.55L172.5 691.55M146.0 355.03L146.0 688.41M146.0 355.03L150.2 355.03M146.0 688.41L160.0 688.41M138.5 521.72L138.5 697.85M138.5 521.72L146.0 521.72M138.5 697.85L172.5 697.85M131.3 204.60L131.3 609.78M131.3 204.60L143.0 204.60M131.3 609.78L138.5 609.78M155.0 704.14L155.0 710.43M155.0 704.14L172.5 704.14M155.0 710.43L172.5 710.43M157.4 716.73L157.4 723.02M157.4 716.73L172.5 716.73M157.4 723.02L172.5 723.02M154.0 707.29L154.0 719.88M154.0 707.29L155.0 707.29M154.0 719.88L157.4 719.88M161.2 741.90L161.2 748.20M161.2 741.90L172.5 741.90M161.2 748.20L172.5 748.20M156.4 735.61L156.4 745.05M156.4 735.61L172.5 735.61M156.4 745.05L161.2 745.05M148.8 729.32L148.8 740.33M148.8 729.32L172.5 729.32M148.8 740.33L156.4 740.33M165.0 767.08L165.0 773.37M165.0 767.08L172.5 767.08M165.0 773.37L172.5 773.37M163.0 760.79L163.0 770.23M163.0 760.79L172.5 760.79M163.0 770.23L165.0 770.23M165.4 785.96L165.4 792.26M165.4 785.96L172.5 785.96M165.4 792.26L172.5 792.26M165.0 779.67L165.0 789.11M165.0 779.67L172.5 779.67M165.0 789.11L165.4 789.11M166.3 811.14L166.3 817.43M166.3 811.14L172.5 811.14M166.3 817.43L172.5 817.43M168.0 924.43L168.0 930.72M168.0 924.43L172.5 924.43M168.0 930.72L172.5 930.72M168.0 918.14L168.0 927.58M168.0 918.14L172.5 918.14M168.0 927.58L168.0 927.58M168.0 911.84L168.0 922.86M168.0 911.84L172.5 911.84M168.0 922.86L168.0 922.86M168.0 905.55L168.0 917.35M168.0 905.55L172.5 905.55M168.0 917.35L168.0 917.35M168.0 899.25L168.0 911.45M168.0 899.25L172.5 899.25M168.0 911.45L168.0 911.45M168.0 892.96L168.0 905.35M168.0 892.96L172.5 892.96M168.0 905.35L168.0 905.35M168.0 886.67L168.0 899.16M168.0 886.67L172.5 886.67M168.0 899.16L168.0 899.16M168.0 880.37L168.0 892.91M168.0 880.37L172.5 880.37M168.0 892.91L168.0 892.91M168.0 874.08L168.0 886.64M168.0 874.08L172.5 874.08M168.0 886.64L168.0 886.64M168.0 867.78L168.0 880.36M168.0 867.78L172.5 867.78M168.0 880.36L168.0 880.36M168.0 861.49L168.0 874.07M168.0 861.49L172.5 861.49M168.0 874.07L168.0 874.07M168.0 855.20L168.0 867.78M168.0 855.20L172.5 855.20M168.0 867.78L168.0 867.78M168.0 848.90L168.0 861.49M168.0 848.90L172.5 848.90M168.0 861.49L168.0 861.49M168.0 842.61L168.0 855.20M168.0 842.61L172.5 842.61M168.0 855.20L168.0 855.20M168.0 836.31L168.0 848.90M168.0 836.31L172.5 836.31M168.0 848.90L168.0 848.90M166.4 830.02L166.4 842.61M166.4 830.02L172.5 830.02M166.4 842.61L168.0 842.61M166.4 836.31L166.4 937.02M166.4 836.31L166.4 836.31M166.4 937.02L172.5 937.02M166.0 823.73L166.0 886.67M166.0 823.73L172.5 823.73M166.0 886.67L166.4 886.67M167.2 943.31L167.2 949.61M167.2 943.31L172.5 943.31M167.2 949.61L172.5 949.61M167.1 946.46L167.1 955.90M167.1 946.46L167.2 946.46M167.1 955.90L172.5 955.90M166.5 951.18L166.5 962.19M166.5 951.18L167.1 951.18M166.5 962.19L172.5 962.19M166.3 968.49L166.3 974.78M166.3 968.49L172.5 968.49M166.3 974.78L172.5 974.78M166.2 956.69L166.2 971.64M166.2 956.69L166.5 956.69M166.2 971.64L166.3 971.64M166.0 964.16L166.0 981.08M166.0 964.16L166.2 964.16M166.0 981.08L172.5 981.08M165.5 855.20L165.5 972.62M165.5 855.20L166.0 855.20M165.5 972.62L166.0 972.62M166.6 987.37L166.6 993.66M166.6 987.37L172.5 987.37M166.6 993.66L172.5 993.66M167.5 999.96L167.5 1006.25M167.5 999.96L172.5 999.96M167.5 1006.25L172.5 1006.25M166.3 990.52L166.3 1003.11M166.3 990.52L166.6 990.52M166.3 1003.11L167.5 1003.11M165.0 913.91L165.0 996.81M165.0 913.91L165.5 913.91M165.0 996.81L166.3 996.81M164.5 814.29L164.5 955.36M164.5 814.29L166.3 814.29M164.5 955.36L165.0 955.36M164.3 804.84L164.3 884.82M164.3 804.84L172.5 804.84M164.3 884.82L164.5 884.82M164.6 1012.55L164.6 1018.84M164.6 1012.55L172.5 1012.55M164.6 1018.84L172.5 1018.84M164.1 844.83L164.1 1015.69M164.1 844.83L164.3 844.83M164.1 1015.69L164.6 1015.69M164.1 798.55L164.1 930.26M164.1 798.55L172.5 798.55M164.1 930.26L164.1 930.26M162.9 784.39L162.9 864.41M162.9 784.39L165.0 784.39M162.9 864.41L164.1 864.41M162.9 765.51L162.9 824.40M162.9 765.51L163.0 765.51M162.9 824.40L162.9 824.40M165.5 1037.72L165.5 1044.02M165.5 1037.72L172.5 1037.72M165.5 1044.02L172.5 1044.02M165.4 1031.43L165.4 1040.87M165.4 1031.43L172.5 1031.43M165.4 1040.87L165.5 1040.87M167.4 1056.61L167.4 1062.90M167.4 1056.61L172.5 1056.61M167.4 1062.90L172.5 1062.90M166.0 1050.31L166.0 1059.75M166.0 1050.31L172.5 1050.31M166.0 1059.75L167.4 1059.75M164.9 1036.15L164.9 1055.03M164.9 1036.15L165.4 1036.15M164.9 1055.03L166.0 1055.03M164.4 1075.49L164.4 1081.78M164.4 1075.49L172.5 1075.49M164.4 1081.78L172.5 1081.78M163.5 1069.19L163.5 1078.63M163.5 1069.19L172.5 1069.19M163.5 1078.63L164.4 1078.63M164.6 1094.37L164.6 1100.66M164.6 1094.37L172.5 1094.37M164.6 1100.66L172.5 1100.66M165.8 1106.96L165.8 1113.25M165.8 1106.96L172.5 1106.96M165.8 1113.25L172.5 1113.25M166.3 1119.54L166.3 1125.84M166.3 1119.54L172.5 1119.54M166.3 1125.84L172.5 1125.84M165.0 1110.10L165.0 1122.69M165.0 1110.10L165.8 1110.10M165.0 1122.69L166.3 1122.69M164.4 1097.52L164.4 1116.40M164.4 1097.52L164.6 1097.52M164.4 1116.40L165.0 1116.40M163.7 1088.08L163.7 1106.96M163.7 1088.08L172.5 1088.08M163.7 1106.96L164.4 1106.96M164.4 1132.13L164.4 1138.43M164.4 1132.13L172.5 1132.13M164.4 1138.43L172.5 1138.43M163.5 1097.52L163.5 1135.28M163.5 1097.52L163.7 1097.52M163.5 1135.28L164.4 1135.28M163.0 1073.91L163.0 1116.40M163.0 1073.91L163.5 1073.91M163.0 1116.40L163.5 1116.40M162.1 1045.59L162.1 1095.16M162.1 1045.59L164.9 1045.59M162.1 1095.16L163.0 1095.16M161.2 1025.13L161.2 1070.37M161.2 1025.13L172.5 1025.13M161.2 1070.37L162.1 1070.37M160.5 794.95L160.5 1047.75M160.5 794.95L162.9 794.95M160.5 1047.75L161.2 1047.75M159.9 1144.72L159.9 1151.01M159.9 1144.72L172.5 1144.72M159.9 1151.01L172.5 1151.01M163.4 1157.31L163.4 1163.60M163.4 1157.31L172.5 1157.31M163.4 1163.60L172.5 1163.60M161.9 1160.46L161.9 1169.90M161.9 1160.46L163.4 1160.46M161.9 1169.90L172.5 1169.90M158.7 1147.87L158.7 1165.18M158.7 1147.87L159.9 1147.87M158.7 1165.18L161.9 1165.18M154.4 921.35L154.4 1156.52M154.4 921.35L160.5 921.35M154.4 1156.52L158.7 1156.52M159.8 1176.19L159.8 1182.48M159.8 1176.19L172.5 1176.19M159.8 1182.48L172.5 1182.48M158.8 1179.34L158.8 1188.78M158.8 1179.34L159.8 1179.34M158.8 1188.78L172.5 1188.78M162.9 1201.37L162.9 1207.66M162.9 1201.37L172.5 1201.37M162.9 1207.66L172.5 1207.66M159.6 1195.07L159.6 1204.51M159.6 1195.07L172.5 1195.07M159.6 1204.51L162.9 1204.51M155.4 1184.06L155.4 1199.79M155.4 1184.06L158.8 1184.06M155.4 1199.79L159.6 1199.79M155.3 1191.93L155.3 1213.95M155.3 1191.93L155.4 1191.93M155.3 1213.95L172.5 1213.95M153.6 1038.94L153.6 1202.94M153.6 1038.94L154.4 1038.94M153.6 1202.94L155.3 1202.94M164.8 1226.54L164.8 1232.84M164.8 1226.54L172.5 1226.54M164.8 1232.84L172.5 1232.84M163.2 1220.25L163.2 1229.69M163.2 1220.25L172.5 1220.25M163.2 1229.69L164.8 1229.69M152.2 1120.94L152.2 1224.97M152.2 1120.94L153.6 1120.94M152.2 1224.97L163.2 1224.97M149.8 754.49L149.8 1172.95M149.8 754.49L172.5 754.49M149.8 1172.95L152.2 1172.95M148.0 734.82L148.0 963.72M148.0 734.82L148.8 734.82M148.0 963.72L149.8 963.72M143.4 713.58L143.4 849.27M143.4 713.58L154.0 713.58M143.4 849.27L148.0 849.27M161.7 1245.42L161.7 1251.72M161.7 1245.42L172.5 1245.42M161.7 1251.72L172.5 1251.72M164.8 1258.01L164.8 1264.31M164.8 1258.01L172.5 1258.01M164.8 1264.31L172.5 1264.31M164.3 1276.89L164.3 1283.19M164.3 1276.89L172.5 1276.89M164.3 1283.19L172.5 1283.19M162.9 1270.60L162.9 1280.04M162.9 1270.60L172.5 1270.60M162.9 1280.04L164.3 1280.04M162.6 1261.16L162.6 1275.32M162.6 1261.16L164.8 1261.16M162.6 1275.32L162.9 1275.32M163.7 1289.48L163.7 1295.78M163.7 1289.48L172.5 1289.48M163.7 1295.78L172.5 1295.78M162.1 1302.07L162.1 1308.36M162.1 1302.07L172.5 1302.07M162.1 1308.36L172.5 1308.36M161.3 1292.63L161.3 1305.22M161.3 1292.63L163.7 1292.63M161.3 1305.22L162.1 1305.22M160.6 1268.24L160.6 1298.92M160.6 1268.24L162.6 1268.24M160.6 1298.92L161.3 1298.92M160.2 1248.57L160.2 1283.58M160.2 1248.57L161.7 1248.57M160.2 1283.58L160.6 1283.58M162.5 1320.95L162.5 1327.25M162.5 1320.95L172.5 1320.95M162.5 1327.25L172.5 1327.25M160.4 1314.66L160.4 1324.10M160.4 1314.66L172.5 1314.66M160.4 1324.10L162.5 1324.10M159.9 1266.08L159.9 1319.38M159.9 1266.08L160.2 1266.08M159.9 1319.38L160.4 1319.38M157.2 1239.13L157.2 1292.73M157.2 1239.13L172.5 1239.13M157.2 1292.73L159.9 1292.73M159.2 1333.54L159.2 1339.83M159.2 1333.54L172.5 1333.54M159.2 1339.83L172.5 1339.83M157.4 1336.69L157.4 1346.13M157.4 1336.69L159.2 1336.69M157.4 1346.13L172.5 1346.13M155.0 1341.41L155.0 1352.42M155.0 1341.41L157.4 1341.41M155.0 1352.42L172.5 1352.42M154.0 1265.93L154.0 1346.92M154.0 1265.93L157.2 1265.93M154.0 1346.92L155.0 1346.92M158.5 1358.72L158.5 1365.01M158.5 1358.72L172.5 1358.72M158.5 1365.01L172.5 1365.01M165.0 1390.19L165.0 1396.48M165.0 1390.19L172.5 1390.19M165.0 1396.48L172.5 1396.48M163.4 1383.89L163.4 1393.33M163.4 1383.89L172.5 1383.89M163.4 1393.33L165.0 1393.33M163.2 1377.60L163.2 1388.61M163.2 1377.60L172.5 1377.60M163.2 1388.61L163.4 1388.61M160.8 1371.30L160.8 1383.11M160.8 1371.30L172.5 1371.30M160.8 1383.11L163.2 1383.11M157.8 1377.21L157.8 1402.77M157.8 1377.21L160.8 1377.21M157.8 1402.77L172.5 1402.77M156.1 1361.86L156.1 1389.99M156.1 1361.86L158.5 1361.86M156.1 1389.99L157.8 1389.99M161.9 1415.36L161.9 1421.66M161.9 1415.36L172.5 1415.36M161.9 1421.66L172.5 1421.66M158.0 1409.07L158.0 1418.51M158.0 1409.07L172.5 1409.07M158.0 1418.51L161.9 1418.51M146.5 1375.93L146.5 1413.79M146.5 1375.93L156.1 1375.93M146.5 1413.79L158.0 1413.79M145.3 1306.42L145.3 1394.86M145.3 1306.42L154.0 1306.42M145.3 1394.86L146.5 1394.86M139.0 781.43L139.0 1350.64M139.0 781.43L143.4 781.43M139.0 1350.64L145.3 1350.64M162.8 1446.83L162.8 1453.13M162.8 1446.83L172.5 1446.83M162.8 1453.13L172.5 1453.13M160.0 1440.54L160.0 1449.98M160.0 1440.54L172.5 1440.54M160.0 1449.98L162.8 1449.98M159.8 1434.24L159.8 1445.26M159.8 1434.24L172.5 1434.24M159.8 1445.26L160.0 1445.26M166.6 1472.01L166.6 1478.30M166.6 1472.01L172.5 1472.01M166.6 1478.30L172.5 1478.30M165.9 1465.71L165.9 1475.16M165.9 1465.71L172.5 1465.71M165.9 1475.16L166.6 1475.16M164.8 1470.44L164.8 1484.60M164.8 1470.44L165.9 1470.44M164.8 1484.60L172.5 1484.60M164.4 1477.52L164.4 1490.89M164.4 1477.52L164.8 1477.52M164.4 1490.89L172.5 1490.89M166.3 1497.18L166.3 1503.48M166.3 1497.18L172.5 1497.18M166.3 1503.48L172.5 1503.48M164.3 1500.33L164.3 1509.77M164.3 1500.33L166.3 1500.33M164.3 1509.77L172.5 1509.77M164.1 1484.20L164.1 1505.05M164.1 1484.20L164.4 1484.20M164.1 1505.05L164.3 1505.05M166.0 1522.36L166.0 1528.65M166.0 1522.36L172.5 1522.36M166.0 1528.65L172.5 1528.65M165.4 1525.51L165.4 1534.95M165.4 1525.51L166.0 1525.51M165.4 1534.95L172.5 1534.95M165.2 1530.23L165.2 1541.24M165.2 1530.23L165.4 1530.23M165.2 1541.24L172.5 1541.24M164.3 1516.07L164.3 1535.74M164.3 1516.07L172.5 1516.07M164.3 1535.74L165.2 1535.74M163.4 1525.90L163.4 1547.54M163.4 1525.90L164.3 1525.90M163.4 1547.54L172.5 1547.54M163.3 1494.63L163.3 1536.72M163.3 1494.63L164.1 1494.63M163.3 1536.72L163.4 1536.72M162.6 1459.42L162.6 1515.67M162.6 1459.42L172.5 1459.42M162.6 1515.67L163.3 1515.67M159.6 1439.75L159.6 1487.55M159.6 1439.75L159.8 1439.75M159.6 1487.55L162.6 1487.55M157.8 1463.65L157.8 1553.83M157.8 1463.65L159.6 1463.65M157.8 1553.83L172.5 1553.83M162.9 1560.12L162.9 1566.42M162.9 1560.12L172.5 1560.12M162.9 1566.42L172.5 1566.42M160.6 1563.27L160.6 1572.71M160.6 1563.27L162.9 1563.27M160.6 1572.71L172.5 1572.71M156.8 1508.74L156.8 1567.99M156.8 1508.74L157.8 1508.74M156.8 1567.99L160.6 1567.99M153.2 1427.95L153.2 1538.37M153.2 1427.95L172.5 1427.95M153.2 1538.37L156.8 1538.37M164.7 1579.01L164.7 1585.30M164.7 1579.01L172.5 1579.01M164.7 1585.30L172.5 1585.30M162.3 1582.15L162.3 1591.59M162.3 1582.15L164.7 1582.15M162.3 1591.59L172.5 1591.59M163.7 1597.89L163.7 1604.18M163.7 1597.89L172.5 1597.89M163.7 1604.18L172.5 1604.18M163.0 1601.04L163.0 1610.48M163.0 1601.04L163.7 1601.04M163.0 1610.48L172.5 1610.48M160.7 1586.87L160.7 1605.76M160.7 1586.87L162.3 1586.87M160.7 1605.76L163.0 1605.76M163.8 1616.77L163.8 1623.06M163.8 1616.77L172.5 1616.77M163.8 1623.06L172.5 1623.06M163.5 1619.92L163.5 1629.36M163.5 1619.92L163.8 1619.92M163.5 1629.36L172.5 1629.36M159.0 1596.32L159.0 1624.64M159.0 1596.32L160.7 1596.32M159.0 1624.64L163.5 1624.64M152.0 1483.16L152.0 1610.48M152.0 1483.16L153.2 1483.16M152.0 1610.48L159.0 1610.48M161.5 1635.65L161.5 1641.95M161.5 1635.65L172.5 1635.65M161.5 1641.95L172.5 1641.95M155.9 1638.80L155.9 1648.24M155.9 1638.80L161.5 1638.80M155.9 1648.24L172.5 1648.24M144.3 1546.82L144.3 1643.52M144.3 1546.82L152.0 1546.82M144.3 1643.52L155.9 1643.52M134.4 1066.03L134.4 1595.17M134.4 1066.03L139.0 1066.03M134.4 1595.17L144.3 1595.17M122.4 407.19L122.4 1330.60M122.4 407.19L131.3 407.19M122.4 1330.60L134.4 1330.60M148.0 1654.53L148.0 1660.83M148.0 1654.53L172.5 1654.53M148.0 1660.83L172.5 1660.83M141.0 1657.68L141.0 1667.12M141.0 1657.68L148.0 1657.68M141.0 1667.12L172.5 1667.12M132.0 1662.40L132.0 1673.42M132.0 1662.40L141.0 1662.40M132.0 1673.42L172.5 1673.42M142.0 1686.00L142.0 1692.30M142.0 1686.00L172.5 1686.00M142.0 1692.30L172.5 1692.30M130.4 1679.71L130.4 1689.15M130.4 1679.71L172.5 1679.71M130.4 1689.15L142.0 1689.15M120.5 1667.91L120.5 1684.43M120.5 1667.91L132.0 1667.91M120.5 1684.43L130.4 1684.43M95.7 868.90L95.7 1676.17M95.7 868.90L122.4 868.90M95.7 1676.17L120.5 1676.17M74.8 106.51L74.8 1272.53M74.8 106.51L114.0 106.51M74.8 1272.53L95.7 1272.53" stroke="#000" stroke-width="1.7" fill="none" stroke-linecap="square"/>
<text x="1589" y="82.80" font-size="26.5" font-style="italic" font-family='"Liberation Sans", Arial, Helvetica, sans-serif'>MMP2</text>
<text x="1589" y="112.16" font-size="26.5" font-style="italic" font-family='"Liberation Sans", Arial, Helvetica, sans-serif'>UBD</text>
<text x="1589" y="141.52" font-size="26.5" font-style="italic" font-family='"Liberation Sans", Arial, Helvetica, sans-serif'>PDLIM4</text>
<text x="1589" y="170.88" font-size="26.5" font-style="italic" font-family='"Liberation Sans", Arial, Helvetica, sans-serif'>UNC13C</text>
<text x="1589" y="200.24" font-size="26.5" font-style="italic" font-family='"Liberation Sans", Arial, Helvetica, sans-serif'>FGF2</text>
<text x="1589" y="229.60" font-size="26.5" font-style="italic" font-family='"Liberation Sans", Arial, Helvetica, sans-serif'>LZTS1</text>
<text x="1589" y="258.96" font-size="26.5" font-style="italic" font-family='"Liberation Sans", Arial, Helvetica, sans-serif'>DUOX2</text>
<text x="1589" y="288.32" font-size="26.5" font-style="italic" font-family='"Liberation Sans", Arial, Helvetica, sans-serif'>PANX2</text>
<text x="1589" y="317.68" font-size="26.5" font-style="italic" font-family='"Liberation Sans", Arial, Helvetica, sans-serif'>OCLN</text>
<text x="1589" y="347.04" font-size="26.5" font-style="italic" font-family='"Liberation Sans", Arial, Helvetica, sans-serif'>CLDN1</text>
<text x="1589" y="376.40" font-size="26.5" font-style="italic" font-family='"Liberation Sans", Arial, Helvetica, sans-serif'>ITGB6</text>
<text x="1589" y="405.76" font-size="26.5" font-style="italic" font-family='"Liberation Sans", Arial, Helvetica, sans-serif'>AXIN2</text>
<text x="1589" y="435.12" font-size="26.5" font-style="italic" font-family='"Liberation Sans", Arial, Helvetica, sans-serif'>CDH2</text>
<text x="1589" y="464.48" font-size="26.5" font-style="italic" font-family='"Liberation Sans", Arial, Helvetica, sans-serif'>TAMALIN</text>
<text x="1589" y="493.84" font-size="26.5" font-style="italic" font-family='"Liberation Sans", Arial, Helvetica, sans-serif'>TJP1</text>
<text x="1589" y="523.20" font-size="26.5" font-style="italic" font-family='"Liberation Sans", Arial, Helvetica, sans-serif'>WNT10A</text>
<text x="1589" y="552.56" font-size="26.5" font-style="italic" font-family='"Liberation Sans", Arial, Helvetica, sans-serif'>TCF7</text>
<text x="1589" y="581.92" font-size="26.5" font-style="italic" font-family='"Liberation Sans", Arial, Helvetica, sans-serif'>MYC</text>
<text x="1589" y="611.28" font-size="26.5" font-style="italic" font-family='"Liberation Sans", Arial, Helvetica, sans-serif'>KNG1</text>
<text x="1589" y="640.64" font-size="26.5" font-style="italic" font-family='"Liberation Sans", Arial, Helvetica, sans-serif'>CDH1</text>
<text x="1589" y="670.00" font-size="26.5" font-style="italic" font-family='"Liberation Sans", Arial, Helvetica, sans-serif'>S100A8</text>
<text x="1589" y="699.36" font-size="26.5" font-style="italic" font-family='"Liberation Sans", Arial, Helvetica, sans-serif'>OSM</text>
<text x="1589" y="728.72" font-size="26.5" font-style="italic" font-family='"Liberation Sans", Arial, Helvetica, sans-serif'>MMP9</text>
<text x="1589" y="758.08" font-size="26.5" font-style="italic" font-family='"Liberation Sans", Arial, Helvetica, sans-serif'>CXCL13</text>
<text x="1589" y="787.44" font-size="26.5" font-style="italic" font-family='"Liberation Sans", Arial, Helvetica, sans-serif'>CELA1</text>
<text x="1589" y="816.80" font-size="26.5" font-style="italic" font-family='"Liberation Sans", Arial, Helvetica, sans-serif'>HMCN1</text>
<text x="1589" y="846.16" font-size="26.5" font-style="italic" font-family='"Liberation Sans", Arial, Helvetica, sans-serif'>PTPRU</text>
<text x="1589" y="875.52" font-size="26.5" font-style="italic" font-family='"Liberation Sans", Arial, Helvetica, sans-serif'>TCF7L1</text>
<text x="1589" y="904.88" font-size="26.5" font-style="italic" font-family='"Liberation Sans", Arial, Helvetica, sans-serif'>HCAR3</text>
<text x="1589" y="934.24" font-size="26.5" font-style="italic" font-family='"Liberation Sans", Arial, Helvetica, sans-serif'>RIMS4</text>
<text x="1589" y="963.60" font-size="26.5" font-style="italic" font-family='"Liberation Sans", Arial, Helvetica, sans-serif'>SLC6A4</text>
<text x="1589" y="992.96" font-size="26.5" font-style="italic" font-family='"Liberation Sans", Arial, Helvetica, sans-serif'>TCF7L2</text>
<text x="1589" y="1110.40" font-size="26.5" font-style="italic" font-family='"Liberation Sans", Arial, Helvetica, sans-serif'>CEACAM1</text>
<text x="1589" y="1139.76" font-size="26.5" font-style="italic" font-family='"Liberation Sans", Arial, Helvetica, sans-serif'>DDN</text>
<text x="1589" y="1169.12" font-size="26.5" font-style="italic" font-family='"Liberation Sans", Arial, Helvetica, sans-serif'>WNT10B</text>
<text x="1589" y="1198.48" font-size="26.5" font-style="italic" font-family='"Liberation Sans", Arial, Helvetica, sans-serif'>PTGS2</text>
<text x="1589" y="1227.84" font-size="26.5" font-style="italic" font-family='"Liberation Sans", Arial, Helvetica, sans-serif'>WNT8B</text>
<text x="1589" y="1257.20" font-size="26.5" font-style="italic" font-family='"Liberation Sans", Arial, Helvetica, sans-serif'>MUC2</text>
<text x="1589" y="1315.92" font-size="26.5" font-style="italic" font-family='"Liberation Sans", Arial, Helvetica, sans-serif'>AFAP1L1</text>
<text x="1589" y="1374.64" font-size="26.5" font-style="italic" font-family='"Liberation Sans", Arial, Helvetica, sans-serif'>NOX1</text>
<text x="1589" y="1404.00" font-size="26.5" font-style="italic" font-family='"Liberation Sans", Arial, Helvetica, sans-serif'>CDH5</text>
<text x="1589" y="1433.36" font-size="26.5" font-style="italic" font-family='"Liberation Sans", Arial, Helvetica, sans-serif'>SOX7</text>
<text x="1589" y="1462.72" font-size="26.5" font-style="italic" font-family='"Liberation Sans", Arial, Helvetica, sans-serif'>EPB41L3</text>
<text x="1589" y="1492.08" font-size="26.5" font-style="italic" font-family='"Liberation Sans", Arial, Helvetica, sans-serif'>TSPAN1</text>
<text x="1589" y="1521.44" font-size="26.5" font-style="italic" font-family='"Liberation Sans", Arial, Helvetica, sans-serif'>MAP1B</text>
<text x="1589" y="1550.80" font-size="26.5" font-style="italic" font-family='"Liberation Sans", Arial, Helvetica, sans-serif'>GGT5</text>
<text x="1589" y="1580.16" font-size="26.5" font-style="italic" font-family='"Liberation Sans", Arial, Helvetica, sans-serif'>SYNM</text>
<text x="1589" y="1609.52" font-size="26.5" font-style="italic" font-family='"Liberation Sans", Arial, Helvetica, sans-serif'>S100A9</text>
<text x="1589" y="1638.88" font-size="26.5" font-style="italic" font-family='"Liberation Sans", Arial, Helvetica, sans-serif'>CXCR4</text>
<text x="1589" y="1668.24" font-size="26.5" font-style="italic" font-family='"Liberation Sans", Arial, Helvetica, sans-serif'>SLC16A9</text>
<text x="1589" y="1697.60" font-size="26.5" font-style="italic" font-family='"Liberation Sans", Arial, Helvetica, sans-serif'>IL33</text>
<path d="M1429.7 74.74L1479.5 74.74L1527.8 73.40L1577.6 73.40M1429.7 99.92L1479.5 99.92L1527.8 102.76L1577.6 102.76M1429.7 137.68L1479.5 137.68L1527.8 132.12L1577.6 132.12M1429.7 150.27L1479.5 150.27L1527.8 161.48L1577.6 161.48M1429.7 156.56L1479.5 156.56L1527.8 190.84L1577.6 190.84M1429.7 206.91L1479.5 206.91L1527.8 220.20L1577.6 220.20M1429.7 364.26L1479.5 364.26L1527.8 249.56L1577.6 249.56M1429.7 383.15L1479.5 383.15L1527.8 278.92L1577.6 278.92M1429.7 389.44L1479.5 389.44L1527.8 308.28L1577.6 308.28M1429.7 427.20L1479.5 427.20L1527.8 337.64L1577.6 337.64M1429.7 571.97L1479.5 571.97L1527.8 367.00L1577.6 367.00M1429.7 609.73L1479.5 609.73L1527.8 396.36L1577.6 396.36M1429.7 634.91L1479.5 634.91L1527.8 425.72L1577.6 425.72M1429.7 666.38L1479.5 666.38L1527.8 455.08L1577.6 455.08M1429.7 723.02L1479.5 723.02L1527.8 484.44L1577.6 484.44M1429.7 729.32L1479.5 729.32L1527.8 513.80L1577.6 513.80M1429.7 767.08L1479.5 767.08L1527.8 543.16L1577.6 543.16M1429.7 785.96L1479.5 785.96L1527.8 572.52L1577.6 572.52M1429.7 792.26L1479.5 792.26L1527.8 601.88L1577.6 601.88M1429.7 817.43L1479.5 817.43L1527.8 631.24L1577.6 631.24M1429.7 861.49L1479.5 861.49L1527.8 660.60L1577.6 660.60M1429.7 874.08L1479.5 874.08L1527.8 689.96L1577.6 689.96M1429.7 880.37L1479.5 880.37L1527.8 719.32L1577.6 719.32M1429.7 899.25L1479.5 899.25L1527.8 748.68L1577.6 748.68M1429.7 911.84L1479.5 911.84L1527.8 778.04L1577.6 778.04M1429.7 943.31L1479.5 943.31L1527.8 807.40L1577.6 807.40M1429.7 955.90L1479.5 955.90L1527.8 836.76L1577.6 836.76M1429.7 987.37L1479.5 987.37L1527.8 866.12L1577.6 866.12M1429.7 999.96L1479.5 999.96L1527.8 895.48L1577.6 895.48M1429.7 1006.25L1479.5 1006.25L1527.8 924.84L1577.6 924.84M1429.7 1018.84L1479.5 1018.84L1527.8 954.20L1577.6 954.20M1429.7 1050.31L1479.5 1050.31L1527.8 983.56L1577.6 983.56M1429.7 1220.25L1479.5 1220.25L1527.8 1101.00L1577.6 1101.00M1429.7 1232.84L1479.5 1232.84L1527.8 1130.36L1577.6 1130.36M1429.7 1270.60L1479.5 1270.60L1527.8 1159.72L1577.6 1159.72M1429.7 1289.48L1479.5 1289.48L1527.8 1189.08L1577.6 1189.08M1429.7 1308.36L1479.5 1308.36L1527.8 1218.44L1577.6 1218.44M1429.7 1327.25L1479.5 1327.25L1527.8 1247.80L1577.6 1247.80M1429.7 1346.13L1479.5 1346.13L1527.8 1306.52L1577.6 1306.52M1429.7 1365.01L1479.5 1365.01L1527.8 1365.24L1577.6 1365.24M1429.7 1371.30L1479.5 1371.30L1527.8 1394.60L1577.6 1394.60M1429.7 1377.60L1479.5 1377.60L1527.8 1423.96L1577.6 1423.96M1429.7 1383.89L1479.5 1383.89L1527.8 1453.32L1577.6 1453.32M1429.7 1390.19L1479.5 1390.19L1527.8 1482.68L1577.6 1482.68M1429.7 1396.48L1479.5 1396.48L1527.8 1512.04L1577.6 1512.04M1429.7 1409.07L1479.5 1409.07L1527.8 1541.40L1577.6 1541.40M1429.7 1503.48L1479.5 1503.48L1527.8 1570.76L1577.6 1570.76M1429.7 1560.12L1479.5 1560.12L1527.8 1600.12L1577.6 1600.12M1429.7 1566.42L1479.5 1566.42L1527.8 1629.48L1577.6 1629.48M1429.7 1616.77L1479.5 1616.77L1527.8 1658.84L1577.6 1658.84M1429.7 1635.65L1479.5 1635.65L1527.8 1688.20L1577.6 1688.20" stroke="#000" stroke-width="1.5" fill="none" stroke-linejoin="round"/>
<defs><linearGradient id="cb" x1="0" y1="0" x2="0" y2="1"><stop offset="0" stop-color="#b61e2d"/><stop offset="0.0338" stop-color="#b61e2d"/><stop offset="0.1500" stop-color="#cd5053"/><stop offset="0.2662" stop-color="#de7f7e"/><stop offset="0.3823" stop-color="#ecbeba"/><stop offset="0.4985" stop-color="#f7f7f7"/><stop offset="0.6147" stop-color="#c8d3e8"/><stop offset="0.7309" stop-color="#8ca2ce"/><stop offset="0.8471" stop-color="#5e82c0"/><stop offset="0.9633" stop-color="#3d6db2"/><stop offset="1" stop-color="#3d6db2"/></linearGradient></defs>
<rect x="1735.3" y="799.7" width="40.7" height="205.8" fill="url(#cb)"/>
<text x="1735.8" y="781" font-size="33.5" font-weight="bold" font-family='"Liberation Sans", Arial, Helvetica, sans-serif'>Z−score</text>
<path d="M1738 807.0H1747.6M1766 807.0H1776" stroke="#fff" stroke-width="2"/>
<text x="1786" y="818.7" font-size="32.5" font-family='"Liberation Sans", Arial, Helvetica, sans-serif'>1</text>
<path d="M1738 854.7H1747.6M1766 854.7H1776" stroke="#fff" stroke-width="2"/>
<text x="1786" y="866.4" font-size="32.5" font-family='"Liberation Sans", Arial, Helvetica, sans-serif'>0.5</text>
<path d="M1738 902.3H1747.6M1766 902.3H1776" stroke="#fff" stroke-width="2"/>
<text x="1786" y="914.0" font-size="32.5" font-family='"Liberation Sans", Arial, Helvetica, sans-serif'>0</text>
<path d="M1738 950.0H1747.6M1766 950.0H1776" stroke="#fff" stroke-width="2"/>
<text x="1786" y="961.7" font-size="32.5" font-family='"Liberation Sans", Arial, Helvetica, sans-serif'>−0.5</text>
<path d="M1738 998.3H1747.6M1766 998.3H1776" stroke="#fff" stroke-width="2"/>
<text x="1786" y="1010.0" font-size="32.5" font-family='"Liberation Sans", Arial, Helvetica, sans-serif'>−1</text>
<text x="0" y="1807.5" font-size="60" font-weight="bold" font-family='"Liberation Sans", Arial, Helvetica, sans-serif'>b</text>
<defs><clipPath id="clip1782"><rect x="182.3" y="1783.5" width="1242.7" height="407.1"/></clipPath></defs>
<rect x="1425.6" y="1782.5" width="89.2" height="387.1" fill="#d9d9d9" stroke="#222" stroke-width="2"/>
<text x="0" y="0" font-size="34.7" text-anchor="middle" font-family='"Liberation Sans", Arial, Helvetica, sans-serif' transform="translate(1460.4 1976.5) rotate(90)">Barrier function</text>
<path d="M173 2169.6H182.3" stroke="#222" stroke-width="3"/>
<text x="165" y="2184.6" font-size="42" text-anchor="end" font-family='"Liberation Sans", Arial, Helvetica, sans-serif'>0.0</text>
<path d="M173 2084.3H182.3" stroke="#222" stroke-width="3"/>
<text x="165" y="2099.3" font-size="42" text-anchor="end" font-family='"Liberation Sans", Arial, Helvetica, sans-serif'>0.5</text>
<path d="M173 1999.0H182.3" stroke="#222" stroke-width="3"/>
<text x="165" y="2014.0" font-size="42" text-anchor="end" font-family='"Liberation Sans", Arial, Helvetica, sans-serif'>1.0</text>
<path d="M173 1913.7H182.3" stroke="#222" stroke-width="3"/>
<text x="165" y="1928.7" font-size="42" text-anchor="end" font-family='"Liberation Sans", Arial, Helvetica, sans-serif'>1.5</text>
<path d="M173 1828.4H182.3" stroke="#222" stroke-width="3"/>
<text x="165" y="1843.4" font-size="42" text-anchor="end" font-family='"Liberation Sans", Arial, Helvetica, sans-serif'>2.0</text>
<g clip-path="url(#clip1782)">
<rect x="234.1" y="2000.7" width="55.8" height="165.5" fill="#dfe1e2" stroke="#555555" stroke-width="6.8"/>
<rect x="297.8" y="1905.2" width="55.8" height="261.0" fill="#b5dcd5" stroke="#2e7d6a" stroke-width="6.8"/>
<rect x="361.5" y="1906.4" width="55.8" height="259.8" fill="#f0e3ae" stroke="#d0562a" stroke-width="6.8"/>
<circle cx="262.0" cy="1974.4" r="11.0" fill="#9ba2a7" fill-opacity="0.4" stroke="#555555" stroke-width="2.4"/>
<circle cx="262.0" cy="1982.3" r="11.0" fill="#9ba2a7" fill-opacity="0.4" stroke="#555555" stroke-width="2.4"/>
<circle cx="262.0" cy="2018.3" r="11.0" fill="#9ba2a7" fill-opacity="0.4" stroke="#555555" stroke-width="2.4"/>
<path d="M246.2 1989.8H277.7M246.2 2016.1H277.7M262.0 1989.8V2016.1" stroke="#555555" stroke-width="6.8" fill="none"/>
<circle cx="325.7" cy="1895.4" r="11.0" fill="#50ac9b" fill-opacity="0.4" stroke="#2e7d6a" stroke-width="2.4"/>
<circle cx="325.7" cy="1900.1" r="11.0" fill="#50ac9b" fill-opacity="0.4" stroke="#2e7d6a" stroke-width="2.4"/>
<circle cx="325.7" cy="1926.2" r="11.0" fill="#50ac9b" fill-opacity="0.4" stroke="#2e7d6a" stroke-width="2.4"/>
<path d="M309.9 1895.4H341.5M309.9 1917.5H341.5M325.7 1895.4V1917.5" stroke="#2e7d6a" stroke-width="6.8" fill="none"/>
<circle cx="389.4" cy="1869.2" r="11.0" fill="#e1c55c" fill-opacity="0.4" stroke="#d0562a" stroke-width="2.4"/>
<circle cx="389.4" cy="1904.1" r="11.0" fill="#e1c55c" fill-opacity="0.4" stroke="#d0562a" stroke-width="2.4"/>
<circle cx="389.4" cy="1932.6" r="11.0" fill="#e1c55c" fill-opacity="0.4" stroke="#d0562a" stroke-width="2.4"/>
<path d="M373.6 1887.4H405.2M373.6 1928.4H405.2M389.4 1887.4V1928.4" stroke="#d0562a" stroke-width="6.8" fill="none"/>
<path d="M262.0 1852.7V1845.7H325.7V1852.7" stroke="#000" stroke-width="2.3" fill="none"/>
<path d="M262.0 1818.1V1811.1H389.4V1818.1" stroke="#000" stroke-width="2.3" fill="none"/>
<text x="293.8" y="1842.5" font-size="37.5" text-anchor="middle" font-family='"Liberation Sans", Arial, Helvetica, sans-serif'><tspan font-style="italic">p</tspan> = 0.01</text>
<text x="325.7" y="1807.9" font-size="37.5" text-anchor="middle" font-family='"Liberation Sans", Arial, Helvetica, sans-serif'><tspan font-style="italic">p</tspan> = 0.011</text>
<rect x="473.1" y="2009.6" width="55.8" height="156.6" fill="#dfe1e2" stroke="#555555" stroke-width="6.8"/>
<rect x="536.8" y="1931.8" width="55.8" height="234.4" fill="#b5dcd5" stroke="#2e7d6a" stroke-width="6.8"/>
<rect x="600.5" y="1956.9" width="55.8" height="209.3" fill="#f0e3ae" stroke="#d0562a" stroke-width="6.8"/>
<circle cx="500.9" cy="1996.3" r="11.0" fill="#9ba2a7" fill-opacity="0.4" stroke="#555555" stroke-width="2.4"/>
<circle cx="500.9" cy="2010.9" r="11.0" fill="#9ba2a7" fill-opacity="0.4" stroke="#555555" stroke-width="2.4"/>
<circle cx="500.9" cy="2022.5" r="11.0" fill="#9ba2a7" fill-opacity="0.4" stroke="#555555" stroke-width="2.4"/>
<path d="M485.2 2005.0H516.7M485.2 2015.2H516.7M500.9 2005.0V2015.2" stroke="#555555" stroke-width="6.8" fill="none"/>
<circle cx="564.7" cy="1908.6" r="11.0" fill="#50ac9b" fill-opacity="0.4" stroke="#2e7d6a" stroke-width="2.4"/>
<circle cx="564.7" cy="1923.9" r="11.0" fill="#50ac9b" fill-opacity="0.4" stroke="#2e7d6a" stroke-width="2.4"/>
<circle cx="564.7" cy="1974.4" r="11.0" fill="#50ac9b" fill-opacity="0.4" stroke="#2e7d6a" stroke-width="2.4"/>
<path d="M548.9 1906.4H580.4M548.9 1960.4H580.4M564.7 1906.4V1960.4" stroke="#2e7d6a" stroke-width="6.8" fill="none"/>
<circle cx="628.4" cy="1923.9" r="11.0" fill="#e1c55c" fill-opacity="0.4" stroke="#d0562a" stroke-width="2.4"/>
<circle cx="628.4" cy="1954.6" r="11.0" fill="#e1c55c" fill-opacity="0.4" stroke="#d0562a" stroke-width="2.4"/>
<circle cx="628.4" cy="1987.6" r="11.0" fill="#e1c55c" fill-opacity="0.4" stroke="#d0562a" stroke-width="2.4"/>
<path d="M612.6 1942.9H644.2M612.6 1973.6H644.2M628.4 1942.9V1973.6" stroke="#d0562a" stroke-width="6.8" fill="none"/>
<path d="M500.9 1880.3V1873.3H564.7V1880.3" stroke="#000" stroke-width="2.3" fill="none"/>
<path d="M500.9 1845.3V1838.3H628.4V1845.3" stroke="#000" stroke-width="2.3" fill="none"/>
<text x="532.8" y="1870.1" font-size="37.5" text-anchor="middle" font-family='"Liberation Sans", Arial, Helvetica, sans-serif'><tspan font-style="italic">p</tspan> = 0.053</text>
<text x="564.7" y="1835.1" font-size="37.5" text-anchor="middle" font-family='"Liberation Sans", Arial, Helvetica, sans-serif'><tspan font-style="italic">p</tspan> = 0.184</text>
<rect x="712.0" y="1999.0" width="55.8" height="167.2" fill="#dfe1e2" stroke="#555555" stroke-width="6.8"/>
<rect x="775.8" y="1920.0" width="55.8" height="246.2" fill="#b5dcd5" stroke="#2e7d6a" stroke-width="6.8"/>
<rect x="839.5" y="1928.5" width="55.8" height="237.7" fill="#f0e3ae" stroke="#d0562a" stroke-width="6.8"/>
<circle cx="739.9" cy="1977.3" r="11.0" fill="#9ba2a7" fill-opacity="0.4" stroke="#555555" stroke-width="2.4"/>
<circle cx="739.9" cy="2005.0" r="11.0" fill="#9ba2a7" fill-opacity="0.4" stroke="#555555" stroke-width="2.4"/>
<circle cx="739.9" cy="2040.5" r="11.0" fill="#9ba2a7" fill-opacity="0.4" stroke="#555555" stroke-width="2.4"/>
<path d="M724.1 1982.6H755.7M724.1 2016.2H755.7M739.9 1982.6V2016.2" stroke="#555555" stroke-width="6.8" fill="none"/>
<circle cx="803.7" cy="1905.0" r="11.0" fill="#50ac9b" fill-opacity="0.4" stroke="#2e7d6a" stroke-width="2.4"/>
<circle cx="803.7" cy="1908.6" r="11.0" fill="#50ac9b" fill-opacity="0.4" stroke="#2e7d6a" stroke-width="2.4"/>
<circle cx="803.7" cy="1932.6" r="11.0" fill="#50ac9b" fill-opacity="0.4" stroke="#2e7d6a" stroke-width="2.4"/>
<path d="M787.9 1915.6H819.4M787.9 1922.7H819.4M803.7 1915.6V1922.7" stroke="#2e7d6a" stroke-width="6.8" fill="none"/>
<circle cx="867.4" cy="1897.2" r="11.0" fill="#e1c55c" fill-opacity="0.4" stroke="#d0562a" stroke-width="2.4"/>
<circle cx="867.4" cy="1928.7" r="11.0" fill="#e1c55c" fill-opacity="0.4" stroke="#d0562a" stroke-width="2.4"/>
<circle cx="867.4" cy="1947.0" r="11.0" fill="#e1c55c" fill-opacity="0.4" stroke="#d0562a" stroke-width="2.4"/>
<path d="M851.6 1909.3H883.2M851.6 1947.1H883.2M867.4 1909.3V1947.1" stroke="#d0562a" stroke-width="6.8" fill="none"/>
<path d="M739.9 1878.3V1871.3H803.7V1878.3" stroke="#000" stroke-width="2.3" fill="none"/>
<path d="M739.9 1843.1V1836.1H867.4V1843.1" stroke="#000" stroke-width="2.3" fill="none"/>
<text x="771.8" y="1868.1" font-size="37.5" text-anchor="middle" font-family='"Liberation Sans", Arial, Helvetica, sans-serif'><tspan font-style="italic">p</tspan> = 0.021</text>
<text x="803.7" y="1832.9" font-size="37.5" text-anchor="middle" font-family='"Liberation Sans", Arial, Helvetica, sans-serif'><tspan font-style="italic">p</tspan> = 0.034</text>
<rect x="951.0" y="1997.8" width="55.8" height="168.4" fill="#dfe1e2" stroke="#555555" stroke-width="6.8"/>
<rect x="1014.7" y="1916.1" width="55.8" height="250.1" fill="#b5dcd5" stroke="#2e7d6a" stroke-width="6.8"/>
<rect x="1078.5" y="1924.6" width="55.8" height="241.6" fill="#f0e3ae" stroke="#d0562a" stroke-width="6.8"/>
<circle cx="978.9" cy="1989.3" r="11.0" fill="#9ba2a7" fill-opacity="0.4" stroke="#555555" stroke-width="2.4"/>
<circle cx="978.9" cy="2001.2" r="11.0" fill="#9ba2a7" fill-opacity="0.4" stroke="#555555" stroke-width="2.4"/>
<circle cx="978.9" cy="2021.9" r="11.0" fill="#9ba2a7" fill-opacity="0.4" stroke="#555555" stroke-width="2.4"/>
<path d="M963.1 1994.4H994.7M963.1 2008.0H994.7M978.9 1994.4V2008.0" stroke="#555555" stroke-width="6.8" fill="none"/>
<circle cx="1042.6" cy="1882.3" r="11.0" fill="#50ac9b" fill-opacity="0.4" stroke="#2e7d6a" stroke-width="2.4"/>
<circle cx="1042.6" cy="1920.2" r="11.0" fill="#50ac9b" fill-opacity="0.4" stroke="#2e7d6a" stroke-width="2.4"/>
<circle cx="1042.6" cy="1946.1" r="11.0" fill="#50ac9b" fill-opacity="0.4" stroke="#2e7d6a" stroke-width="2.4"/>
<path d="M1026.9 1896.1H1058.4M1026.9 1936.4H1058.4M1042.6 1896.1V1936.4" stroke="#2e7d6a" stroke-width="6.8" fill="none"/>
<circle cx="1106.4" cy="1899.5" r="11.0" fill="#e1c55c" fill-opacity="0.4" stroke="#d0562a" stroke-width="2.4"/>
<circle cx="1106.4" cy="1934.0" r="11.0" fill="#e1c55c" fill-opacity="0.4" stroke="#d0562a" stroke-width="2.4"/>
<circle cx="1106.4" cy="1935.9" r="11.0" fill="#e1c55c" fill-opacity="0.4" stroke="#d0562a" stroke-width="2.4"/>
<path d="M1090.6 1909.9H1122.1M1090.6 1939.3H1122.1M1106.4 1909.9V1939.3" stroke="#d0562a" stroke-width="6.8" fill="none"/>
<path d="M978.9 1861.0V1854.0H1042.6V1861.0" stroke="#000" stroke-width="2.3" fill="none"/>
<path d="M978.9 1826.6V1819.6H1106.4V1826.6" stroke="#000" stroke-width="2.3" fill="none"/>
<text x="1010.8" y="1850.8" font-size="37.5" text-anchor="middle" font-family='"Liberation Sans", Arial, Helvetica, sans-serif'><tspan font-style="italic">p</tspan> = 0.017</text>
<text x="1042.6" y="1816.4" font-size="37.5" text-anchor="middle" font-family='"Liberation Sans", Arial, Helvetica, sans-serif'><tspan font-style="italic">p</tspan> = 0.027</text>
<rect x="1190.0" y="1998.7" width="55.8" height="167.5" fill="#dfe1e2" stroke="#555555" stroke-width="6.8"/>
<rect x="1253.7" y="1990.6" width="55.8" height="175.6" fill="#b5dcd5" stroke="#2e7d6a" stroke-width="6.8"/>
<rect x="1317.5" y="2001.0" width="55.8" height="165.2" fill="#f0e3ae" stroke="#d0562a" stroke-width="6.8"/>
<circle cx="1217.9" cy="1989.8" r="11.0" fill="#9ba2a7" fill-opacity="0.4" stroke="#555555" stroke-width="2.4"/>
<circle cx="1217.9" cy="1999.0" r="11.0" fill="#9ba2a7" fill-opacity="0.4" stroke="#555555" stroke-width="2.4"/>
<circle cx="1217.9" cy="2005.5" r="11.0" fill="#9ba2a7" fill-opacity="0.4" stroke="#555555" stroke-width="2.4"/>
<path d="M1202.1 1989.8H1233.7M1202.1 2007.7H1233.7M1217.9 1989.8V2007.7" stroke="#555555" stroke-width="6.8" fill="none"/>
<circle cx="1281.6" cy="1956.0" r="11.0" fill="#50ac9b" fill-opacity="0.4" stroke="#2e7d6a" stroke-width="2.4"/>
<circle cx="1281.6" cy="1983.0" r="11.0" fill="#50ac9b" fill-opacity="0.4" stroke="#2e7d6a" stroke-width="2.4"/>
<circle cx="1281.6" cy="2016.7" r="11.0" fill="#50ac9b" fill-opacity="0.4" stroke="#2e7d6a" stroke-width="2.4"/>
<path d="M1265.8 1970.9H1297.4M1265.8 2011.5H1297.4M1281.6 1970.9V2011.5" stroke="#2e7d6a" stroke-width="6.8" fill="none"/>
<circle cx="1345.3" cy="1967.3" r="11.0" fill="#e1c55c" fill-opacity="0.4" stroke="#d0562a" stroke-width="2.4"/>
<circle cx="1345.3" cy="1983.0" r="11.0" fill="#e1c55c" fill-opacity="0.4" stroke="#d0562a" stroke-width="2.4"/>
<circle cx="1345.3" cy="2052.7" r="11.0" fill="#e1c55c" fill-opacity="0.4" stroke="#d0562a" stroke-width="2.4"/>
<path d="M1329.6 1980.7H1361.1M1329.6 2020.3H1361.1M1345.3 1980.7V2020.3" stroke="#d0562a" stroke-width="6.8" fill="none"/>
<path d="M1217.9 1938.2V1931.2H1281.6V1938.2" stroke="#000" stroke-width="2.3" fill="none"/>
<path d="M1217.9 1902.1V1895.1H1345.3V1902.1" stroke="#000" stroke-width="2.3" fill="none"/>
<text x="1249.7" y="1928.0" font-size="37.5" text-anchor="middle" font-family='"Liberation Sans", Arial, Helvetica, sans-serif'><tspan font-style="italic">p</tspan> = 0.938</text>
<text x="1281.6" y="1891.9" font-size="37.5" text-anchor="middle" font-family='"Liberation Sans", Arial, Helvetica, sans-serif'><tspan font-style="italic">p</tspan> = 0.998</text>
</g>
<path d="M325.7 2169.6V2178.6" stroke="#222" stroke-width="3"/>
<text x="325.7" y="2231.0" font-size="48" font-style="italic" text-anchor="middle" font-family='"Liberation Sans", Arial, Helvetica, sans-serif'>CLDN1</text>
<path d="M564.7 2169.6V2178.6" stroke="#222" stroke-width="3"/>
<text x="564.7" y="2231.0" font-size="48" font-style="italic" text-anchor="middle" font-family='"Liberation Sans", Arial, Helvetica, sans-serif'>TJP1</text>
<path d="M803.7 2169.6V2178.6" stroke="#222" stroke-width="3"/>
<text x="803.7" y="2231.0" font-size="48" font-style="italic" text-anchor="middle" font-family='"Liberation Sans", Arial, Helvetica, sans-serif'>OCLN</text>
<path d="M1042.6 2169.6V2178.6" stroke="#222" stroke-width="3"/>
<text x="1042.6" y="2231.0" font-size="48" font-style="italic" text-anchor="middle" font-family='"Liberation Sans", Arial, Helvetica, sans-serif'>CDH1</text>
<path d="M1281.6 2169.6V2178.6" stroke="#222" stroke-width="3"/>
<text x="1281.6" y="2231.0" font-size="48" font-style="italic" text-anchor="middle" font-family='"Liberation Sans", Arial, Helvetica, sans-serif'>MUC2</text>
<rect x="182.3" y="1782.5" width="1242.7" height="387.1" fill="none" stroke="#222" stroke-width="2"/>
<defs><clipPath id="clip2265"><rect x="182.3" y="2266.5" width="1242.7" height="406.9"/></clipPath></defs>
<rect x="1425.6" y="2265.5" width="89.2" height="386.9" fill="#d9d9d9" stroke="#222" stroke-width="2"/>
<text x="0" y="0" font-size="34.7" text-anchor="middle" font-family='"Liberation Sans", Arial, Helvetica, sans-serif' transform="translate(1460.4 2459.4) rotate(90)">Wnt signalling pathway</text>
<path d="M173 2652.4H182.3" stroke="#222" stroke-width="3"/>
<text x="165" y="2667.4" font-size="42" text-anchor="end" font-family='"Liberation Sans", Arial, Helvetica, sans-serif'>0.0</text>
<path d="M173 2580.0H182.3" stroke="#222" stroke-width="3"/>
<text x="165" y="2595.0" font-size="42" text-anchor="end" font-family='"Liberation Sans", Arial, Helvetica, sans-serif'>0.5</text>
<path d="M173 2507.6H182.3" stroke="#222" stroke-width="3"/>
<text x="165" y="2522.6" font-size="42" text-anchor="end" font-family='"Liberation Sans", Arial, Helvetica, sans-serif'>1.0</text>
<path d="M173 2435.2H182.3" stroke="#222" stroke-width="3"/>
<text x="165" y="2450.2" font-size="42" text-anchor="end" font-family='"Liberation Sans", Arial, Helvetica, sans-serif'>1.5</text>
<path d="M173 2362.8H182.3" stroke="#222" stroke-width="3"/>
<text x="165" y="2377.8" font-size="42" text-anchor="end" font-family='"Liberation Sans", Arial, Helvetica, sans-serif'>2.0</text>
<path d="M173 2290.4H182.3" stroke="#222" stroke-width="3"/>
<text x="165" y="2305.4" font-size="42" text-anchor="end" font-family='"Liberation Sans", Arial, Helvetica, sans-serif'>2.5</text>
<g clip-path="url(#clip2265)">
<rect x="225.7" y="2505.0" width="46.8" height="144.0" fill="#dfe1e2" stroke="#555555" stroke-width="6.8"/>
<rect x="279.2" y="2418.4" width="46.8" height="230.6" fill="#b5dcd5" stroke="#2e7d6a" stroke-width="6.8"/>
<rect x="332.6" y="2409.6" width="46.8" height="239.4" fill="#f0e3ae" stroke="#d0562a" stroke-width="6.8"/>
<circle cx="249.1" cy="2486.5" r="11.0" fill="#9ba2a7" fill-opacity="0.4" stroke="#555555" stroke-width="2.4"/>
<circle cx="249.1" cy="2494.6" r="11.0" fill="#9ba2a7" fill-opacity="0.4" stroke="#555555" stroke-width="2.4"/>
<circle cx="249.1" cy="2501.8" r="11.0" fill="#9ba2a7" fill-opacity="0.4" stroke="#555555" stroke-width="2.4"/>
<path d="M235.9 2501.8H262.3M235.9 2510.6H262.3M249.1 2501.8V2510.6" stroke="#555555" stroke-width="6.8" fill="none"/>
<circle cx="302.6" cy="2400.3" r="11.0" fill="#50ac9b" fill-opacity="0.4" stroke="#2e7d6a" stroke-width="2.4"/>
<circle cx="302.6" cy="2414.2" r="11.0" fill="#50ac9b" fill-opacity="0.4" stroke="#2e7d6a" stroke-width="2.4"/>
<circle cx="302.6" cy="2447.7" r="11.0" fill="#50ac9b" fill-opacity="0.4" stroke="#2e7d6a" stroke-width="2.4"/>
<path d="M289.3 2407.7H315.8M289.3 2430.4H315.8M302.6 2407.7V2430.4" stroke="#2e7d6a" stroke-width="6.8" fill="none"/>
<circle cx="356.0" cy="2368.3" r="11.0" fill="#e1c55c" fill-opacity="0.4" stroke="#d0562a" stroke-width="2.4"/>
<circle cx="356.0" cy="2398.3" r="11.0" fill="#e1c55c" fill-opacity="0.4" stroke="#d0562a" stroke-width="2.4"/>
<circle cx="356.0" cy="2448.5" r="11.0" fill="#e1c55c" fill-opacity="0.4" stroke="#d0562a" stroke-width="2.4"/>
<path d="M342.8 2390.3H369.2M342.8 2430.4H369.2M356.0 2390.3V2430.4" stroke="#d0562a" stroke-width="6.8" fill="none"/>
<path d="M249.1 2369.2V2362.2H302.6V2369.2" stroke="#000" stroke-width="2.3" fill="none"/>
<path d="M249.1 2339.2V2332.2H356.0V2339.2" stroke="#000" stroke-width="2.3" fill="none"/>
<text x="275.8" y="2359.0" font-size="37.5" text-anchor="middle" font-family='"Liberation Sans", Arial, Helvetica, sans-serif'><tspan font-style="italic">p</tspan> = 0.01</text>
<text x="302.6" y="2329.0" font-size="37.5" text-anchor="middle" font-family='"Liberation Sans", Arial, Helvetica, sans-serif'><tspan font-style="italic">p</tspan> = 0.006</text>
<rect x="426.2" y="2506.6" width="46.8" height="142.4" fill="#dfe1e2" stroke="#555555" stroke-width="6.8"/>
<rect x="479.6" y="2492.5" width="46.8" height="156.5" fill="#b5dcd5" stroke="#2e7d6a" stroke-width="6.8"/>
<rect x="533.1" y="2504.6" width="46.8" height="144.4" fill="#f0e3ae" stroke="#d0562a" stroke-width="6.8"/>
<circle cx="449.5" cy="2466.5" r="11.0" fill="#9ba2a7" fill-opacity="0.4" stroke="#555555" stroke-width="2.4"/>
<circle cx="449.5" cy="2507.6" r="11.0" fill="#9ba2a7" fill-opacity="0.4" stroke="#555555" stroke-width="2.4"/>
<circle cx="449.5" cy="2542.6" r="11.0" fill="#9ba2a7" fill-opacity="0.4" stroke="#555555" stroke-width="2.4"/>
<path d="M436.3 2486.5H462.8M436.3 2529.3H462.8M449.5 2486.5V2529.3" stroke="#555555" stroke-width="6.8" fill="none"/>
<circle cx="503.0" cy="2476.5" r="11.0" fill="#50ac9b" fill-opacity="0.4" stroke="#2e7d6a" stroke-width="2.4"/>
<circle cx="503.0" cy="2483.0" r="11.0" fill="#50ac9b" fill-opacity="0.4" stroke="#2e7d6a" stroke-width="2.4"/>
<circle cx="503.0" cy="2522.7" r="11.0" fill="#50ac9b" fill-opacity="0.4" stroke="#2e7d6a" stroke-width="2.4"/>
<path d="M489.8 2482.5H516.2M489.8 2512.7H516.2M503.0 2482.5V2512.7" stroke="#2e7d6a" stroke-width="6.8" fill="none"/>
<circle cx="556.4" cy="2479.7" r="11.0" fill="#e1c55c" fill-opacity="0.4" stroke="#d0562a" stroke-width="2.4"/>
<circle cx="556.4" cy="2507.6" r="11.0" fill="#e1c55c" fill-opacity="0.4" stroke="#d0562a" stroke-width="2.4"/>
<circle cx="556.4" cy="2520.6" r="11.0" fill="#e1c55c" fill-opacity="0.4" stroke="#d0562a" stroke-width="2.4"/>
<path d="M543.2 2491.8H569.7M543.2 2512.7H569.7M556.4 2491.8V2512.7" stroke="#d0562a" stroke-width="6.8" fill="none"/>
<path d="M449.5 2452.2V2445.2H503.0V2452.2" stroke="#000" stroke-width="2.3" fill="none"/>
<path d="M449.5 2422.6V2415.6H556.4V2422.6" stroke="#000" stroke-width="2.3" fill="none"/>
<text x="476.3" y="2442.0" font-size="37.5" text-anchor="middle" font-family='"Liberation Sans", Arial, Helvetica, sans-serif'><tspan font-style="italic">p</tspan> = 0.842</text>
<text x="503.0" y="2412.4" font-size="37.5" text-anchor="middle" font-family='"Liberation Sans", Arial, Helvetica, sans-serif'><tspan font-style="italic">p</tspan> = 0.996</text>
<rect x="626.6" y="2506.6" width="46.8" height="142.4" fill="#dfe1e2" stroke="#555555" stroke-width="6.8"/>
<rect x="680.0" y="2506.6" width="46.8" height="142.4" fill="#b5dcd5" stroke="#2e7d6a" stroke-width="6.8"/>
<rect x="733.5" y="2500.6" width="46.8" height="148.4" fill="#f0e3ae" stroke="#d0562a" stroke-width="6.8"/>
<circle cx="650.0" cy="2490.5" r="11.0" fill="#9ba2a7" fill-opacity="0.4" stroke="#555555" stroke-width="2.4"/>
<circle cx="650.0" cy="2516.6" r="11.0" fill="#9ba2a7" fill-opacity="0.4" stroke="#555555" stroke-width="2.4"/>
<circle cx="650.0" cy="2526.6" r="11.0" fill="#9ba2a7" fill-opacity="0.4" stroke="#555555" stroke-width="2.4"/>
<path d="M636.8 2492.5H663.2M636.8 2520.6H663.2M650.0 2492.5V2520.6" stroke="#555555" stroke-width="6.8" fill="none"/>
<circle cx="703.4" cy="2480.5" r="11.0" fill="#50ac9b" fill-opacity="0.4" stroke="#2e7d6a" stroke-width="2.4"/>
<circle cx="703.4" cy="2492.5" r="11.0" fill="#50ac9b" fill-opacity="0.4" stroke="#2e7d6a" stroke-width="2.4"/>
<circle cx="703.4" cy="2528.6" r="11.0" fill="#50ac9b" fill-opacity="0.4" stroke="#2e7d6a" stroke-width="2.4"/>
<path d="M690.2 2496.6H716.7M690.2 2516.6H716.7M703.4 2496.6V2516.6" stroke="#2e7d6a" stroke-width="6.8" fill="none"/>
<circle cx="756.9" cy="2479.7" r="11.0" fill="#e1c55c" fill-opacity="0.4" stroke="#d0562a" stroke-width="2.4"/>
<circle cx="756.9" cy="2501.8" r="11.0" fill="#e1c55c" fill-opacity="0.4" stroke="#d0562a" stroke-width="2.4"/>
<circle cx="756.9" cy="2516.6" r="11.0" fill="#e1c55c" fill-opacity="0.4" stroke="#d0562a" stroke-width="2.4"/>
<path d="M743.7 2490.5H770.1M743.7 2511.8H770.1M756.9 2490.5V2511.8" stroke="#d0562a" stroke-width="6.8" fill="none"/>
<path d="M650.0 2467.5V2460.5H703.4V2467.5" stroke="#000" stroke-width="2.3" fill="none"/>
<path d="M650.0 2438.6V2431.6H756.9V2438.6" stroke="#000" stroke-width="2.3" fill="none"/>
<text x="676.7" y="2457.3" font-size="37.5" text-anchor="middle" font-family='"Liberation Sans", Arial, Helvetica, sans-serif'><tspan font-style="italic">p</tspan> = 1</text>
<text x="703.4" y="2428.4" font-size="37.5" text-anchor="middle" font-family='"Liberation Sans", Arial, Helvetica, sans-serif'><tspan font-style="italic">p</tspan> = 0.943</text>
<rect x="827.0" y="2506.6" width="46.8" height="142.4" fill="#dfe1e2" stroke="#555555" stroke-width="6.8"/>
<rect x="880.5" y="2480.5" width="46.8" height="168.5" fill="#b5dcd5" stroke="#2e7d6a" stroke-width="6.8"/>
<rect x="933.9" y="2493.8" width="46.8" height="155.2" fill="#f0e3ae" stroke="#d0562a" stroke-width="6.8"/>
<circle cx="850.4" cy="2486.5" r="11.0" fill="#9ba2a7" fill-opacity="0.4" stroke="#555555" stroke-width="2.4"/>
<circle cx="850.4" cy="2507.6" r="11.0" fill="#9ba2a7" fill-opacity="0.4" stroke="#555555" stroke-width="2.4"/>
<circle cx="850.4" cy="2534.0" r="11.0" fill="#9ba2a7" fill-opacity="0.4" stroke="#555555" stroke-width="2.4"/>
<path d="M837.2 2496.6H863.6M837.2 2519.8H863.6M850.4 2496.6V2519.8" stroke="#555555" stroke-width="6.8" fill="none"/>
<circle cx="903.9" cy="2450.5" r="11.0" fill="#50ac9b" fill-opacity="0.4" stroke="#2e7d6a" stroke-width="2.4"/>
<circle cx="903.9" cy="2478.6" r="11.0" fill="#50ac9b" fill-opacity="0.4" stroke="#2e7d6a" stroke-width="2.4"/>
<circle cx="903.9" cy="2500.6" r="11.0" fill="#50ac9b" fill-opacity="0.4" stroke="#2e7d6a" stroke-width="2.4"/>
<path d="M890.6 2467.6H917.1M890.6 2494.6H917.1M903.9 2467.6V2494.6" stroke="#2e7d6a" stroke-width="6.8" fill="none"/>
<circle cx="957.3" cy="2479.7" r="11.0" fill="#e1c55c" fill-opacity="0.4" stroke="#d0562a" stroke-width="2.4"/>
<circle cx="957.3" cy="2494.6" r="11.0" fill="#e1c55c" fill-opacity="0.4" stroke="#d0562a" stroke-width="2.4"/>
<circle cx="957.3" cy="2506.6" r="11.0" fill="#e1c55c" fill-opacity="0.4" stroke="#d0562a" stroke-width="2.4"/>
<path d="M944.1 2480.5H970.5M944.1 2503.8H970.5M957.3 2480.5V2503.8" stroke="#d0562a" stroke-width="6.8" fill="none"/>
<path d="M850.4 2447.4V2440.4H903.9V2447.4" stroke="#000" stroke-width="2.3" fill="none"/>
<path d="M850.4 2417.4V2410.4H957.3V2417.4" stroke="#000" stroke-width="2.3" fill="none"/>
<text x="877.1" y="2437.2" font-size="37.5" text-anchor="middle" font-family='"Liberation Sans", Arial, Helvetica, sans-serif'><tspan font-style="italic">p</tspan> = 0.374</text>
<text x="903.9" y="2407.2" font-size="37.5" text-anchor="middle" font-family='"Liberation Sans", Arial, Helvetica, sans-serif'><tspan font-style="italic">p</tspan> = 0.774</text>
<rect x="1027.5" y="2506.6" width="46.8" height="142.4" fill="#dfe1e2" stroke="#555555" stroke-width="6.8"/>
<rect x="1080.9" y="2426.4" width="46.8" height="222.6" fill="#b5dcd5" stroke="#2e7d6a" stroke-width="6.8"/>
<rect x="1134.4" y="2430.4" width="46.8" height="218.6" fill="#f0e3ae" stroke="#d0562a" stroke-width="6.8"/>
<circle cx="1050.9" cy="2496.6" r="11.0" fill="#9ba2a7" fill-opacity="0.4" stroke="#555555" stroke-width="2.4"/>
<circle cx="1050.9" cy="2511.9" r="11.0" fill="#9ba2a7" fill-opacity="0.4" stroke="#555555" stroke-width="2.4"/>
<circle cx="1050.9" cy="2524.5" r="11.0" fill="#9ba2a7" fill-opacity="0.4" stroke="#555555" stroke-width="2.4"/>
<path d="M1037.6 2500.6H1064.1M1037.6 2515.9H1064.1M1050.9 2500.6V2515.9" stroke="#555555" stroke-width="6.8" fill="none"/>
<circle cx="1104.3" cy="2402.3" r="11.0" fill="#50ac9b" fill-opacity="0.4" stroke="#2e7d6a" stroke-width="2.4"/>
<circle cx="1104.3" cy="2429.4" r="11.0" fill="#50ac9b" fill-opacity="0.4" stroke="#2e7d6a" stroke-width="2.4"/>
<circle cx="1104.3" cy="2446.3" r="11.0" fill="#50ac9b" fill-opacity="0.4" stroke="#2e7d6a" stroke-width="2.4"/>
<path d="M1091.1 2410.4H1117.5M1091.1 2444.5H1117.5M1104.3 2410.4V2444.5" stroke="#2e7d6a" stroke-width="6.8" fill="none"/>
<circle cx="1157.8" cy="2411.6" r="11.0" fill="#e1c55c" fill-opacity="0.4" stroke="#d0562a" stroke-width="2.4"/>
<circle cx="1157.8" cy="2430.9" r="11.0" fill="#e1c55c" fill-opacity="0.4" stroke="#d0562a" stroke-width="2.4"/>
<circle cx="1157.8" cy="2444.5" r="11.0" fill="#e1c55c" fill-opacity="0.4" stroke="#d0562a" stroke-width="2.4"/>
<path d="M1144.5 2420.4H1171.0M1144.5 2440.4H1171.0M1157.8 2420.4V2440.4" stroke="#d0562a" stroke-width="6.8" fill="none"/>
<path d="M1050.9 2386.5V2379.5H1104.3V2386.5" stroke="#000" stroke-width="2.3" fill="none"/>
<path d="M1050.9 2357.2V2350.2H1157.8V2357.2" stroke="#000" stroke-width="2.3" fill="none"/>
<text x="1077.6" y="2376.3" font-size="37.5" text-anchor="middle" font-family='"Liberation Sans", Arial, Helvetica, sans-serif'><tspan font-style="italic">p</tspan> = 0.009</text>
<text x="1104.3" y="2347.0" font-size="37.5" text-anchor="middle" font-family='"Liberation Sans", Arial, Helvetica, sans-serif'><tspan font-style="italic">p</tspan> = 0.011</text>
<rect x="1227.9" y="2506.6" width="46.8" height="142.4" fill="#dfe1e2" stroke="#555555" stroke-width="6.8"/>
<rect x="1281.4" y="2380.3" width="46.8" height="268.7" fill="#b5dcd5" stroke="#2e7d6a" stroke-width="6.8"/>
<rect x="1334.8" y="2388.3" width="46.8" height="260.7" fill="#f0e3ae" stroke="#d0562a" stroke-width="6.8"/>
<circle cx="1251.3" cy="2482.5" r="11.0" fill="#9ba2a7" fill-opacity="0.4" stroke="#555555" stroke-width="2.4"/>
<circle cx="1251.3" cy="2516.3" r="11.0" fill="#9ba2a7" fill-opacity="0.4" stroke="#555555" stroke-width="2.4"/>
<circle cx="1251.3" cy="2526.6" r="11.0" fill="#9ba2a7" fill-opacity="0.4" stroke="#555555" stroke-width="2.4"/>
<path d="M1238.1 2496.6H1264.5M1238.1 2520.6H1264.5M1251.3 2496.6V2520.6" stroke="#555555" stroke-width="6.8" fill="none"/>
<circle cx="1304.7" cy="2344.3" r="11.0" fill="#50ac9b" fill-opacity="0.4" stroke="#2e7d6a" stroke-width="2.4"/>
<circle cx="1304.7" cy="2400.3" r="11.0" fill="#50ac9b" fill-opacity="0.4" stroke="#2e7d6a" stroke-width="2.4"/>
<circle cx="1304.7" cy="2408.4" r="11.0" fill="#50ac9b" fill-opacity="0.4" stroke="#2e7d6a" stroke-width="2.4"/>
<path d="M1291.5 2362.2H1318.0M1291.5 2402.3H1318.0M1304.7 2362.2V2402.3" stroke="#2e7d6a" stroke-width="6.8" fill="none"/>
<circle cx="1358.2" cy="2346.1" r="11.0" fill="#e1c55c" fill-opacity="0.4" stroke="#d0562a" stroke-width="2.4"/>
<circle cx="1358.2" cy="2356.1" r="11.0" fill="#e1c55c" fill-opacity="0.4" stroke="#d0562a" stroke-width="2.4"/>
<circle cx="1358.2" cy="2434.3" r="11.0" fill="#e1c55c" fill-opacity="0.4" stroke="#d0562a" stroke-width="2.4"/>
<path d="M1345.0 2366.3H1371.4M1345.0 2413.6H1371.4M1358.2 2366.3V2413.6" stroke="#d0562a" stroke-width="6.8" fill="none"/>
<path d="M1251.3 2330.4V2323.4H1304.7V2330.4" stroke="#000" stroke-width="2.3" fill="none"/>
<path d="M1251.3 2301.1V2294.1H1358.2V2301.1" stroke="#000" stroke-width="2.3" fill="none"/>
<text x="1278.0" y="2320.2" font-size="37.5" text-anchor="middle" font-family='"Liberation Sans", Arial, Helvetica, sans-serif'><tspan font-style="italic">p</tspan> = 0.008</text>
<text x="1304.7" y="2290.9" font-size="37.5" text-anchor="middle" font-family='"Liberation Sans", Arial, Helvetica, sans-serif'><tspan font-style="italic">p</tspan> = 0.011</text>
</g>
<path d="M302.6 2652.4V2661.4" stroke="#222" stroke-width="3"/>
<text x="302.6" y="2713.5" font-size="48" font-style="italic" text-anchor="middle" font-family='"Liberation Sans", Arial, Helvetica, sans-serif'>WNT3</text>
<path d="M503.0 2652.4V2661.4" stroke="#222" stroke-width="3"/>
<text x="503.0" y="2713.5" font-size="48" font-style="italic" text-anchor="middle" font-family='"Liberation Sans", Arial, Helvetica, sans-serif'>WNT6</text>
<path d="M703.4 2652.4V2661.4" stroke="#222" stroke-width="3"/>
<text x="703.4" y="2713.5" font-size="48" font-style="italic" text-anchor="middle" font-family='"Liberation Sans", Arial, Helvetica, sans-serif'>WNT8B</text>
<path d="M903.9 2652.4V2661.4" stroke="#222" stroke-width="3"/>
<text x="903.9" y="2713.5" font-size="48" font-style="italic" text-anchor="middle" font-family='"Liberation Sans", Arial, Helvetica, sans-serif'>WNT10B</text>
<path d="M1104.3 2652.4V2661.4" stroke="#222" stroke-width="3"/>
<text x="1104.3" y="2713.5" font-size="48" font-style="italic" text-anchor="middle" font-family='"Liberation Sans", Arial, Helvetica, sans-serif'>AXIN2</text>
<path d="M1304.7 2652.4V2661.4" stroke="#222" stroke-width="3"/>
<text x="1304.7" y="2713.5" font-size="48" font-style="italic" text-anchor="middle" font-family='"Liberation Sans", Arial, Helvetica, sans-serif'>TCF7</text>
<rect x="182.3" y="2265.5" width="1242.7" height="386.9" fill="none" stroke="#222" stroke-width="2"/>
<text x="0" y="0" font-size="61.5" text-anchor="middle" font-family='"Liberation Sans", Arial, Helvetica, sans-serif' transform="translate(86.5 2218) rotate(-90)">Relative gene experssion</text>
<rect x="1576.2" y="2083.2" width="66.7" height="66.7" fill="#dfe1e2" stroke="#555555" stroke-width="7"/>
<path d="M1576.2 2116.6H1642.9" stroke="#555555" stroke-width="7"/>
<circle cx="1609.5" cy="2116.6" r="14.5" fill="#9ba2a7" fill-opacity="0.4" stroke="#555555" stroke-width="2.4"/>
<text x="1676" y="2133.7" font-size="44.5" font-family='"Liberation Sans", Arial, Helvetica, sans-serif'>Ctrl</text>
<rect x="1576.2" y="2163.4" width="66.7" height="66.7" fill="#b5dcd5" stroke="#2e7d6a" stroke-width="7"/>
<path d="M1576.2 2196.8H1642.9" stroke="#2e7d6a" stroke-width="7"/>
<circle cx="1609.5" cy="2196.8" r="14.5" fill="#50ac9b" fill-opacity="0.4" stroke="#2e7d6a" stroke-width="2.4"/>
<text x="1676" y="2213.9" font-size="44.5" font-family='"Liberation Sans", Arial, Helvetica, sans-serif'>CS</text>
<rect x="1576.2" y="2243.5" width="66.7" height="66.7" fill="#f0e3ae" stroke="#d0562a" stroke-width="7"/>
<path d="M1576.2 2276.9H1642.9" stroke="#d0562a" stroke-width="7"/>
<circle cx="1609.5" cy="2276.9" r="14.5" fill="#e1c55c" fill-opacity="0.4" stroke="#d0562a" stroke-width="2.4"/>
<text x="1676" y="2294.0" font-size="44.5" font-family='"Liberation Sans", Arial, Helvetica, sans-serif'>AMP</text>
</svg>
</body></html>
